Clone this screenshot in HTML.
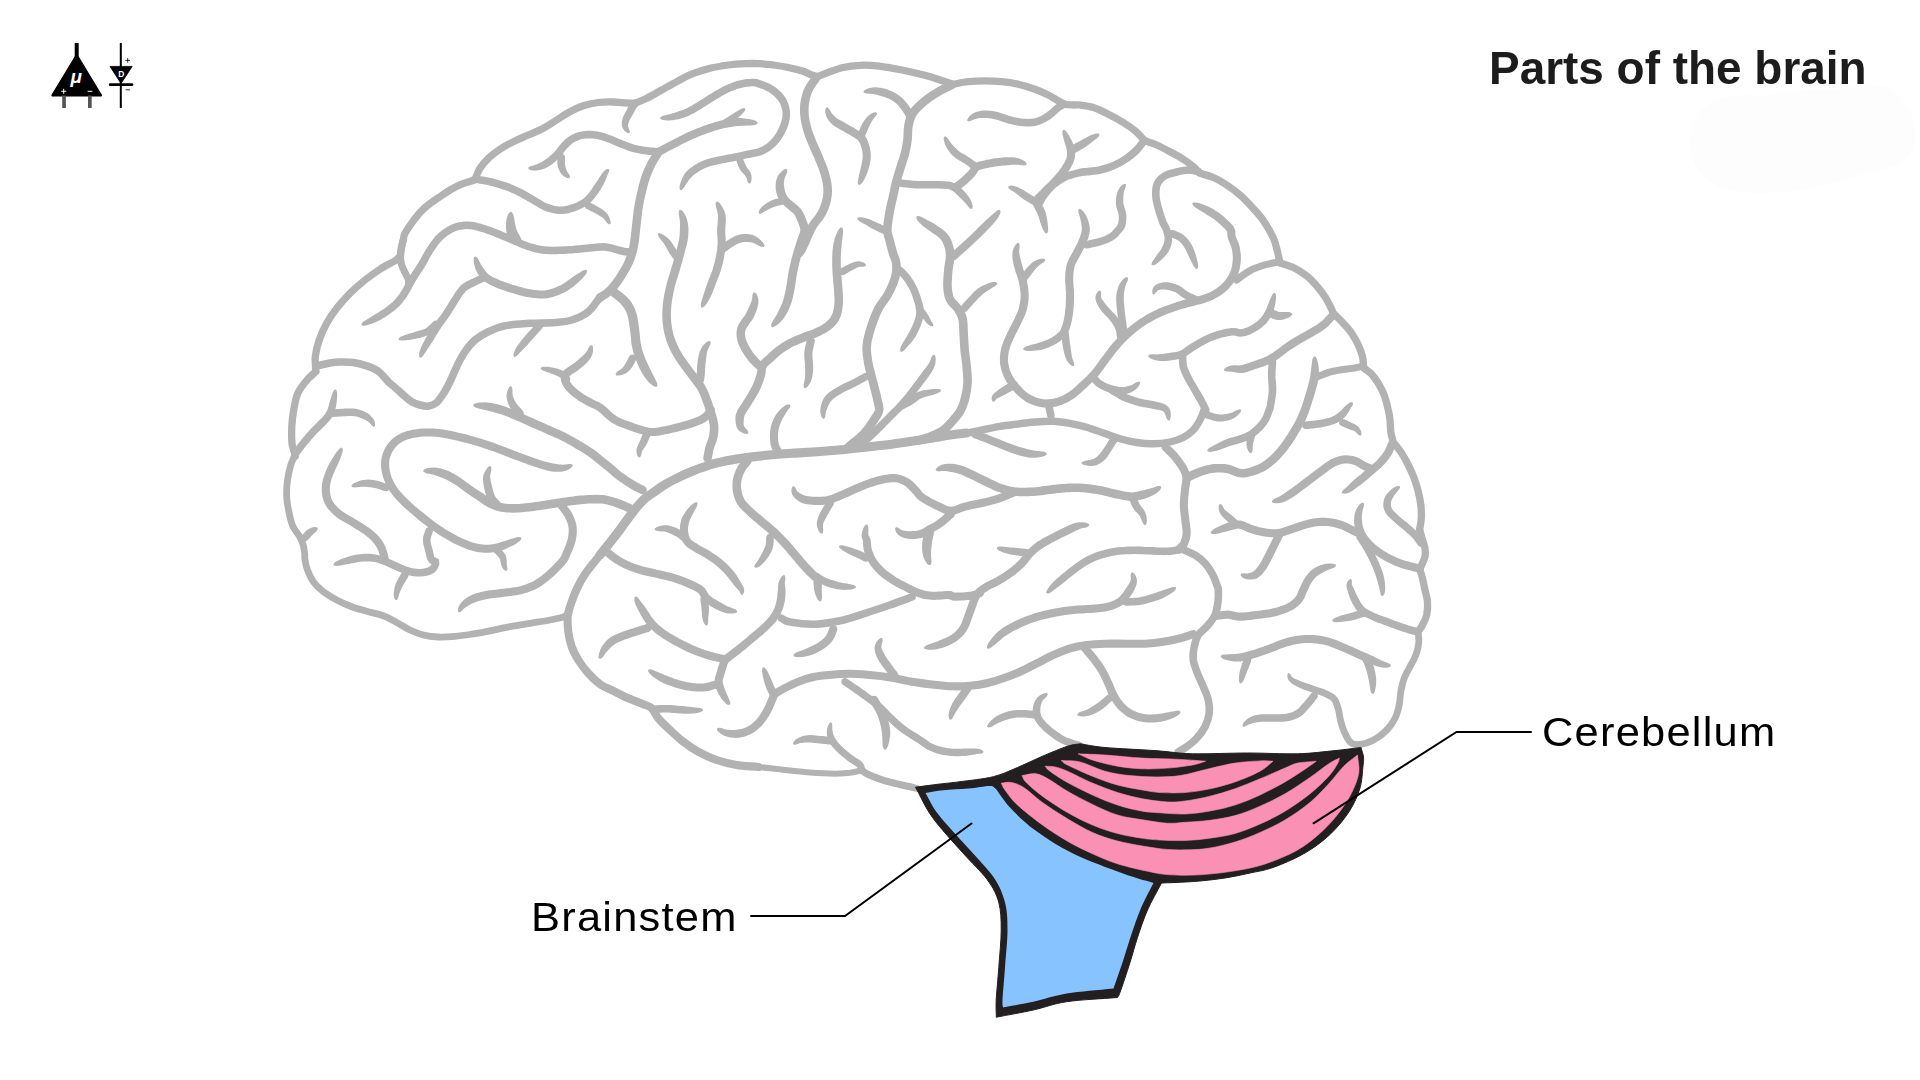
<!DOCTYPE html>
<html><head><meta charset="utf-8"><title>Parts of the brain</title>
<style>
html,body{margin:0;padding:0;background:#fff;}
body{width:1920px;height:1080px;overflow:hidden;position:relative;font-family:"Liberation Sans",sans-serif;}
svg{position:absolute;left:0;top:0;}
.t{position:absolute;white-space:nowrap;line-height:1;color:#000;transform-origin:0 0;filter:grayscale(1);}
</style></head><body>
<svg width="1920" height="1080" viewBox="0 0 1920 1080">
<path id="blob" d="M1690 140C1690 100 1730 92 1760 96C1800 88 1840 92 1860 85C1900 80 1918 110 1915 140C1912 170 1880 168 1850 178C1800 195 1740 198 1715 185C1695 172 1690 160 1690 140Z" fill="#fdfdfd"/>
<g id="brain">
<path d="M295.3 456.3C294.9 454.8 294.7 453.8 294.2 451.7C293.6 449.5 292.4 447.5 292.0 443.3C291.6 439.2 291.6 432.2 291.8 426.7C292.1 421.1 292.7 415.6 293.7 410.0C294.7 404.4 295.6 398.3 297.8 393.3C300.1 388.3 304.0 383.6 307.0 380.0C310.0 376.4 312.9 374.4 315.8 371.7" fill="none" stroke="#b2b2b2" stroke-width="7.3" stroke-linecap="round" stroke-linejoin="round"/>
<path d="M315.8 370.0C315.7 365.6 314.8 361.7 315.3 356.7C315.9 351.7 317.3 345.6 319.2 340.0C321.1 334.4 323.8 328.6 326.7 323.3C329.6 318.1 332.8 313.3 336.7 308.3C340.6 303.3 345.3 298.1 350.0 293.3C354.7 288.6 360.0 284.0 365.0 280.0C370.0 276.0 375.0 272.4 380.0 269.2C385.0 266.0 391.9 262.8 395.0 260.8C398.1 258.9 397.4 258.6 398.7 257.5" fill="none" stroke="#b2b2b2" stroke-width="7.3" stroke-linecap="round" stroke-linejoin="round"/>
<path d="M400.4 256.7C400.7 253.9 400.8 251.1 401.3 248.3C401.8 245.5 402.7 242.5 403.3 240.0C403.9 237.5 403.3 236.5 405.0 233.3C406.7 230.1 410.3 224.9 413.3 220.8C416.4 216.8 419.7 212.6 423.3 209.2C426.9 205.7 432.2 202.1 435.0 200.0C437.8 197.9 437.5 198.3 440.0 196.7C442.5 195.0 446.4 192.1 450.0 190.0C453.6 187.9 457.5 185.9 461.7 184.2C465.8 182.4 470.6 181.2 475.0 179.7" fill="none" stroke="#b2b2b2" stroke-width="7.3" stroke-linecap="round" stroke-linejoin="round"/>
<path d="M475.8 177.5C477.2 174.4 477.9 171.5 480.0 168.3C482.1 165.1 485.0 161.5 488.3 158.3C491.7 155.1 495.8 151.9 500.0 149.2C504.2 146.4 508.6 144.0 513.3 141.7C518.1 139.3 523.3 137.2 528.3 135.0C533.3 132.8 538.6 130.8 543.3 128.3C548.1 125.8 552.2 122.8 556.7 120.0C561.1 117.2 565.6 114.0 570.0 111.7C574.4 109.3 578.6 107.4 583.3 105.8C588.1 104.3 593.3 103.1 598.3 102.5C603.3 101.9 608.6 101.9 613.3 102.0C618.1 102.1 622.9 102.8 626.7 103.0C630.4 103.2 632.8 103.0 635.8 103.0" fill="none" stroke="#b2b2b2" stroke-width="7.3" stroke-linecap="round" stroke-linejoin="round"/>
<path d="M635.8 103.0C639.4 101.4 642.4 100.5 646.7 98.3C651.0 96.2 656.7 92.8 661.7 90.0C666.7 87.2 671.7 84.3 676.7 81.7C681.7 79.0 686.1 76.4 691.7 74.2C697.2 71.9 703.9 69.9 710.0 68.3C716.1 66.8 722.5 65.8 728.3 65.0C734.2 64.2 739.7 63.9 745.0 63.7C750.3 63.4 755.3 63.4 760.0 63.7C764.7 63.9 768.6 64.4 773.3 65.0C778.1 65.6 783.6 66.5 788.3 67.5C793.1 68.5 797.8 69.6 801.7 70.8C805.6 72.1 809.0 74.0 811.7 75.0C814.3 76.0 815.6 76.1 817.5 76.7" fill="none" stroke="#b2b2b2" stroke-width="7.3" stroke-linecap="round" stroke-linejoin="round"/>
<path d="M818.3 76.3C822.2 74.8 825.8 73.1 830.0 71.7C834.2 70.2 838.3 68.6 843.3 67.5C848.3 66.4 854.4 65.6 860.0 65.3C865.6 65.1 871.1 65.3 876.7 65.8C882.2 66.3 887.8 67.4 893.3 68.3C898.9 69.3 904.4 70.4 910.0 71.7C915.6 72.9 921.7 74.4 926.7 75.8C931.7 77.2 935.7 78.6 940.0 80.0C944.3 81.4 948.3 82.8 952.5 84.2" fill="none" stroke="#b2b2b2" stroke-width="7.3" stroke-linecap="round" stroke-linejoin="round"/>
<path d="M953.3 84.2C958.3 83.3 963.1 82.2 968.3 81.7C973.6 81.1 979.4 80.8 985.0 80.8C990.6 80.8 996.1 81.1 1001.7 81.7C1007.2 82.2 1012.8 82.9 1018.3 84.2C1023.9 85.4 1030.0 87.4 1035.0 89.2C1040.0 91.0 1044.4 93.1 1048.3 95.0C1052.2 96.9 1055.6 99.3 1058.3 100.8C1061.1 102.4 1062.5 103.5 1065.0 104.2C1067.5 104.9 1070.8 104.9 1073.3 105.0C1075.8 105.1 1076.7 104.6 1080.0 105.0C1083.3 105.4 1088.6 106.0 1093.3 107.5C1098.1 109.0 1103.3 111.7 1108.3 114.2C1113.3 116.7 1118.9 119.7 1123.3 122.5C1127.8 125.3 1131.5 127.9 1135.0 130.8C1138.5 133.7 1141.1 136.9 1144.2 140.0" fill="none" stroke="#b2b2b2" stroke-width="7.3" stroke-linecap="round" stroke-linejoin="round"/>
<path d="M1145.0 140.8C1148.9 142.2 1152.5 143.2 1156.7 145.0C1160.8 146.8 1165.6 149.3 1170.0 151.7C1174.4 154.0 1179.4 156.7 1183.3 159.2C1187.2 161.7 1190.7 164.4 1193.3 166.7C1196.0 168.9 1197.2 170.6 1199.2 172.5" fill="none" stroke="#b2b2b2" stroke-width="7.3" stroke-linecap="round" stroke-linejoin="round"/>
<path d="M1200.0 173.3C1204.4 174.7 1208.9 175.6 1213.3 177.5C1217.8 179.4 1222.2 182.1 1226.7 185.0C1231.1 187.9 1235.8 191.4 1240.0 195.0C1244.2 198.6 1248.1 202.8 1251.7 206.7C1255.3 210.6 1258.8 214.4 1261.7 218.3C1264.6 222.2 1267.1 226.4 1269.2 230.0C1271.2 233.6 1272.8 236.4 1274.2 240.0C1275.6 243.6 1276.6 248.1 1277.5 251.7C1278.4 255.3 1278.9 258.3 1279.7 261.7" fill="none" stroke="#b2b2b2" stroke-width="7.3" stroke-linecap="round" stroke-linejoin="round"/>
<path d="M1280.8 263.3C1285.0 264.7 1289.0 265.4 1293.3 267.5C1297.6 269.6 1302.8 272.8 1306.7 275.8C1310.6 278.9 1313.6 282.4 1316.7 285.8C1319.7 289.3 1322.6 293.1 1325.0 296.7C1327.4 300.3 1329.4 304.6 1330.8 307.5C1332.3 310.4 1332.7 311.9 1333.7 314.2" fill="none" stroke="#b2b2b2" stroke-width="7.3" stroke-linecap="round" stroke-linejoin="round"/>
<path d="M1334.2 314.2C1337.2 317.2 1340.4 320.1 1343.3 323.3C1346.2 326.5 1349.2 329.7 1351.7 333.3C1354.2 336.9 1356.5 341.1 1358.3 345.0C1360.1 348.9 1361.6 353.0 1362.5 356.7C1363.4 360.3 1363.3 363.6 1363.7 367.0" fill="none" stroke="#b2b2b2" stroke-width="7.3" stroke-linecap="round" stroke-linejoin="round"/>
<path d="M1364.2 368.3C1366.7 370.3 1369.3 371.7 1371.7 374.2C1374.0 376.7 1376.2 379.9 1378.3 383.3C1380.4 386.8 1382.5 390.6 1384.2 395.0C1385.8 399.4 1387.4 405.8 1388.3 410.0C1389.3 414.2 1389.6 416.4 1390.0 420.0C1390.4 423.6 1390.3 428.1 1390.8 431.7C1391.3 435.3 1392.3 438.3 1393.0 441.7" fill="none" stroke="#b2b2b2" stroke-width="7.3" stroke-linecap="round" stroke-linejoin="round"/>
<path d="M1394.2 443.3C1396.7 446.7 1399.3 449.7 1401.7 453.3C1404.0 456.9 1406.2 460.8 1408.3 465.0C1410.4 469.2 1412.5 473.9 1414.2 478.3C1415.8 482.8 1417.2 487.2 1418.3 491.7C1419.4 496.1 1420.3 500.6 1420.8 505.0C1421.3 509.4 1421.5 514.3 1421.3 518.3C1421.1 522.4 1420.2 525.6 1419.7 529.2" fill="none" stroke="#b2b2b2" stroke-width="7.3" stroke-linecap="round" stroke-linejoin="round"/>
<path d="M1420.0 530.8C1420.8 533.9 1421.7 537.1 1422.5 540.0C1423.3 542.9 1424.6 545.6 1425.0 548.3C1425.4 551.1 1425.6 553.9 1425.0 556.7C1424.4 559.4 1422.6 562.9 1421.7 565.0C1420.8 567.1 1420.3 567.8 1419.7 569.2" fill="none" stroke="#b2b2b2" stroke-width="7.3" stroke-linecap="round" stroke-linejoin="round"/>
<path d="M1420.0 570.0C1420.8 572.8 1421.7 575.0 1422.5 578.3C1423.3 581.7 1424.2 586.1 1425.0 590.0C1425.8 593.9 1427.2 597.5 1427.5 601.7C1427.8 605.8 1427.5 611.1 1426.7 615.0C1425.8 618.9 1423.9 622.2 1422.5 625.0C1421.1 627.8 1419.5 629.4 1418.0 631.7" fill="none" stroke="#b2b2b2" stroke-width="7.3" stroke-linecap="round" stroke-linejoin="round"/>
<path d="M1414.9 632.7L1415.1 634.9L1415.2 637.0L1415.4 639.1L1415.4 641.0L1415.3 643.0L1415.0 645.1L1414.6 647.2L1414.1 649.4L1413.4 651.6L1412.6 653.8L1411.9 655.6L1411.1 657.4L1410.1 659.2L1409.1 661.2L1408.0 663.1L1407.0 665.1L1406.0 667.0L1405.0 668.9L1403.9 670.8L1402.9 672.8L1401.9 674.9L1401.0 677.1L1400.2 679.4L1399.5 681.8L1398.9 684.1L1398.4 686.4L1397.9 688.8L1397.5 691.1L1397.1 693.4L1396.9 695.8L1396.7 698.0L1396.5 700.2L1396.2 702.3L1395.8 704.3L1395.4 706.5L1394.8 708.7L1394.2 710.8L1393.6 712.9L1392.8 714.9L1392.0 716.8L1390.9 718.7L1389.8 720.6L1388.5 722.4L1387.2 724.2L1385.7 726.0L1384.2 727.6L1382.6 729.3L1380.9 730.8L1379.0 732.3L1377.2 733.7L1375.2 735.0L1373.3 736.2L1371.3 737.3L1369.2 738.3L1367.1 739.1L1364.9 739.9L1362.9 740.4L1361.1 740.8L1359.1 741.1L1357.2 741.2L1355.6 741.0L1354.3 740.7L1353.2 740.2L1352.3 739.3L1351.2 738.0L1350.2 736.1L1349.1 734.0L1348.1 731.9L1347.1 729.8L1346.3 727.7L1345.5 725.4L1344.8 723.1L1344.1 720.8L1343.7 718.9L1343.3 716.9L1342.9 714.8L1342.6 712.6L1342.1 710.4L1341.6 708.3L1340.9 706.0L1340.2 703.7L1339.4 701.4L1338.3 699.1L1336.8 697.0L1334.9 695.1L1332.9 693.6L1330.8 692.4L1328.7 691.3L1326.4 690.2L1324.3 689.3L1322.0 688.5L1319.6 687.7L1317.3 687.0L1315.0 686.2L1312.8 685.5L1310.5 684.6L1308.1 683.8L1305.8 683.0L1303.5 682.2L1301.5 681.4L1299.7 680.7L1297.3 679.8L1295.4 679.0L1293.8 678.2L1292.7 677.5L1291.6 676.4L1290.7 674.8L1289.1 673.1L1287.6 673.6L1287.3 675.9L1287.6 678.3L1288.9 680.8L1290.6 682.5L1292.5 684.0L1294.6 685.3L1297.0 686.6L1299.0 687.5L1301.1 688.5L1303.5 689.4L1305.9 690.2L1308.2 691.0L1310.5 691.9L1312.9 692.7L1315.2 693.4L1317.5 694.2L1319.7 694.9L1321.8 695.7L1323.6 696.4L1325.7 697.4L1327.6 698.4L1329.2 699.3L1330.5 700.3L1331.6 701.3L1332.4 702.6L1333.1 704.1L1333.8 705.9L1334.4 707.9L1335.1 710.1L1335.5 711.9L1335.9 713.8L1336.2 715.9L1336.6 718.1L1337.0 720.3L1337.5 722.5L1338.3 725.1L1339.0 727.6L1339.9 730.0L1340.9 732.5L1341.9 734.8L1343.0 737.0L1344.2 739.4L1345.6 741.7L1347.3 744.0L1349.4 745.8L1351.9 747.1L1354.5 747.7L1357.1 748.0L1359.6 747.9L1362.2 747.5L1364.5 747.0L1367.0 746.4L1369.4 745.5L1371.9 744.5L1374.4 743.4L1376.7 742.1L1378.9 740.8L1381.1 739.3L1383.3 737.7L1385.3 736.0L1387.3 734.2L1389.1 732.4L1390.9 730.5L1392.5 728.5L1394.1 726.4L1395.5 724.3L1396.8 722.1L1398.0 719.8L1399.1 717.5L1400.0 715.1L1400.8 712.7L1401.4 710.4L1402.0 708.0L1402.5 705.7L1402.9 703.3L1403.2 700.9L1403.4 698.6L1403.6 696.4L1403.9 694.3L1404.2 692.2L1404.6 690.1L1405.1 687.9L1405.5 685.7L1406.1 683.5L1406.7 681.5L1407.4 679.5L1408.1 677.7L1409.0 675.8L1409.9 674.0L1410.9 672.1L1412.0 670.2L1413.0 668.2L1414.0 666.3L1415.0 664.4L1416.1 662.4L1417.2 660.4L1418.1 658.3L1419.0 656.2L1419.9 653.7L1420.6 651.2L1421.2 648.7L1421.7 646.2L1422.0 643.7L1422.2 641.2L1422.2 638.8L1422.0 636.5L1421.8 634.4L1421.7 632.3L1421.4 631.0L1420.6 630.0L1419.5 629.3L1418.1 629.1L1416.9 629.4L1415.8 630.2L1415.1 631.4Z" fill="#b2b2b2"/>
<path d="M294.3 456.3C293.2 459.2 292.0 461.1 290.8 465.0C289.7 468.9 288.2 474.7 287.5 480.0C286.8 485.3 286.4 491.1 286.7 496.7C286.9 502.2 288.1 508.3 289.2 513.3C290.2 518.3 291.3 522.9 293.0 526.7C294.7 530.4 297.5 532.9 299.2 535.8C300.8 538.8 302.1 541.2 303.0 544.2C303.9 547.1 304.3 550.7 304.7 553.3C305.0 556.0 304.5 557.2 305.0 560.0C305.5 562.8 306.1 566.4 307.5 570.0C308.9 573.6 310.7 578.1 313.3 581.7C316.0 585.3 319.4 588.6 323.3 591.7C327.2 594.7 331.9 597.5 336.7 600.0C341.4 602.5 346.4 604.7 351.7 606.7C356.9 608.6 363.1 610.1 368.3 611.7C373.6 613.2 378.6 614.0 383.3 615.8C388.1 617.6 392.2 620.1 396.7 622.5C401.1 624.9 405.6 627.9 410.0 630.0C414.4 632.1 418.6 633.8 423.3 635.0C428.1 636.2 433.1 636.8 438.3 637.0C443.6 637.2 449.4 636.8 455.0 636.3C460.6 635.9 465.8 635.1 471.7 634.2C477.5 633.2 483.6 632.1 490.0 630.8C496.4 629.6 503.3 627.9 510.0 626.7C516.7 625.4 523.3 624.4 530.0 623.3C536.7 622.2 544.7 621.0 550.0 620.0C555.3 619.0 558.8 618.3 561.7 617.5C564.5 616.7 565.2 615.8 567.0 615.0" fill="none" stroke="#b2b2b2" stroke-width="6.8" stroke-linecap="round" stroke-linejoin="round"/>
<path d="M1204.2 410.0C1202.8 413.3 1201.8 416.7 1200.0 420.0C1198.2 423.3 1196.1 427.1 1193.3 430.0C1190.6 432.9 1187.2 435.5 1183.3 437.5C1179.4 439.5 1175.0 440.9 1170.0 442.0C1165.0 443.1 1158.9 443.8 1153.3 443.8C1147.8 443.9 1142.2 443.4 1136.7 442.5C1131.1 441.6 1125.6 440.2 1120.0 438.7C1114.4 437.1 1108.9 434.9 1103.3 433.0C1097.8 431.1 1092.2 428.8 1086.7 427.2C1081.1 425.6 1075.6 424.3 1070.0 423.3C1064.4 422.4 1059.2 421.6 1053.3 421.3C1047.5 421.1 1041.1 421.5 1035.0 422.0C1028.9 422.5 1022.5 423.4 1016.7 424.2C1010.8 424.9 1005.6 425.4 1000.0 426.3C994.4 427.2 988.9 428.6 983.3 429.7C977.8 430.8 972.2 432.1 966.7 433.0C961.1 433.9 955.3 434.2 950.0 435.0C944.7 435.8 940.0 436.7 935.0 437.5C930.0 438.3 925.0 439.2 920.0 440.0" fill="none" stroke="#b2b2b2" stroke-width="7.4" stroke-linecap="round" stroke-linejoin="round"/>
<path d="M966.7 433.0C961.1 433.7 955.3 434.2 950.0 435.0C944.7 435.8 940.0 436.7 935.0 437.5C930.0 438.3 927.2 438.9 920.0 440.0C912.8 441.1 900.6 443.0 891.7 444.2C882.8 445.3 875.0 446.1 866.7 447.0C858.3 447.9 850.0 448.9 841.7 449.7C833.3 450.4 825.0 451.1 816.7 451.7C808.3 452.3 800.0 452.7 791.7 453.3C783.3 453.9 774.2 454.6 766.7 455.3C759.2 456.0 753.3 456.6 746.7 457.5C740.0 458.4 732.8 459.6 726.7 460.8C720.5 462.1 715.2 463.3 709.7 465.0C704.1 466.7 698.6 468.8 693.3 470.8C688.1 472.9 682.9 475.3 678.3 477.5C673.7 479.7 669.8 481.7 665.7 484.2C661.5 486.7 656.9 490.0 653.3 492.5C649.8 495.0 647.1 496.5 644.2 499.2C641.2 501.8 638.6 505.0 635.8 508.3C633.1 511.7 630.3 515.4 627.5 519.2C624.7 522.9 622.1 526.9 619.2 530.8C616.2 534.7 613.2 538.5 610.0 542.5C606.8 546.5 603.3 550.8 600.0 555.0" fill="none" stroke="#b2b2b2" stroke-width="9.1" stroke-linecap="round" stroke-linejoin="round"/>
<path d="M619.2 530.8C616.1 534.7 613.2 538.5 610.0 542.5C606.8 546.5 602.8 551.5 600.0 555.0C597.2 558.5 595.8 560.1 593.3 563.3C590.8 566.5 587.6 570.1 585.0 574.2C582.4 578.2 579.7 582.9 577.5 587.5C575.3 592.1 573.3 596.9 571.7 601.7C570.1 606.4 568.4 610.8 567.8 615.8C567.3 620.8 567.7 626.5 568.3 631.7C569.0 636.8 570.0 641.9 571.7 646.7C573.3 651.4 575.6 655.6 578.3 660.0C581.1 664.4 584.7 669.3 588.3 673.3C591.9 677.4 595.8 681.2 600.0 684.2C604.2 687.1 608.6 688.5 613.3 690.8C618.1 693.2 623.3 696.1 628.3 698.3C633.3 700.6 639.4 702.5 643.3 704.2C647.2 705.8 649.2 706.0 651.7 708.3C654.2 710.7 655.3 714.7 658.3 718.3C661.4 721.9 665.8 726.1 670.0 730.0C674.2 733.9 678.6 738.1 683.3 741.7C688.1 745.3 692.8 748.6 698.3 751.7C703.9 754.7 710.3 757.8 716.7 760.0C723.1 762.2 729.7 763.8 736.7 765.0C743.6 766.2 751.1 766.3 758.3 767.0" fill="none" stroke="#b2b2b2" stroke-width="8.1" stroke-linecap="round" stroke-linejoin="round"/>
<path d="M736.7 765.0C743.9 765.7 750.3 766.2 758.3 767.0C766.4 767.8 776.4 769.1 785.0 770.0C793.6 770.9 801.7 771.9 810.0 772.5C818.3 773.1 828.3 773.6 835.0 773.7C841.7 773.7 845.8 773.1 850.0 772.7C854.2 772.2 856.7 771.4 860.0 770.8" fill="none" stroke="#b2b2b2" stroke-width="6.1" stroke-linecap="round" stroke-linejoin="round"/>
<path d="M362.0 325.4L364.4 325.7L366.5 325.3L368.6 324.8L370.8 324.1L373.1 323.3L375.1 322.4L377.1 321.5L379.2 320.5L381.3 319.4L383.4 318.1L385.4 316.9L387.4 315.5L389.5 314.1L391.6 312.6L393.7 311.1L395.7 309.5L397.6 307.8L399.4 306.0L401.0 304.2L402.5 302.4L403.9 300.6L405.2 298.9L406.5 297.2L407.8 295.1L409.0 293.1L410.1 291.2L411.0 289.4L412.0 287.7L413.1 285.6L414.2 283.7L415.2 281.8L416.6 279.5L417.5 278.0L418.6 276.3L419.8 274.5L421.1 272.6L422.4 270.7L423.7 268.7L424.9 266.6L426.1 264.5L427.3 262.4L428.5 260.2L429.6 258.1L430.8 256.0L432.0 254.0L433.2 252.1L434.5 250.1L435.8 248.2L437.1 246.3L438.4 244.5L439.8 242.8L441.2 241.2L442.6 239.8L444.2 238.3L445.9 237.0L447.7 235.6L449.5 234.4L451.3 233.3L453.1 232.3L454.8 231.5L456.8 230.7L458.7 230.1L460.7 229.7L462.7 229.4L464.7 229.2L466.7 229.1L468.6 229.2L470.5 229.3L472.5 229.6L474.5 230.0L476.7 230.6L479.0 231.2L480.8 231.7L482.8 232.3L484.8 233.0L486.8 233.7L488.9 234.5L491.1 235.3L493.2 236.1L495.3 236.9L497.3 237.7L499.4 238.5L501.4 239.4L503.5 240.3L505.6 241.2L507.7 242.1L509.8 243.0L511.9 243.8L513.9 244.7L516.0 245.6L518.1 246.5L520.2 247.4L522.3 248.3L524.5 249.1L526.7 249.9L528.9 250.6L531.2 251.3L533.5 252.0L535.8 252.6L538.2 253.1L540.7 253.5L543.5 253.9L546.4 254.1L548.5 254.2L550.6 254.3L552.8 254.3L555.1 254.3L557.4 254.2L559.8 254.1L562.2 254.0L564.6 253.9L567.0 253.8L569.5 253.6L571.9 253.5L574.3 253.3L576.8 253.1L579.3 252.8L582.0 252.6L584.6 252.3L587.3 252.0L589.8 251.8L592.3 251.5L594.6 251.3L596.7 251.1L598.6 250.9L600.2 250.8L603.5 250.7L605.0 250.7L606.0 250.9L607.6 251.2L609.5 251.6L611.5 252.1L613.6 252.8L615.7 253.3L617.8 253.9L620.0 254.5L622.2 255.0L624.5 255.4L627.1 255.7L629.4 255.7L631.6 255.8L633.0 255.5L634.3 254.7L635.1 253.5L635.5 252.1L635.2 250.6L634.4 249.4L633.2 248.5L631.8 248.2L629.6 248.2L627.6 248.1L625.5 247.9L623.8 247.6L621.9 247.1L619.7 246.5L617.6 246.0L615.6 245.4L613.5 244.8L611.3 244.2L609.1 243.8L607.4 243.4L605.8 243.2L603.5 243.1L599.8 243.2L598.0 243.3L596.1 243.5L593.9 243.7L591.5 243.9L589.0 244.2L586.5 244.5L583.9 244.8L581.2 245.0L578.6 245.3L576.1 245.5L573.7 245.7L571.4 245.9L569.0 246.0L566.6 246.2L564.2 246.3L561.8 246.4L559.5 246.5L557.2 246.6L554.9 246.7L552.8 246.7L550.7 246.7L548.8 246.6L546.9 246.5L544.2 246.3L541.9 246.0L539.7 245.6L537.6 245.2L535.5 244.6L533.4 244.0L531.1 243.4L529.1 242.7L527.2 242.0L525.2 241.2L523.1 240.4L521.1 239.5L519.0 238.6L516.9 237.7L514.8 236.8L512.7 236.0L510.7 235.1L508.6 234.2L506.5 233.3L504.4 232.4L502.3 231.5L500.2 230.6L498.0 229.8L495.9 229.0L493.8 228.2L491.6 227.3L489.4 226.5L487.2 225.8L485.1 225.1L483.0 224.4L481.0 223.8L478.5 223.2L476.1 222.6L473.8 222.1L471.4 221.8L469.1 221.6L466.6 221.5L464.2 221.6L461.8 221.9L459.3 222.2L456.8 222.8L454.3 223.5L451.8 224.5L449.7 225.5L447.5 226.7L445.4 228.0L443.3 229.4L441.2 231.0L439.3 232.6L437.4 234.2L435.6 236.0L433.9 237.9L432.4 239.9L430.9 241.9L429.5 243.9L428.2 245.9L426.8 247.9L425.5 250.1L424.2 252.2L423.0 254.4L421.8 256.6L420.7 258.7L419.5 260.8L418.4 262.7L417.2 264.6L416.0 266.5L414.7 268.4L413.5 270.3L412.3 272.1L411.1 273.9L410.1 275.5L408.6 278.0L407.5 280.1L406.5 282.0L405.3 284.0L404.4 285.8L403.4 287.6L402.4 289.3L401.4 291.1L400.2 292.8L399.1 294.4L397.9 296.0L396.6 297.6L395.3 299.2L393.9 300.8L392.4 302.2L390.8 303.6L389.0 305.1L387.1 306.5L385.2 307.9L383.2 309.2L381.3 310.5L379.4 311.7L377.5 312.9L375.6 314.1L373.7 315.2L371.9 316.3L370.2 317.4L368.3 318.6L366.5 319.7L364.7 320.8L362.9 322.0L361.4 323.9Z" fill="#b2b2b2"/>
<path d="M403.3 240.0C402.6 242.8 401.8 245.5 401.3 248.3C400.8 251.1 400.3 253.9 400.4 256.7C400.5 259.5 400.9 262.4 401.7 265.0C402.5 267.6 403.9 270.1 405.0 272.5C406.1 274.9 407.7 277.3 408.3 279.5C408.9 281.7 408.5 283.5 408.6 285.5" fill="none" stroke="#b2b2b2" stroke-width="7.1" stroke-linecap="round" stroke-linejoin="round"/>
<path d="M510.0 212.0L508.1 214.2L507.3 216.5L506.7 218.8L506.2 221.2L506.0 223.6L505.9 226.3L506.0 229.0L506.4 231.6L507.0 234.2L508.0 236.7L509.2 238.9L510.3 240.6L511.2 242.3L512.6 243.9L514.5 244.8L516.5 244.9L518.5 244.3L520.0 242.9L521.0 241.0L521.1 239.0L520.4 237.0L519.4 235.2L518.4 233.5L517.6 232.1L517.0 230.8L516.4 229.2L515.9 227.4L515.5 225.3L515.0 223.1L514.7 221.2L514.3 219.1L513.9 216.8L513.3 214.4L511.6 212.0Z" fill="#b2b2b2"/>
<path d="M474.2 256.9L473.6 259.2L473.7 261.4L474.0 263.6L474.5 265.8L475.2 268.1L476.1 270.4L477.2 272.7L478.6 275.1L480.2 277.5L482.2 279.6L484.2 281.2L486.2 282.6L488.3 283.8L490.4 284.9L492.7 286.0L495.0 287.0L497.0 287.9L499.0 288.7L501.2 289.5L503.4 290.2L505.6 291.0L507.8 291.7L510.0 292.4L512.2 293.0L514.6 293.8L517.0 294.5L519.4 295.2L521.9 295.8L524.4 296.4L526.9 296.9L529.4 297.3L531.8 297.7L534.3 298.0L536.8 298.3L539.3 298.5L541.9 298.6L544.6 298.5L547.2 298.2L549.6 297.8L551.9 297.2L554.2 296.6L556.5 295.8L558.7 294.9L560.9 294.0L563.1 293.0L565.3 291.9L567.4 290.7L569.6 289.3L571.7 287.8L573.8 286.2L575.7 284.6L577.5 283.0L579.1 281.6L580.5 280.2L582.5 278.3L584.0 276.5L585.3 274.9L586.5 273.2L587.2 270.9L586.1 269.7L583.7 270.2L582.0 271.1L580.3 272.2L578.4 273.4L576.2 274.8L574.5 275.8L572.7 277.1L570.8 278.4L568.9 279.8L567.0 281.2L565.1 282.5L563.2 283.7L561.4 284.8L559.6 285.7L557.6 286.6L555.7 287.4L553.7 288.2L551.8 288.8L549.8 289.4L547.9 289.8L546.1 290.2L544.0 290.4L541.9 290.5L539.7 290.4L537.5 290.2L535.3 290.0L532.9 289.7L530.6 289.3L528.4 288.9L526.1 288.5L523.8 287.9L521.5 287.3L519.2 286.7L516.9 286.0L514.5 285.3L512.4 284.7L510.3 284.0L508.1 283.3L506.0 282.6L503.9 281.8L501.9 281.1L500.0 280.4L498.3 279.6L496.1 278.6L494.0 277.7L492.2 276.7L490.5 275.7L489.0 274.7L487.8 273.7L486.4 272.3L485.1 270.7L483.8 268.9L482.6 267.0L481.4 265.2L480.4 263.5L479.5 261.8L478.6 260.0L477.6 258.1L475.8 256.4Z" fill="#b2b2b2"/>
<path d="M483.4 273.6L481.4 274.5L479.5 275.4L477.5 276.3L475.5 277.2L473.5 278.2L471.6 279.1L469.5 280.1L467.4 281.1L465.2 282.3L463.0 283.7L460.7 285.6L459.0 287.5L457.4 289.5L455.9 291.6L454.5 293.7L453.2 295.8L451.8 297.9L450.6 299.8L449.4 301.7L448.2 303.7L447.0 305.7L445.8 307.6L444.7 309.5L443.5 311.2L442.2 313.2L440.8 315.0L439.4 316.9L438.0 318.8L436.6 320.8L435.2 322.9L433.9 324.8L432.7 326.7L431.5 328.7L430.2 330.7L429.0 332.6L427.9 334.5L426.7 336.4L425.5 338.5L424.4 340.7L423.3 342.8L422.3 344.8L421.4 346.8L420.7 348.6L419.8 351.0L419.3 353.1L419.0 355.0L419.3 357.2L420.7 357.8L422.5 356.5L423.6 354.9L424.7 353.3L426.0 351.4L427.0 349.8L428.2 348.1L429.4 346.3L430.7 344.3L432.0 342.3L433.3 340.3L434.4 338.5L435.5 336.6L436.7 334.6L437.9 332.7L439.1 330.8L440.3 328.9L441.5 327.1L442.8 325.2L444.2 323.3L445.6 321.4L447.0 319.5L448.4 317.5L449.8 315.4L451.1 313.5L452.3 311.6L453.5 309.6L454.7 307.7L455.9 305.7L457.0 303.9L458.2 302.1L459.6 299.9L460.9 297.8L462.2 295.8L463.5 294.0L464.7 292.4L465.9 291.1L467.4 289.9L469.0 288.9L470.8 287.9L472.9 287.0L475.0 285.9L476.9 285.0L478.7 284.1L480.7 283.2L482.6 282.3L484.6 281.4L486.6 280.4L487.8 279.6L488.6 278.3L488.8 276.8L488.4 275.4L487.6 274.2L486.3 273.4L484.8 273.2Z" fill="#b2b2b2"/>
<path d="M433.4 321.6L431.9 323.0L430.4 324.4L428.9 325.8L427.5 327.0L426.4 327.9L424.7 328.9L423.0 329.5L420.6 330.3L418.7 330.8L416.5 331.5L414.1 332.2L411.6 332.9L409.3 333.6L407.1 334.4L404.9 335.1L402.7 335.9L400.5 336.8L398.5 338.4L398.8 339.9L401.3 340.5L403.7 340.5L406.0 340.3L408.4 340.0L410.7 339.7L413.2 339.3L415.7 338.8L418.2 338.3L420.6 337.7L422.7 337.1L425.4 336.2L427.8 335.2L430.3 333.8L432.0 332.5L433.7 331.1L435.2 329.6L436.7 328.2L438.2 326.8L439.1 325.7L439.4 324.3L439.2 322.9L438.4 321.8L437.3 320.9L436.0 320.6L434.6 320.8Z" fill="#b2b2b2"/>
<path d="M658.3 152.5C656.1 156.1 653.8 159.3 651.7 163.3C649.6 167.4 647.5 171.9 645.8 176.7C644.2 181.4 642.9 186.4 641.7 191.7C640.4 196.9 639.3 201.9 638.3 208.3C637.4 214.7 636.4 224.7 635.8 230.0C635.2 235.3 635.2 236.4 634.7 240.0C634.1 243.6 633.6 247.8 632.5 251.7C631.4 255.6 630.1 259.4 628.3 263.3C626.5 267.2 624.0 271.2 621.7 275.0C619.3 278.8 616.7 282.8 614.2 285.8C611.7 288.9 609.0 291.4 606.7 293.3C604.3 295.3 602.2 296.1 600.0 297.5" fill="none" stroke="#b2b2b2" stroke-width="8.6" stroke-linecap="round" stroke-linejoin="round"/>
<path d="M614.2 285.8C611.7 288.3 609.0 291.4 606.7 293.3C604.3 295.3 603.1 294.4 600.0 297.5C596.9 300.6 593.1 307.9 588.3 311.7C583.6 315.4 577.2 318.2 571.7 320.0C566.1 321.8 561.9 321.9 555.0 322.5C548.1 323.1 538.3 322.8 530.0 323.3C521.7 323.9 511.9 324.4 505.0 325.8C498.1 327.2 493.3 329.3 488.3 331.7C483.3 334.0 478.9 336.7 475.0 340.0C471.1 343.3 468.1 347.2 465.0 351.7C461.9 356.1 459.0 361.9 456.7 366.7C454.3 371.4 452.9 375.7 450.8 380.0C448.8 384.3 446.5 388.8 444.2 392.5C441.8 396.2 439.3 400.2 436.7 402.5C434.0 404.8 431.1 405.8 428.3 406.2C425.6 406.6 422.8 405.8 420.0 405.0C417.2 404.2 414.4 403.3 411.7 401.7C408.9 400.0 406.1 397.4 403.3 395.0C400.6 392.6 397.5 389.7 395.0 387.5C392.5 385.3 391.1 384.4 388.3 381.7C385.6 379.0 381.9 374.0 378.3 371.3C374.7 368.7 370.8 367.3 366.7 365.8C362.5 364.4 357.8 363.1 353.3 362.5C348.9 361.9 343.9 361.9 340.0 362.0C336.1 362.1 333.3 362.4 330.0 363.0C326.7 363.6 323.3 364.6 320.0 365.3" fill="none" stroke="#b2b2b2" stroke-width="7.6" stroke-linecap="round" stroke-linejoin="round"/>
<path d="M537.2 322.5L535.7 324.2L534.1 325.9L532.5 327.7L531.0 329.4L529.4 331.1L527.9 332.8L526.4 334.5L525.1 336.0L523.8 337.5L522.1 339.6L520.6 341.5L519.3 343.3L518.0 345.0L516.9 346.6L515.9 348.3L514.8 350.4L514.0 352.4L513.5 354.1L513.5 356.3L514.9 357.1L516.7 356.0L518.0 354.7L519.2 353.4L520.7 351.7L521.9 350.5L523.2 349.2L524.6 347.8L526.1 346.2L527.8 344.4L529.5 342.5L530.8 341.1L532.1 339.5L533.6 337.9L535.1 336.2L536.6 334.5L538.2 332.7L539.8 331.0L541.3 329.2L542.8 327.5L543.6 326.2L543.8 324.8L543.4 323.3L542.5 322.2L541.2 321.4L539.8 321.2L538.3 321.6Z" fill="#b2b2b2"/>
<path d="M590.9 345.1L589.1 346.7L588.2 348.6L587.4 350.2L586.6 351.7L585.5 353.1L584.3 354.4L582.8 355.8L581.1 357.3L579.3 358.8L577.5 360.4L575.8 361.9L574.0 363.2L572.0 364.6L569.8 366.0L567.6 367.4L565.5 368.9L563.5 370.8L561.4 374.0L560.6 377.6L561.1 380.9L562.0 383.6L563.3 386.2L565.0 388.7L567.0 391.0L568.5 392.6L570.2 394.2L572.0 395.7L573.9 397.2L575.8 398.6L577.7 400.0L579.7 401.3L581.9 402.6L584.0 403.8L586.0 404.9L588.0 406.0L589.9 407.0L592.2 408.1L594.1 408.8L595.6 409.5L597.7 410.8L598.9 411.8L600.4 413.1L602.1 414.6L603.9 416.3L605.8 418.0L607.8 419.7L609.8 421.3L611.8 422.7L614.1 424.1L616.3 425.2L618.5 426.2L620.6 427.0L622.7 427.8L624.8 428.5L626.7 429.3L629.2 430.2L631.6 431.1L634.1 431.9L636.6 432.7L638.9 433.5L641.1 434.1L643.4 434.7L645.5 435.2L647.7 435.7L650.0 436.0L652.5 436.0L654.8 436.0L657.1 435.7L659.5 435.4L661.8 435.0L664.1 434.6L666.4 434.1L668.8 433.7L671.2 433.1L673.6 432.6L676.0 432.0L678.3 431.4L680.7 430.7L683.1 430.1L685.6 429.4L688.1 428.7L690.5 428.0L692.9 427.2L695.0 426.5L697.4 425.6L699.5 424.8L701.6 423.9L703.5 423.0L705.4 421.9L708.0 420.0L710.1 418.1L711.8 416.2L713.4 413.9L714.5 412.0L715.0 410.4L714.9 408.9L714.2 407.5L713.0 406.5L711.4 406.0L709.9 406.1L708.5 406.8L707.5 408.0L706.6 409.6L705.5 411.1L704.4 412.3L702.9 413.7L701.0 415.1L699.7 415.8L698.2 416.5L696.4 417.3L694.5 418.1L692.3 418.8L690.3 419.5L688.1 420.2L685.8 420.9L683.4 421.6L681.0 422.3L678.6 422.9L676.3 423.5L674.0 424.1L671.7 424.7L669.4 425.2L667.1 425.7L664.9 426.2L662.6 426.6L660.4 427.0L658.2 427.4L656.2 427.7L654.2 427.9L652.5 428.0L650.6 427.9L649.0 427.7L647.3 427.3L645.4 426.9L643.2 426.3L641.2 425.7L639.0 425.0L636.7 424.3L634.3 423.5L632.0 422.6L629.6 421.7L627.5 420.9L625.5 420.2L623.6 419.5L621.6 418.7L619.8 417.9L618.0 417.0L616.2 415.9L614.6 414.8L612.9 413.5L611.2 411.9L609.4 410.3L607.6 408.6L605.8 407.0L604.1 405.5L602.3 404.2L599.6 402.4L597.3 401.4L595.5 400.7L593.5 399.7L591.8 398.8L589.9 397.8L587.9 396.7L585.9 395.6L584.0 394.5L582.3 393.3L580.6 392.1L578.8 390.8L577.2 389.5L575.6 388.1L574.2 386.8L573.0 385.7L571.5 383.8L570.2 382.0L569.4 380.3L568.9 379.1L568.7 377.8L569.8 375.9L570.6 375.2L572.2 374.1L574.2 372.8L576.4 371.4L578.7 369.8L580.9 368.1L582.8 366.5L584.7 364.7L586.6 362.9L588.3 361.0L589.9 359.0L591.2 356.9L592.3 354.4L592.9 352.0L593.1 349.8L593.1 347.8L592.4 345.6Z" fill="#b2b2b2"/>
<path d="M540.7 369.1L542.8 370.6L544.9 371.3L547.0 372.0L549.3 372.8L551.4 373.7L553.8 374.6L556.2 375.5L558.3 376.5L559.8 377.2L561.4 378.4L562.5 379.7L563.9 381.4L565.0 382.3L566.4 382.7L567.7 382.6L568.9 381.9L569.8 380.8L570.2 379.5L570.1 378.1L569.4 376.9L568.0 375.2L566.2 373.2L563.5 371.1L561.1 370.0L558.5 369.1L555.8 368.3L553.2 367.7L550.7 367.2L548.1 366.8L545.6 366.7L543.4 366.8L541.0 367.5Z" fill="#b2b2b2"/>
<path d="M475.2 182.9L477.6 183.3L479.9 183.7L482.2 184.0L484.4 184.4L486.7 184.8L489.1 185.4L491.3 185.9L493.7 186.6L496.1 187.2L498.5 188.0L500.9 188.7L503.2 189.5L505.4 190.2L507.7 191.1L509.9 192.0L512.0 192.9L514.1 193.8L516.2 194.8L518.3 195.9L520.1 196.8L522.0 197.9L523.9 198.9L525.8 200.0L527.7 201.2L529.6 202.2L531.4 203.3L533.4 204.5L535.4 205.6L537.3 206.8L539.3 208.0L541.4 209.1L543.5 210.2L546.0 211.2L548.6 212.0L551.2 212.8L553.7 213.3L556.1 213.8L558.5 214.0L560.7 214.1L562.9 214.0L565.1 213.8L567.4 213.4L569.9 212.8L572.5 212.1L575.1 211.2L577.6 210.3L579.9 209.3L582.4 208.1L584.8 206.8L587.0 205.4L589.1 203.8L590.8 202.3L592.3 200.7L593.7 199.1L595.0 197.4L596.4 195.6L597.8 193.7L599.2 191.6L600.6 189.5L601.9 187.3L603.1 185.2L604.2 183.1L605.2 181.0L606.0 179.0L606.7 177.1L607.3 175.6L608.2 173.6L609.0 171.8L609.3 169.7L608.0 168.7L606.0 169.5L604.4 170.8L602.7 172.7L601.5 174.3L600.4 176.0L599.2 177.8L598.0 179.7L596.9 181.5L595.6 183.3L594.3 185.3L592.9 187.3L591.6 189.3L590.3 191.1L589.0 192.7L587.8 194.2L586.6 195.6L585.5 196.8L584.2 197.9L582.6 199.2L580.9 200.3L579.0 201.3L576.8 202.4L574.8 203.2L572.6 204.0L570.2 204.8L568.0 205.5L565.9 205.9L564.1 206.3L562.4 206.4L560.7 206.5L559.0 206.4L557.2 206.2L555.2 205.9L553.1 205.4L550.9 204.8L548.7 204.0L546.5 203.2L544.8 202.4L543.1 201.4L541.2 200.3L539.3 199.2L537.3 197.9L535.2 196.7L533.4 195.7L531.6 194.6L529.6 193.5L527.7 192.3L525.7 191.2L523.7 190.1L521.7 189.1L519.5 188.0L517.3 187.0L515.1 186.0L512.8 185.0L510.5 184.0L508.0 183.1L505.7 182.3L503.2 181.5L500.7 180.7L498.2 179.9L495.7 179.2L493.2 178.6L490.9 178.0L488.3 177.4L485.8 176.9L483.4 176.5L481.0 176.2L478.8 175.8L476.5 175.4L475.0 175.5L473.6 176.1L472.6 177.2L472.1 178.5L472.1 180.0L472.7 181.4L473.8 182.4Z" fill="#b2b2b2"/>
<path d="M586.8 209.0L588.9 210.0L591.0 211.0L592.9 212.0L594.9 213.1L596.6 214.0L598.4 215.0L600.0 215.9L601.5 216.9L602.8 217.8L604.2 219.3L605.6 221.0L607.1 222.9L609.3 224.6L610.7 223.8L610.5 221.1L609.8 218.7L608.7 216.2L607.2 213.8L605.6 212.1L603.8 210.6L602.0 209.2L600.2 208.0L598.4 206.9L596.2 205.7L594.0 204.6L591.9 203.6L589.9 202.6L588.5 202.3L587.2 202.5L586.0 203.2L585.1 204.3L584.8 205.6L585.0 207.0L585.7 208.2Z" fill="#b2b2b2"/>
<path d="M630.9 102.3L629.8 104.2L628.8 106.0L627.7 107.9L626.7 109.9L625.5 112.0L624.4 114.2L623.3 116.6L622.5 118.8L621.9 121.4L621.7 123.9L622.1 126.4L623.1 128.8L624.5 130.7L625.9 132.1L627.5 133.1L629.1 133.2L629.9 131.8L629.6 130.6L629.1 129.5L628.7 128.2L628.1 126.6L627.9 125.3L628.1 124.2L628.5 122.9L629.1 121.2L629.9 119.6L631.0 117.7L632.2 115.5L633.3 113.5L634.4 111.6L635.4 109.7L636.4 107.9L637.5 106.0L637.9 104.6L637.8 103.1L637.2 101.8L636.0 100.9L634.6 100.4L633.1 100.5L631.8 101.2Z" fill="#b2b2b2"/>
<path d="M528.4 169.1L530.5 170.1L532.5 170.5L534.9 170.6L537.4 170.4L539.5 170.0L541.7 169.5L544.0 168.7L546.3 167.7L548.6 166.5L550.6 165.3L552.4 163.9L554.2 162.4L556.0 160.9L557.7 159.3L559.4 157.6L561.0 155.9L562.5 154.0L563.9 152.2L565.3 150.5L566.5 149.0L567.7 147.7L569.2 146.2L570.7 144.8L572.2 143.6L573.6 142.6L575.2 141.7L576.8 140.9L578.5 140.2L580.2 139.6L582.0 139.1L583.9 138.8L585.9 138.5L588.0 138.4L590.1 138.4L592.3 138.5L594.5 138.8L596.6 139.1L598.7 139.6L600.8 140.1L603.1 140.8L605.4 141.6L607.5 142.3L609.6 143.1L611.8 144.0L614.0 145.0L616.3 146.0L618.6 146.9L620.8 147.7L623.0 148.6L625.3 149.5L627.6 150.4L629.9 151.3L632.3 152.0L634.7 152.6L637.2 153.1L639.6 153.6L641.9 154.0L644.1 154.3L646.2 154.6L648.5 154.9L650.6 155.1L652.6 155.2L654.5 155.3L656.4 155.5L657.9 155.3L659.2 154.5L660.1 153.4L660.5 151.9L660.3 150.5L659.5 149.2L658.4 148.3L656.9 147.9L655.0 147.7L653.1 147.6L651.2 147.5L649.3 147.3L647.2 147.1L645.2 146.8L643.1 146.5L640.9 146.1L638.7 145.7L636.5 145.2L634.4 144.7L632.3 144.0L630.2 143.3L628.1 142.5L625.9 141.6L623.6 140.7L621.4 139.8L619.2 138.9L617.0 138.0L614.7 137.0L612.4 136.1L610.1 135.2L607.9 134.4L605.4 133.6L602.9 132.8L600.5 132.2L598.0 131.6L595.5 131.2L592.9 131.0L590.4 130.8L587.8 130.8L585.2 131.0L582.8 131.2L580.4 131.7L578.1 132.3L575.8 133.0L573.6 133.9L571.5 135.0L569.5 136.2L567.6 137.6L565.8 139.1L564.0 140.6L562.3 142.3L560.8 144.0L559.3 145.8L557.9 147.6L556.6 149.3L555.3 150.9L553.9 152.4L552.5 153.8L550.9 155.2L549.3 156.6L547.7 157.9L546.2 159.1L544.7 160.1L542.9 161.2L541.2 162.2L539.4 163.1L537.6 163.9L536.0 164.6L534.1 165.2L532.2 165.7L530.3 166.3L528.3 167.5Z" fill="#b2b2b2"/>
<path d="M557.5 157.4L557.5 159.2L557.4 161.1L557.3 163.3L557.6 165.6L558.3 167.9L559.1 170.1L560.2 172.2L561.6 174.2L563.3 175.9L565.1 177.1L566.9 178.0L569.1 178.3L570.2 177.1L569.5 174.9L568.4 173.3L567.4 172.0L566.7 170.8L566.2 169.3L565.7 167.7L565.3 166.0L565.0 164.4L564.9 162.9L565.0 161.4L565.1 159.6L565.1 157.6L564.9 156.2L564.1 154.9L562.9 154.0L561.5 153.7L560.0 153.9L558.7 154.7L557.9 155.9Z" fill="#b2b2b2"/>
<path d="M660.4 119.1L662.7 120.1L664.9 120.3L667.1 120.4L669.4 120.4L671.7 120.3L674.1 120.0L676.4 119.6L678.7 119.2L681.1 118.6L683.4 117.8L685.8 117.0L688.2 116.0L690.2 115.0L692.3 114.0L694.3 112.9L696.2 111.7L698.2 110.6L700.1 109.4L702.0 108.3L703.9 107.1L705.8 105.9L707.8 104.6L709.7 103.4L711.6 102.2L713.4 101.1L715.3 99.9L717.2 98.8L719.1 97.7L721.0 96.5L722.8 95.5L724.7 94.4L726.5 93.5L728.3 92.6L730.4 91.6L732.6 90.7L734.7 89.9L736.8 89.1L738.9 88.4L740.9 87.9L743.0 87.4L745.3 87.0L747.5 86.7L749.7 86.5L751.7 86.3L753.2 86.3L755.3 86.5L756.6 86.9L758.7 87.7L760.7 88.4L762.7 89.1L764.6 89.9L766.6 90.9L768.1 91.7L769.7 92.7L771.2 93.8L772.7 94.9L774.1 96.1L775.5 97.5L776.8 98.9L778.0 100.3L779.0 101.8L779.9 103.3L780.7 105.2L781.4 107.2L782.0 109.3L782.4 111.5L782.5 113.5L782.5 115.4L782.3 117.4L781.8 119.5L781.3 121.6L780.6 123.8L779.9 125.6L779.1 127.4L778.2 129.3L777.3 131.1L776.3 132.9L775.2 134.5L773.8 136.4L772.4 138.2L770.8 139.9L769.2 141.5L767.6 142.9L765.9 144.2L764.2 145.3L762.4 146.4L760.5 147.3L758.7 148.1L756.8 148.7L754.9 149.1L752.7 149.5L750.2 149.9L747.6 150.4L745.5 150.9L743.4 151.4L741.2 151.9L739.0 152.4L736.8 152.9L734.6 153.3L732.6 153.8L730.3 154.2L728.1 154.6L725.9 155.0L723.7 155.4L721.5 155.8L719.2 156.3L716.9 156.8L714.6 157.3L712.3 157.8L709.9 158.4L707.6 159.0L705.4 159.8L703.0 160.7L700.7 161.7L698.6 162.8L696.6 163.9L694.6 165.1L692.7 166.4L690.8 167.8L688.9 169.2L687.2 170.8L685.5 172.6L683.9 175.0L682.6 177.5L681.6 179.9L680.7 182.1L679.9 184.7L679.5 187.1L679.8 189.7L681.2 190.3L683.2 188.6L684.5 186.7L685.9 184.6L687.1 182.8L688.4 180.8L689.7 179.0L691.1 177.4L692.3 176.2L693.8 175.1L695.3 173.8L697.0 172.7L698.7 171.5L700.4 170.5L702.2 169.5L704.0 168.6L705.9 167.7L707.9 166.9L709.8 166.3L711.8 165.7L714.0 165.2L716.3 164.7L718.5 164.2L720.8 163.7L722.9 163.3L725.1 162.9L727.2 162.5L729.4 162.1L731.7 161.7L734.1 161.2L736.2 160.8L738.4 160.3L740.7 159.8L742.9 159.3L745.1 158.8L747.2 158.3L749.1 157.9L751.6 157.4L754.0 157.0L756.4 156.6L758.8 156.0L761.3 155.2L763.7 154.2L766.0 153.1L768.2 151.8L770.4 150.4L772.4 148.8L774.4 147.0L776.3 145.2L778.1 143.2L779.9 141.0L781.5 138.8L782.7 136.8L783.9 134.8L785.0 132.7L786.1 130.5L787.0 128.4L787.8 126.2L788.6 123.7L789.2 121.2L789.8 118.6L790.1 115.9L790.1 113.2L789.9 110.4L789.4 107.7L788.7 105.0L787.8 102.4L786.7 100.0L785.5 97.7L784.0 95.7L782.5 93.8L780.9 92.1L779.2 90.5L777.5 89.0L775.7 87.6L773.8 86.3L772.0 85.2L770.1 84.1L767.8 83.0L765.4 82.0L763.2 81.2L761.3 80.6L759.2 79.8L756.7 79.0L753.5 78.7L751.3 78.8L749.1 78.9L746.6 79.1L744.1 79.5L741.6 79.9L739.1 80.5L736.7 81.1L734.3 81.9L732.0 82.8L729.7 83.7L727.3 84.7L725.0 85.7L723.0 86.7L721.0 87.8L719.1 88.9L717.1 90.0L715.2 91.1L713.3 92.3L711.4 93.4L709.4 94.6L707.5 95.8L705.6 97.0L703.7 98.2L701.8 99.4L699.9 100.6L698.0 101.7L696.1 102.9L694.2 104.0L692.3 105.2L690.5 106.3L688.7 107.3L686.9 108.2L685.1 109.0L683.1 109.9L681.0 110.6L678.9 111.3L676.8 112.0L674.7 112.7L672.6 113.3L670.6 113.9L668.6 114.4L666.5 114.9L664.4 115.4L662.3 116.1L660.2 117.5Z" fill="#b2b2b2"/>
<path d="M660.2 155.6L662.3 154.5L664.5 153.4L666.6 152.3L668.7 151.1L670.8 150.0L673.0 148.9L675.2 147.8L677.2 146.7L679.2 145.7L681.3 144.6L683.4 143.5L685.5 142.5L687.6 141.5L689.6 140.5L691.7 139.5L693.7 138.6L695.8 137.7L697.8 136.9L699.8 136.1L701.9 135.2L703.9 134.5L706.0 133.7L708.0 133.0L710.4 132.2L712.7 131.4L715.0 130.6L717.3 129.9L719.6 129.2L721.9 128.7L724.2 128.1L726.5 127.7L728.8 127.2L731.0 126.9L733.3 126.6L735.5 126.3L737.8 126.1L740.1 125.9L742.1 125.8L744.2 125.7L746.3 125.6L748.4 125.5L750.7 125.4L752.9 125.3L755.2 124.9L757.4 123.8L757.6 122.2L755.5 120.8L753.3 120.1L751.2 119.5L749.0 119.1L746.7 118.7L744.5 118.4L742.2 118.2L739.9 118.1L737.3 118.1L734.8 118.3L732.3 118.5L729.8 118.9L727.4 119.3L724.9 119.7L722.5 120.2L720.0 120.8L717.5 121.4L715.0 122.1L712.6 122.9L710.2 123.7L707.7 124.5L705.3 125.3L703.2 126.1L701.1 126.9L699.0 127.7L696.8 128.5L694.7 129.4L692.6 130.3L690.5 131.2L688.3 132.1L686.2 133.1L684.0 134.2L681.9 135.2L679.7 136.3L677.6 137.4L675.5 138.5L673.5 139.5L671.5 140.6L669.2 141.7L667.1 142.8L664.9 144.0L662.8 145.1L660.7 146.2L658.6 147.3L656.5 148.4L655.2 149.4L654.5 150.8L654.3 152.4L654.7 153.9L655.7 155.1L657.1 155.9L658.7 156.0Z" fill="#b2b2b2"/>
<path d="M725.3 127.1L727.2 125.8L729.2 124.6L731.2 123.3L733.2 121.8L735.3 120.2L737.1 118.7L738.9 117.1L740.8 115.4L742.5 113.6L744.2 111.7L745.5 109.3L744.5 108.0L741.8 108.6L739.6 109.8L737.4 111.0L735.3 112.3L733.3 113.6L731.4 114.8L729.3 116.1L727.3 117.4L725.3 118.6L723.4 119.9L721.4 121.2L720.4 122.2L719.9 123.4L719.8 124.8L720.4 126.1L721.3 127.1L722.6 127.6L724.0 127.7Z" fill="#b2b2b2"/>
<path d="M736.7 162.2L737.5 164.1L738.3 166.0L739.2 168.1L740.4 170.2L741.9 172.1L743.5 173.7L744.7 175.0L745.6 176.2L746.3 177.5L746.9 179.3L747.5 181.4L748.9 183.4L750.5 183.2L751.3 181.0L751.6 178.8L751.6 176.4L751.0 173.8L749.9 171.4L748.5 169.5L747.2 167.9L746.3 166.5L745.6 165.0L744.8 163.3L744.1 161.4L743.3 159.5L742.5 158.3L741.3 157.5L740.0 157.3L738.6 157.6L737.5 158.3L736.7 159.5L736.5 160.8Z" fill="#b2b2b2"/>
<path d="M679.2 210.3L678.7 212.7L678.9 214.9L679.3 217.0L679.6 218.9L679.8 220.8L679.9 222.6L679.9 224.4L680.0 226.2L679.9 228.1L679.9 230.0L679.8 231.8L679.8 233.6L679.6 235.3L679.4 237.2L679.1 239.2L678.7 241.1L678.3 243.1L677.7 245.3L677.1 247.5L676.5 249.9L675.8 252.2L675.3 254.3L674.7 256.3L674.2 258.4L673.6 260.5L673.0 262.7L672.3 264.9L671.7 267.1L671.0 269.4L670.3 271.7L669.6 274.1L668.8 276.5L668.0 279.0L667.3 281.5L666.7 283.9L666.1 286.4L665.5 288.8L665.0 291.2L664.4 293.7L664.0 296.2L663.6 298.6L663.2 301.1L662.9 303.6L662.7 306.0L662.5 308.5L662.4 311.0L662.3 313.5L662.3 316.0L662.4 318.5L662.5 321.1L662.8 323.6L663.1 326.1L663.4 328.7L663.9 331.2L664.4 333.7L665.0 336.1L665.7 338.5L666.4 340.8L667.3 343.2L668.2 345.4L669.1 347.6L670.1 349.8L671.2 351.9L672.3 354.1L673.4 356.1L674.7 358.1L675.9 360.1L677.2 362.0L678.5 363.9L679.8 365.8L681.2 367.8L682.7 369.8L684.2 371.7L685.7 373.7L687.1 375.6L688.5 377.4L689.9 379.2L691.4 381.3L692.9 383.3L694.4 385.2L695.7 387.0L696.9 388.7L697.9 390.5L698.9 392.2L699.7 394.0L700.5 395.9L701.2 397.8L701.9 399.7L702.6 401.5L703.4 403.5L704.0 405.3L704.6 407.1L705.2 409.0L705.9 411.3L706.6 413.4L707.3 415.7L708.0 418.1L708.7 420.4L709.2 422.6L709.6 424.5L709.8 426.8L709.8 429.0L709.7 431.2L709.4 433.4L709.1 435.5L708.6 437.5L708.0 439.4L707.2 441.6L706.3 443.9L705.5 446.3L704.9 448.7L704.5 451.0L704.1 453.2L703.7 455.4L703.3 457.5L703.3 459.2L703.9 460.8L705.1 461.9L706.7 462.6L708.4 462.5L709.9 461.9L711.1 460.7L711.7 459.1L712.1 457.0L712.5 454.8L712.9 452.7L713.3 450.6L713.8 448.7L714.4 446.7L715.2 444.6L716.1 442.4L716.9 439.8L717.6 437.2L718.0 434.5L718.3 431.9L718.4 429.2L718.4 426.4L718.1 423.5L717.6 420.8L717.0 418.2L716.3 415.6L715.5 413.1L714.8 410.8L714.1 408.7L713.4 406.5L712.8 404.5L712.2 402.5L711.5 400.6L710.7 398.5L710.0 396.6L709.3 394.7L708.5 392.7L707.6 390.5L706.6 388.4L705.4 386.2L704.1 384.1L702.7 382.0L701.3 380.0L699.8 378.1L698.3 376.1L696.8 374.1L695.4 372.3L694.0 370.4L692.5 368.4L691.0 366.5L689.6 364.6L688.2 362.7L686.9 360.9L685.6 359.0L684.3 357.2L683.1 355.4L682.0 353.5L680.9 351.7L679.8 349.9L678.8 348.1L677.9 346.1L677.0 344.1L676.1 342.1L675.3 340.1L674.6 338.1L673.9 336.0L673.3 333.9L672.8 331.8L672.3 329.5L671.9 327.3L671.6 325.0L671.3 322.7L671.1 320.4L671.0 318.1L670.9 315.9L670.9 313.6L671.0 311.4L671.1 309.1L671.3 306.8L671.5 304.5L671.8 302.2L672.1 299.9L672.5 297.6L672.9 295.4L673.4 293.0L673.9 290.7L674.4 288.4L675.0 286.1L675.6 283.8L676.3 281.4L677.0 279.0L677.8 276.7L678.5 274.3L679.3 271.9L680.0 269.5L680.6 267.3L681.2 265.0L681.9 262.9L682.5 260.7L683.0 258.6L683.6 256.5L684.2 254.4L684.8 252.1L685.4 249.8L686.0 247.4L686.6 245.2L687.1 242.9L687.6 240.8L687.9 238.4L688.2 236.2L688.4 234.1L688.4 232.1L688.5 230.0L688.4 227.9L688.2 225.8L687.9 223.6L687.5 221.4L686.9 219.2L686.1 217.1L685.1 215.0L684.0 213.1L682.7 211.3L680.8 209.7Z" fill="#b2b2b2"/>
<path d="M715.9 202.0L715.6 204.7L716.1 207.1L716.7 209.4L717.3 211.6L717.7 213.6L718.0 215.6L718.0 217.3L717.9 219.1L717.8 221.1L717.6 223.2L717.4 225.4L717.2 227.7L717.1 230.0L717.2 232.5L717.3 234.8L717.4 237.0L717.6 239.1L717.6 241.2L717.6 243.2L717.5 245.3L717.3 247.4L717.1 249.5L716.8 251.6L716.4 253.8L716.0 255.9L715.6 258.1L715.1 260.2L714.6 262.4L714.1 264.5L713.4 266.6L712.8 268.8L712.1 270.9L711.3 273.0L710.5 275.2L709.6 277.4L708.7 279.6L707.9 281.9L707.0 284.2L706.2 286.5L705.4 288.8L704.7 291.0L704.0 293.2L703.4 295.3L702.6 297.6L701.9 299.9L701.3 302.1L700.7 304.5L700.9 307.2L702.4 307.8L704.6 306.3L706.1 304.4L707.4 302.5L708.7 300.3L710.0 298.0L711.0 296.0L712.0 293.8L712.9 291.5L713.8 289.3L714.6 287.0L715.5 284.8L716.3 282.6L717.2 280.4L718.0 278.1L718.9 275.9L719.8 273.6L720.5 271.2L721.2 268.9L721.9 266.6L722.5 264.3L723.0 262.0L723.5 259.7L724.0 257.4L724.4 255.1L724.8 252.8L725.1 250.5L725.4 248.2L725.6 245.9L725.7 243.5L725.7 241.1L725.7 238.8L725.5 236.5L725.4 234.3L725.3 232.2L725.2 230.0L725.3 228.2L725.4 226.1L725.6 224.0L725.8 221.7L725.9 219.3L725.7 216.9L725.4 214.4L724.6 211.7L723.5 209.3L722.3 207.0L721.0 205.0L719.5 203.0L717.4 201.4Z" fill="#b2b2b2"/>
<path d="M812.3 75.9L811.0 77.8L809.7 79.7L808.3 81.6L806.9 83.7L805.6 85.9L804.4 88.2L803.4 90.6L802.6 93.0L801.9 95.4L801.3 97.9L800.8 100.3L800.4 102.8L800.1 105.2L800.0 107.6L800.0 110.0L800.0 112.4L800.2 114.8L800.4 117.1L800.7 119.5L801.1 121.9L801.6 124.2L802.1 126.6L802.7 128.9L803.4 131.2L804.1 133.6L804.9 135.9L805.8 138.2L806.7 140.5L807.6 142.7L808.5 145.0L809.5 147.2L810.5 149.5L811.4 151.7L812.4 153.9L813.4 156.1L814.4 158.3L815.2 160.4L816.1 162.5L817.0 164.6L817.8 166.7L818.7 168.8L819.4 170.9L820.1 172.9L820.7 175.0L821.3 177.1L821.8 179.2L822.3 181.3L822.7 183.3L823.0 185.2L823.2 187.0L823.4 189.2L823.4 191.2L823.3 193.2L823.1 195.1L822.9 197.1L822.5 199.1L822.0 201.1L821.3 203.2L820.6 205.3L819.8 207.3L818.9 209.4L817.9 211.3L816.8 213.1L815.5 214.9L814.1 216.9L812.5 218.8L811.1 220.7L809.7 222.7L808.2 225.1L807.1 227.2L806.1 229.3L805.1 231.7L804.2 233.9L803.4 236.3L802.7 238.8L802.0 241.3L801.3 243.8L800.7 246.2L800.1 248.6L799.6 251.1L799.2 253.6L799.6 256.4L801.1 256.9L803.2 255.1L804.6 252.9L805.8 250.7L806.9 248.5L808.0 246.2L809.1 243.9L810.1 241.5L811.1 239.2L812.0 237.0L812.9 235.0L813.9 232.9L814.7 231.1L815.7 229.4L816.9 227.3L818.0 225.8L819.3 224.0L820.9 222.1L822.5 220.0L824.0 217.8L825.4 215.4L826.6 213.1L827.7 210.7L828.7 208.3L829.5 205.8L830.3 203.4L830.9 200.9L831.3 198.5L831.7 196.1L831.9 193.7L832.0 191.3L831.9 188.8L831.8 186.3L831.5 184.0L831.2 181.7L830.7 179.4L830.2 177.2L829.6 174.9L828.9 172.6L828.3 170.4L827.5 168.1L826.7 165.8L825.8 163.6L824.9 161.3L824.0 159.2L823.2 157.1L822.3 155.0L821.3 152.6L820.3 150.3L819.3 148.1L818.3 146.0L817.4 143.8L816.5 141.7L815.6 139.5L814.7 137.3L813.8 135.1L813.0 133.0L812.3 130.9L811.6 128.8L811.0 126.6L810.5 124.5L810.0 122.4L809.5 120.3L809.2 118.3L808.9 116.2L808.7 114.1L808.6 112.0L808.6 110.0L808.6 107.9L808.7 105.9L808.9 103.9L809.3 101.9L809.7 99.8L810.2 97.7L810.8 95.6L811.5 93.7L812.2 91.8L813.1 90.0L814.2 88.3L815.4 86.5L816.7 84.6L818.1 82.7L819.4 80.7L820.0 79.2L820.1 77.5L819.4 76.0L818.2 74.8L816.7 74.1L815.0 74.1L813.5 74.8Z" fill="#b2b2b2"/>
<path d="M786.0 168.7L783.6 169.7L781.9 171.2L780.2 172.9L778.6 174.8L777.4 177.1L776.5 179.4L775.9 181.8L775.7 184.2L775.6 186.5L775.7 188.9L776.1 191.3L776.7 193.7L777.5 196.1L778.5 198.4L779.7 200.7L781.5 203.1L783.5 205.0L785.4 206.7L787.2 208.2L788.7 209.6L790.4 210.9L791.9 212.2L793.2 213.3L794.1 214.3L795.1 215.8L796.0 217.5L796.8 219.4L797.7 221.6L798.5 223.5L799.2 225.4L799.8 227.2L800.2 228.7L800.4 230.0L800.2 231.1L799.9 232.4L799.3 234.1L798.4 236.2L797.6 238.6L797.0 240.6L796.3 242.6L795.7 244.7L794.9 246.9L794.2 249.2L793.5 251.5L792.9 253.9L792.2 256.2L791.6 258.6L791.0 261.0L790.4 263.4L789.8 265.9L789.3 268.4L788.8 270.8L788.3 273.3L787.9 275.8L787.6 278.3L787.2 280.7L786.9 283.0L786.5 285.3L786.1 287.5L785.7 289.7L785.2 291.9L784.8 294.0L784.3 296.1L783.8 298.1L783.3 300.0L782.6 301.9L781.8 304.0L780.8 306.2L779.8 308.4L778.8 310.5L777.8 312.6L776.8 314.5L775.8 316.3L774.7 318.1L773.6 319.8L772.5 321.6L771.5 323.6L771.1 326.1L772.3 327.2L774.7 326.5L776.5 325.3L778.3 323.9L780.0 322.4L781.7 320.7L783.2 318.8L784.7 316.7L786.1 314.5L787.4 312.2L788.6 309.8L789.7 307.3L790.7 304.8L791.5 302.6L792.1 300.4L792.7 298.1L793.2 295.9L793.7 293.7L794.1 291.4L794.6 289.1L795.0 286.8L795.4 284.3L795.7 281.9L796.1 279.5L796.4 277.1L796.8 274.8L797.2 272.5L797.7 270.2L798.2 267.8L798.8 265.4L799.3 263.1L799.9 260.7L800.5 258.4L801.1 256.1L801.8 253.9L802.4 251.7L803.1 249.5L803.8 247.3L804.5 245.2L805.2 243.2L805.7 241.4L806.5 239.2L807.3 237.2L808.1 235.1L808.7 232.7L809.0 230.0L808.7 227.2L808.1 224.7L807.3 222.4L806.4 220.3L805.7 218.4L804.8 216.1L803.7 213.8L802.5 211.4L800.9 209.0L799.2 207.2L797.5 205.6L795.8 204.2L794.3 203.0L792.8 201.8L791.0 200.2L789.3 198.7L788.0 197.4L787.0 196.0L786.3 194.7L785.6 193.1L785.0 191.3L784.6 189.5L784.3 187.8L784.1 186.1L783.9 184.4L783.9 182.8L784.1 181.1L784.3 179.6L784.7 178.1L785.4 176.3L786.3 174.4L787.2 172.2L787.3 169.6Z" fill="#b2b2b2"/>
<path d="M781.5 197.4L779.3 198.1L777.1 198.7L774.8 199.3L772.5 200.1L770.3 201.1L767.8 202.5L765.5 204.0L763.5 205.6L761.8 207.1L760.1 209.0L759.1 210.8L758.6 212.8L759.8 213.9L761.7 213.2L763.2 212.2L764.9 211.2L766.7 210.3L768.7 209.2L770.8 208.2L773.0 207.3L774.8 206.7L776.8 206.1L779.0 205.5L781.3 204.9L783.5 204.2L784.7 203.6L785.6 202.5L786.0 201.2L785.9 199.8L785.3 198.6L784.2 197.7L782.9 197.3Z" fill="#b2b2b2"/>
<path d="M825.9 107.7L825.3 109.9L825.3 112.0L825.6 114.2L826.4 116.5L827.5 118.7L828.9 120.8L830.6 122.8L832.6 124.7L834.6 126.2L836.7 127.6L838.9 128.8L841.0 129.9L843.0 131.0L845.0 132.2L847.2 133.4L849.2 134.6L851.1 135.7L852.9 136.8L854.9 138.0L856.4 138.9L857.5 139.7L858.4 140.8L859.2 142.0L860.0 143.6L860.7 145.5L861.4 147.4L861.9 149.3L862.3 151.1L862.5 152.7L862.7 154.4L862.7 156.2L862.6 158.0L862.4 160.0L862.0 162.1L861.5 164.4L861.0 166.7L860.5 169.0L860.0 171.1L859.5 173.3L859.0 175.4L858.6 177.3L858.3 179.0L857.9 181.0L857.7 182.5L858.0 184.3L859.4 185.0L861.0 184.1L862.1 182.9L863.4 181.0L864.3 179.4L865.2 177.5L866.2 175.5L867.1 173.3L867.9 171.0L868.6 168.8L869.3 166.3L869.9 163.8L870.4 161.2L870.7 158.7L870.8 156.3L870.8 154.0L870.6 151.8L870.2 149.6L869.8 147.4L869.1 145.1L868.3 142.7L867.4 140.3L866.3 138.1L864.9 135.9L863.0 133.8L861.0 132.2L859.1 131.1L857.1 129.9L855.3 128.8L853.3 127.6L851.2 126.4L849.1 125.2L847.0 124.0L844.9 122.8L842.7 121.6L840.7 120.5L838.9 119.5L837.4 118.6L835.8 117.4L834.3 116.1L833.1 114.8L831.9 113.5L831.0 112.1L830.1 110.6L829.2 108.9L827.4 107.3Z" fill="#b2b2b2"/>
<path d="M865.1 135.7L866.1 133.5L867.1 131.2L868.1 128.9L869.0 126.9L869.8 125.1L870.8 123.2L871.7 121.5L872.7 120.0L873.6 118.7L874.8 117.1L876.1 115.7L877.1 113.7L876.2 112.3L873.9 112.5L871.9 113.3L869.7 114.7L868.1 116.0L866.6 117.6L865.1 119.4L863.6 121.6L862.4 123.6L861.2 125.8L860.2 128.1L859.2 130.4L858.2 132.6L857.9 134.1L858.1 135.5L858.9 136.8L860.1 137.6L861.6 138.0L863.0 137.7L864.3 136.9Z" fill="#b2b2b2"/>
<path d="M863.7 92.5L866.2 93.5L868.4 93.7L870.6 93.8L872.6 94.0L874.7 94.3L876.6 94.8L878.6 95.3L880.8 95.9L882.9 96.6L885.0 97.3L886.8 97.9L888.9 98.8L890.8 99.8L892.6 100.8L894.2 102.0L895.8 103.1L897.1 104.3L898.3 105.6L899.5 107.0L900.7 108.5L901.7 109.9L902.8 111.5L903.8 113.0L904.7 114.6L905.7 116.2L906.7 117.4L908.2 118.1L909.8 118.2L911.2 117.6L912.4 116.6L913.1 115.2L913.2 113.6L912.6 112.1L911.7 110.5L910.7 108.8L909.6 107.0L908.3 105.1L907.1 103.6L905.8 101.9L904.4 100.2L902.7 98.5L900.9 96.9L899.0 95.4L896.9 94.0L894.7 92.7L892.3 91.5L889.8 90.4L887.6 89.6L885.2 88.8L882.7 88.2L880.2 87.8L877.7 87.5L875.3 87.3L872.6 87.5L870.1 87.9L867.8 88.5L865.7 89.4L863.6 90.9Z" fill="#b2b2b2"/>
<path d="M951.7 85.0C947.8 86.9 943.9 88.6 940.0 90.8C936.1 93.1 931.9 95.7 928.3 98.3C924.7 101.0 921.1 103.9 918.3 106.7C915.6 109.4 913.3 111.7 911.7 115.0C910.0 118.3 909.0 122.5 908.3 126.7C907.6 130.8 908.1 135.6 907.5 140.0C906.9 144.4 906.1 148.9 905.0 153.3C903.9 157.8 902.3 161.9 900.8 166.7C899.4 171.4 897.6 176.7 896.3 181.7C895.0 186.7 894.1 191.7 893.0 196.7C891.9 201.7 890.6 206.1 889.7 211.7C888.7 217.2 887.3 225.1 887.3 230.0C887.3 234.9 888.8 236.9 889.7 240.8C890.6 244.7 892.0 249.8 893.0 253.3C894.0 256.8 895.5 258.6 896.0 261.7C896.5 264.8 896.7 268.5 896.3 272.0C895.9 275.5 895.0 278.5 893.5 282.5C892.0 286.5 889.5 291.6 887.0 296.0C884.5 300.4 881.1 303.1 878.2 309.0C875.3 314.9 871.6 325.4 869.7 331.7C867.7 337.9 866.9 341.4 866.7 346.7C866.4 351.9 867.4 357.8 868.3 363.3C869.3 368.9 871.1 374.4 872.5 380.0C873.9 385.6 875.6 391.7 876.7 396.7C877.8 401.7 879.4 406.4 879.2 410.0C878.9 413.6 876.8 415.3 875.0 418.3C873.2 421.4 870.8 425.1 868.3 428.3C865.8 431.5 862.8 434.9 860.0 437.5C857.2 440.1 853.9 442.3 851.7 444.2C849.4 446.0 848.3 447.2 846.7 448.7" fill="none" stroke="#b2b2b2" stroke-width="8.6" stroke-linecap="round" stroke-linejoin="round"/>
<path d="M857.2 219.1L859.1 221.1L861.2 222.3L863.3 223.4L865.4 224.6L867.2 225.6L869.0 226.7L871.0 227.9L873.0 229.0L875.0 230.1L877.0 231.0L878.8 231.9L880.7 232.7L882.5 233.5L884.3 234.3L885.7 234.6L887.2 234.4L888.4 233.6L889.3 232.4L889.6 230.9L889.4 229.5L888.6 228.2L887.4 227.4L885.6 226.5L883.8 225.7L882.0 224.9L880.2 224.1L878.3 223.2L876.4 222.4L874.4 221.4L872.2 220.5L870.1 219.6L867.9 218.8L865.3 218.0L862.9 217.5L860.4 217.2L857.8 217.6Z" fill="#b2b2b2"/>
<path d="M894.5 270.8L896.0 272.2L897.5 273.5L898.9 274.7L900.3 276.0L901.6 277.5L902.8 278.9L904.0 280.6L905.3 282.3L906.5 284.2L907.6 286.0L908.7 287.8L909.6 289.6L910.5 291.5L911.3 293.3L912.0 295.2L912.7 297.2L913.4 299.2L914.0 301.2L914.7 303.4L915.3 305.5L915.7 307.5L916.0 309.4L916.2 311.1L916.2 313.1L916.0 314.9L915.6 316.7L915.1 318.6L914.4 320.8L913.7 322.7L912.8 324.8L911.9 327.0L910.8 329.1L909.7 331.2L908.7 333.1L907.5 335.2L906.2 337.3L904.9 339.4L903.7 341.4L902.6 343.3L901.5 345.5L900.7 347.3L900.2 349.1L900.1 351.3L901.5 352.1L903.4 351.1L904.7 349.8L906.0 348.3L907.4 346.7L908.8 345.1L910.4 343.4L912.0 341.5L913.7 339.3L915.3 336.9L916.5 334.8L917.6 332.5L918.8 330.2L919.8 327.8L920.8 325.5L921.6 323.2L922.4 320.8L923.0 318.4L923.5 316.0L923.8 313.5L923.8 310.9L923.6 308.4L923.2 306.0L922.6 303.6L922.0 301.3L921.3 299.0L920.6 296.8L919.9 294.7L919.1 292.5L918.3 290.4L917.4 288.3L916.4 286.2L915.3 284.2L914.2 282.1L912.9 280.1L911.5 278.0L910.2 276.1L908.8 274.3L907.4 272.5L905.7 270.7L904.1 269.1L902.5 267.7L901.0 266.5L899.5 265.2L898.2 264.4L896.8 264.2L895.3 264.6L894.2 265.5L893.4 266.8L893.2 268.2L893.6 269.7Z" fill="#b2b2b2"/>
<path d="M916.4 310.0L917.6 311.6L918.9 313.3L920.1 314.9L921.3 316.4L922.4 317.8L924.0 319.8L925.5 321.8L927.1 323.6L928.8 325.0L930.5 325.9L932.5 326.4L933.5 325.2L932.9 323.3L931.9 321.9L930.9 320.4L930.0 318.7L929.0 316.6L927.6 314.2L926.5 312.6L925.4 311.0L924.1 309.3L922.9 307.6L921.6 306.0L920.7 305.2L919.5 304.7L918.2 304.8L917.0 305.4L916.2 306.3L915.7 307.5L915.8 308.8Z" fill="#b2b2b2"/>
<path d="M901.7 183.3C907.2 183.8 912.8 184.4 918.3 184.7C923.9 184.9 930.0 184.6 935.0 184.7C940.0 184.8 944.9 184.7 948.3 185.3C951.8 185.9 953.3 187.3 955.8 188.3" fill="none" stroke="#b2b2b2" stroke-width="7.6" stroke-linecap="round" stroke-linejoin="round"/>
<path d="M953.2 191.0L954.9 192.7L956.7 194.5L958.4 196.1L960.1 197.7L961.5 199.0L963.1 200.6L964.4 202.1L965.7 203.5L966.8 204.7L968.0 206.3L969.1 207.7L970.9 209.0L972.4 208.4L972.7 206.2L972.3 204.2L971.5 201.9L970.7 200.1L969.6 198.3L968.4 196.3L966.8 194.3L965.4 192.5L963.7 190.8L962.0 189.0L960.2 187.3L958.5 185.6L957.3 184.8L955.8 184.5L954.4 184.8L953.1 185.7L952.3 186.9L952.0 188.4L952.3 189.8Z" fill="#b2b2b2"/>
<path d="M955.8 187.5C958.9 185.0 962.4 182.4 965.0 180.0C967.6 177.6 969.9 175.4 971.7 173.3C973.5 171.2 974.4 169.4 975.8 167.5" fill="none" stroke="#b2b2b2" stroke-width="8.1" stroke-linecap="round" stroke-linejoin="round"/>
<path d="M943.9 137.0L943.7 139.3L944.1 141.3L944.7 143.4L945.5 145.5L946.5 147.6L947.7 149.6L949.1 151.6L950.7 153.5L952.4 155.4L954.3 157.1L956.4 158.7L958.6 160.0L960.7 161.2L962.7 162.4L964.6 163.5L966.4 164.7L968.1 166.0L969.9 167.4L971.7 168.7L973.6 170.1L974.9 170.7L976.4 170.8L977.8 170.3L978.9 169.3L979.5 167.9L979.6 166.4L979.1 165.0L978.1 163.9L976.3 162.6L974.5 161.3L972.6 159.9L970.7 158.5L968.7 157.2L966.6 155.8L964.5 154.6L962.5 153.5L960.6 152.4L959.1 151.2L957.5 149.9L956.0 148.5L954.5 147.0L953.1 145.5L951.8 144.1L950.7 142.6L949.6 141.1L948.5 139.4L947.3 137.7L945.4 136.3Z" fill="#b2b2b2"/>
<path d="M976.8 170.6L979.2 170.0L981.5 169.4L983.8 168.8L986.1 168.3L988.4 167.8L990.7 167.3L992.8 167.0L994.9 166.6L997.1 166.3L999.3 166.0L1001.4 165.7L1003.4 165.5L1005.3 165.4L1007.8 165.2L1010.1 164.9L1012.2 164.8L1014.3 164.7L1016.2 164.7L1018.0 164.8L1019.8 165.0L1021.7 165.3L1023.8 165.5L1026.1 164.9L1026.6 163.4L1025.1 161.6L1023.4 160.5L1021.5 159.5L1019.4 158.6L1017.1 158.0L1014.8 157.5L1012.4 157.3L1009.9 157.2L1007.4 157.2L1004.7 157.3L1002.6 157.5L1000.5 157.7L998.3 158.0L996.0 158.3L993.7 158.6L991.5 159.0L989.3 159.4L986.8 159.8L984.3 160.4L981.9 161.0L979.5 161.6L977.2 162.2L974.9 162.7L973.4 163.4L972.4 164.6L971.8 166.0L971.9 167.6L972.6 169.1L973.7 170.1L975.2 170.7Z" fill="#b2b2b2"/>
<path d="M968.0 121.5L970.5 121.1L972.6 120.1L974.4 119.3L976.2 118.7L977.7 118.4L979.4 118.1L981.2 118.0L983.1 117.9L985.0 117.9L986.9 118.0L989.0 118.2L991.2 118.6L993.4 119.0L995.8 119.5L997.7 120.0L999.8 120.7L1002.0 121.5L1004.3 122.2L1006.7 123.0L1009.0 123.7L1011.3 124.2L1013.6 124.8L1015.9 125.3L1018.3 125.7L1020.7 126.1L1023.1 126.3L1025.4 126.4L1027.8 126.5L1030.3 126.4L1032.7 126.2L1035.2 125.9L1037.6 125.3L1040.0 124.6L1042.3 123.6L1044.5 122.6L1046.5 121.4L1048.5 120.2L1050.5 119.0L1052.5 117.5L1054.4 116.0L1056.2 114.3L1057.9 112.8L1059.4 111.5L1060.5 110.6L1062.5 109.3L1064.1 108.5L1065.9 107.5L1067.1 106.6L1067.8 105.3L1068.0 103.8L1067.5 102.4L1066.6 101.3L1065.3 100.5L1063.8 100.4L1062.4 100.8L1060.6 101.7L1058.6 102.8L1056.1 104.4L1054.5 105.7L1052.8 107.2L1051.2 108.7L1049.5 110.2L1047.8 111.5L1046.2 112.7L1044.5 113.8L1042.7 114.9L1040.9 115.9L1039.2 116.7L1037.4 117.4L1035.7 118.0L1033.9 118.4L1031.9 118.7L1029.9 118.8L1027.8 118.9L1025.7 118.8L1023.6 118.7L1021.6 118.5L1019.5 118.2L1017.4 117.8L1015.3 117.4L1013.1 116.9L1011.0 116.3L1008.9 115.7L1006.7 115.0L1004.5 114.3L1002.2 113.5L999.9 112.8L997.6 112.1L995.0 111.6L992.4 111.1L989.9 110.7L987.5 110.5L985.0 110.4L982.6 110.6L980.3 110.9L978.1 111.4L975.9 112.1L973.8 113.0L971.5 114.4L969.6 116.1L968.1 117.9L967.0 120.2Z" fill="#b2b2b2"/>
<path d="M1062.6 130.3L1062.3 132.8L1062.7 135.0L1063.2 137.1L1063.7 139.2L1064.3 141.3L1064.9 143.4L1065.5 145.4L1066.1 147.3L1066.6 149.0L1066.8 150.6L1067.0 152.2L1067.0 153.8L1066.9 155.4L1066.7 157.0L1066.2 158.7L1065.6 160.2L1064.7 161.9L1063.7 163.7L1062.6 165.5L1061.4 167.4L1060.0 169.3L1058.9 170.9L1057.6 172.5L1056.2 174.1L1054.8 175.8L1053.3 177.4L1051.8 179.0L1050.4 180.6L1048.7 182.3L1047.0 184.0L1045.3 185.6L1043.6 187.3L1041.9 188.9L1040.4 190.5L1038.8 192.1L1037.1 193.7L1035.2 195.6L1033.5 198.1L1032.6 201.3L1032.9 204.3L1033.8 206.8L1035.0 208.9L1036.1 210.9L1037.1 212.8L1037.9 214.7L1038.5 216.6L1039.3 219.1L1040.1 221.7L1041.0 224.3L1041.9 226.8L1042.8 228.9L1043.6 230.7L1045.2 232.9L1046.3 233.4L1047.7 232.6L1048.1 231.8L1048.1 229.3L1048.0 227.7L1047.9 225.4L1047.6 222.8L1047.2 220.0L1046.7 217.2L1046.1 214.5L1045.5 212.0L1044.4 209.4L1043.2 207.0L1042.0 205.0L1041.2 203.4L1040.8 202.4L1040.9 201.6L1041.4 200.8L1042.7 199.6L1044.4 198.0L1046.2 196.2L1047.7 194.6L1049.2 193.1L1050.9 191.5L1052.7 189.7L1054.5 188.0L1056.3 186.1L1057.8 184.5L1059.3 182.8L1060.8 181.1L1062.4 179.4L1063.8 177.6L1065.3 175.8L1066.6 174.0L1068.1 172.0L1069.4 169.9L1070.7 167.8L1071.9 165.6L1073.0 163.5L1073.8 161.3L1074.6 158.8L1075.0 156.4L1075.1 154.0L1075.1 151.7L1074.8 149.4L1074.3 147.0L1073.6 144.7L1072.6 142.6L1071.7 140.6L1070.7 138.7L1069.7 136.8L1068.6 134.9L1067.4 133.0L1066.1 131.2L1064.1 129.7Z" fill="#b2b2b2"/>
<path d="M1008.1 187.4L1009.7 189.3L1011.5 190.4L1013.3 191.5L1015.2 192.7L1016.8 193.9L1018.7 195.4L1020.6 196.9L1022.6 198.5L1024.6 199.9L1026.9 201.3L1029.0 202.5L1031.0 203.7L1033.1 204.9L1034.5 205.4L1035.9 205.3L1037.3 204.7L1038.3 203.6L1038.8 202.2L1038.7 200.7L1038.0 199.4L1036.9 198.4L1034.9 197.2L1032.9 196.0L1030.8 194.8L1028.7 193.5L1026.9 192.3L1024.8 191.0L1022.6 189.6L1020.4 188.4L1018.1 187.3L1015.6 186.4L1013.2 185.8L1011.0 185.6L1008.6 185.9Z" fill="#b2b2b2"/>
<path d="M1143.3 141.7C1141.1 144.4 1139.4 147.2 1136.7 150.0C1133.9 152.8 1130.6 155.7 1126.7 158.3C1122.8 161.0 1117.8 163.9 1113.3 165.8C1108.9 167.8 1104.4 169.0 1100.0 170.0C1095.6 171.0 1090.0 171.3 1086.7 171.7C1083.3 172.1 1083.6 171.6 1080.0 172.5C1076.4 173.4 1069.4 175.0 1065.0 177.0C1060.6 179.0 1056.8 181.7 1053.3 184.7C1049.9 187.7 1046.5 191.9 1044.2 195.0C1041.8 198.1 1040.8 200.6 1039.2 203.3" fill="none" stroke="#b2b2b2" stroke-width="7.6" stroke-linecap="round" stroke-linejoin="round"/>
<path d="M1098.8 133.5L1096.3 133.4L1094.2 133.9L1092.2 134.7L1090.0 135.6L1087.8 136.7L1085.5 137.9L1083.4 139.1L1081.3 140.3L1079.2 141.4L1076.9 142.6L1074.8 143.8L1072.9 144.9L1070.6 146.4L1069.0 147.6L1067.9 148.7L1067.3 150.2L1067.4 151.8L1068.1 153.2L1069.2 154.3L1070.7 154.8L1072.3 154.8L1073.7 154.1L1075.2 153.1L1077.1 151.8L1078.7 150.9L1080.8 149.7L1083.1 148.5L1085.4 147.1L1087.5 145.6L1089.6 144.1L1091.5 142.5L1093.3 141.1L1095.0 139.8L1096.7 138.4L1098.3 137.0L1099.6 134.9Z" fill="#b2b2b2"/>
<path d="M916.2 217.3L917.0 219.7L918.3 221.4L919.8 223.0L921.3 224.5L922.9 226.0L925.0 227.6L926.9 229.0L928.8 230.3L930.9 231.8L932.6 233.0L934.5 234.3L936.4 235.6L938.2 236.9L939.7 238.2L940.8 239.4L942.0 241.0L942.9 242.7L943.7 244.7L944.4 246.7L945.0 248.6L945.4 250.3L945.6 251.9L945.7 253.5L945.8 255.3L945.7 257.3L945.6 258.9L945.3 260.7L945.0 262.6L944.7 264.8L944.3 267.1L944.1 269.6L943.9 271.8L943.7 274.2L943.5 276.8L943.3 279.4L943.2 282.0L943.1 284.5L943.2 286.9L943.4 289.4L943.6 291.8L944.0 294.2L944.5 296.5L945.2 298.8L946.2 301.1L947.7 303.7L949.6 305.9L951.3 307.7L952.8 309.3L954.0 310.8L955.1 312.5L956.1 314.2L957.0 315.8L957.7 317.5L958.3 319.4L958.6 320.9L958.8 322.6L959.0 324.6L959.1 326.7L959.2 328.9L959.2 331.3L959.4 333.6L959.5 335.9L959.6 338.2L959.8 340.6L959.9 343.0L960.0 345.5L960.2 347.9L960.4 350.4L960.6 352.9L960.9 355.3L961.3 357.7L961.6 360.1L961.9 362.4L962.2 364.7L962.4 367.1L962.6 369.4L962.8 371.8L963.0 374.2L963.1 376.5L963.2 378.8L963.3 381.0L963.2 383.1L963.1 385.2L962.8 387.3L962.5 389.4L962.1 391.4L961.7 393.4L961.3 395.4L960.8 397.3L960.2 399.8L959.5 402.0L958.8 404.1L958.0 406.1L957.0 408.0L956.2 409.5L955.2 411.0L954.0 412.5L952.8 414.0L951.5 415.6L950.1 417.2L948.6 418.9L947.1 420.6L945.6 422.2L944.0 423.8L942.5 425.2L940.8 426.5L939.1 427.7L937.0 428.8L934.8 429.9L932.6 430.9L930.4 431.8L928.4 432.7L926.3 433.5L924.4 434.1L922.6 434.7L920.7 435.3L918.7 435.9L917.2 436.7L916.2 438.0L915.7 439.6L915.9 441.3L916.7 442.8L918.0 443.8L919.6 444.3L921.3 444.1L923.2 443.5L925.1 442.9L927.1 442.3L929.3 441.6L931.6 440.6L933.8 439.7L936.1 438.7L938.5 437.6L941.0 436.4L943.5 435.0L945.8 433.5L948.0 431.8L950.0 430.0L951.8 428.2L953.5 426.3L955.1 424.5L956.6 422.8L958.0 421.2L959.5 419.5L960.8 417.7L962.2 415.9L963.5 414.0L964.6 412.0L965.8 409.6L966.8 407.1L967.7 404.6L968.5 402.1L969.2 399.4L969.7 397.4L970.1 395.2L970.6 393.0L971.0 390.7L971.3 388.4L971.6 386.0L971.8 383.6L971.9 381.1L971.8 378.6L971.7 376.1L971.6 373.6L971.4 371.1L971.2 368.7L970.9 366.3L970.7 363.8L970.4 361.4L970.1 359.0L969.8 356.6L969.5 354.2L969.2 351.9L968.9 349.6L968.8 347.3L968.6 344.9L968.5 342.5L968.3 340.1L968.2 337.8L968.1 335.4L968.0 333.1L967.8 330.9L967.8 328.6L967.7 326.4L967.6 324.1L967.4 321.8L967.1 319.5L966.7 317.3L965.8 314.5L964.8 312.1L963.6 309.9L962.3 307.9L961.0 305.8L959.3 303.7L957.5 301.8L956.0 300.2L954.7 298.7L953.8 297.2L953.3 295.9L952.8 294.3L952.5 292.6L952.2 290.7L951.9 288.7L951.8 286.5L951.7 284.4L951.8 282.2L951.9 279.8L952.0 277.4L952.2 274.9L952.4 272.6L952.6 270.4L952.9 268.2L953.2 266.1L953.5 264.0L953.9 262.0L954.1 259.8L954.3 257.7L954.4 255.4L954.3 253.2L954.2 251.0L953.9 248.7L953.3 246.4L952.6 244.0L951.8 241.6L950.7 239.0L949.3 236.4L947.5 233.9L945.6 232.0L943.6 230.2L941.4 228.6L939.4 227.2L937.4 225.9L935.7 224.8L933.3 223.3L931.1 222.1L929.1 221.1L927.1 220.0L925.4 219.1L923.5 218.1L921.7 217.1L919.7 216.2L917.2 216.0Z" fill="#b2b2b2"/>
<path d="M999.4 209.8L997.1 210.6L995.5 211.9L994.0 213.2L992.5 214.5L990.8 216.0L989.2 217.4L987.5 218.9L985.7 220.5L983.9 222.2L982.1 223.9L980.5 225.5L978.7 227.2L977.2 228.8L975.6 230.4L974.0 232.0L972.2 233.7L970.7 235.2L969.1 236.7L967.4 238.3L965.6 239.9L963.9 241.5L962.2 243.0L960.6 244.5L958.9 246.1L957.2 247.6L955.6 249.0L953.9 250.4L952.3 251.8L950.7 253.3L949.7 254.5L949.3 256.1L949.5 257.6L950.3 259.0L951.5 260.0L953.1 260.4L954.6 260.2L956.0 259.4L957.7 257.9L959.3 256.5L960.9 255.1L962.6 253.6L964.3 252.1L966.1 250.5L967.7 249.0L969.4 247.5L971.1 245.8L972.9 244.2L974.6 242.6L976.3 241.0L977.8 239.6L979.7 237.8L981.4 236.1L982.9 234.5L984.5 232.9L986.2 231.2L987.8 229.6L989.5 227.9L991.2 226.1L992.9 224.3L994.4 222.4L995.9 220.7L997.3 218.7L998.5 216.8L999.5 215.0L1000.3 213.2L1000.6 210.8Z" fill="#b2b2b2"/>
<path d="M840.9 227.3L839.0 229.0L837.9 230.9L836.9 232.9L836.0 234.9L835.2 237.0L834.5 239.2L834.0 241.4L833.5 243.6L833.1 245.9L832.8 248.2L832.5 250.6L832.4 253.1L832.3 255.4L832.2 257.8L832.2 260.2L832.2 262.7L832.2 265.2L832.3 267.7L832.4 270.2L832.5 272.7L832.7 275.1L832.9 277.5L833.1 279.9L833.3 282.3L833.5 284.6L833.7 287.0L833.9 289.4L834.1 291.8L834.2 294.3L834.4 296.6L834.5 298.9L834.5 301.0L834.4 303.0L834.2 305.3L833.9 307.6L833.5 309.6L833.1 311.5L832.6 313.3L831.9 314.8L831.0 316.6L829.9 318.2L828.7 319.6L827.2 321.1L825.6 322.5L824.2 323.6L822.6 324.6L820.8 325.7L818.9 326.7L816.9 327.6L814.9 328.6L812.9 329.4L810.9 330.2L808.7 331.0L806.4 331.8L804.1 332.6L801.8 333.5L799.5 334.4L797.2 335.3L794.9 336.3L792.6 337.3L790.2 338.4L788.0 339.5L785.8 340.7L783.7 342.0L781.6 343.3L779.6 344.7L777.6 346.0L775.7 347.4L773.5 349.2L771.5 351.0L769.6 352.8L767.8 354.5L766.3 356.0L764.4 357.6L762.5 359.3L760.5 361.3L758.7 363.9L757.6 366.9L757.3 369.6L757.1 371.7L756.7 374.0L756.1 375.7L755.5 377.7L754.7 379.9L753.9 382.1L753.0 384.3L752.0 386.5L751.0 388.3L749.9 390.3L748.7 392.3L747.5 394.4L746.2 396.4L745.0 398.4L743.8 400.2L742.6 402.2L741.4 404.2L740.1 406.0L738.9 407.9L737.8 409.7L736.9 411.7L735.8 414.8L735.4 417.6L735.5 420.0L735.6 421.9L735.9 424.2L736.5 426.8L737.9 429.4L740.0 431.4L742.4 432.8L744.8 433.7L747.5 434.0L748.5 432.7L747.4 430.1L745.7 428.2L744.4 426.7L743.8 425.6L743.6 424.7L743.6 423.4L743.7 421.8L743.8 420.0L743.9 418.2L744.1 416.9L744.8 415.0L745.4 413.9L746.2 412.4L747.3 410.7L748.5 408.9L749.9 406.9L751.2 404.8L752.3 402.9L753.5 400.9L754.8 398.9L756.1 396.7L757.4 394.6L758.6 392.4L759.7 390.2L760.8 387.7L761.9 385.3L762.8 382.8L763.6 380.5L764.3 378.3L765.0 376.0L765.6 373.0L765.8 370.4L766.0 368.8L766.3 367.8L767.0 366.8L768.3 365.6L770.0 364.1L772.1 362.3L773.8 360.7L775.5 359.0L777.3 357.4L779.1 355.8L781.0 354.2L782.6 353.0L784.4 351.8L786.2 350.5L788.1 349.4L790.1 348.2L792.0 347.1L794.0 346.1L796.1 345.2L798.2 344.2L800.5 343.3L802.7 342.4L804.9 341.5L807.1 340.7L809.3 339.9L811.5 339.1L813.8 338.3L816.2 337.4L818.4 336.4L820.6 335.4L822.8 334.3L824.9 333.2L827.1 332.0L829.1 330.6L831.1 329.2L833.1 327.4L835.0 325.5L836.8 323.4L838.4 321.0L839.7 318.5L840.7 316.2L841.4 313.8L842.0 311.3L842.4 308.8L842.7 306.2L843.0 303.6L843.1 301.2L843.0 298.7L843.0 296.2L842.8 293.7L842.6 291.2L842.5 288.8L842.3 286.4L842.1 284.0L841.9 281.5L841.7 279.1L841.5 276.8L841.3 274.4L841.1 272.1L841.0 269.8L840.9 267.5L840.8 265.1L840.8 262.6L840.8 260.3L840.8 257.9L840.9 255.7L841.0 253.6L841.1 251.2L841.3 249.1L841.5 246.9L841.7 244.9L841.9 242.8L842.1 240.8L842.4 238.7L842.6 236.6L842.9 234.5L843.1 232.4L843.2 230.2L842.4 227.7Z" fill="#b2b2b2"/>
<path d="M753.4 292.6L752.4 295.1L752.3 297.2L752.1 299.1L751.5 301.2L750.9 302.7L750.2 304.6L749.3 306.6L748.3 308.8L747.2 310.9L746.2 313.0L745.3 314.7L744.1 316.4L742.7 318.3L741.3 320.3L739.9 322.4L738.6 324.6L737.6 327.0L736.8 329.9L736.5 332.8L736.5 335.6L736.9 338.4L737.5 341.1L738.3 343.7L739.4 346.2L740.7 348.8L742.0 351.2L743.4 353.5L744.7 355.7L746.2 357.8L747.7 359.8L749.3 361.7L750.9 363.5L752.3 365.0L753.8 366.5L756.1 368.5L758.1 369.7L759.8 370.7L761.4 371.3L763.1 371.2L764.6 370.4L765.7 369.2L766.3 367.6L766.2 365.9L765.4 364.4L764.2 363.3L762.5 362.3L761.2 361.6L759.6 360.2L758.5 359.1L757.2 357.7L755.8 356.1L754.5 354.5L753.1 352.7L751.9 351.0L750.7 349.0L749.5 346.9L748.3 344.8L747.2 342.7L746.4 340.7L745.8 338.9L745.3 336.8L745.1 335.0L745.0 333.3L745.2 331.6L745.7 329.7L746.3 328.5L747.2 326.9L748.4 325.2L749.7 323.3L751.2 321.3L752.6 319.2L753.8 317.0L755.0 314.5L756.0 312.0L756.9 309.5L757.6 307.0L758.1 304.6L758.5 302.2L758.3 299.0L757.6 296.4L756.7 294.3L755.0 292.4Z" fill="#b2b2b2"/>
<path d="M844.3 274.7L846.1 273.7L848.0 272.6L849.7 271.6L851.6 270.6L853.5 269.6L855.5 268.5L857.2 267.6L858.7 267.0L860.1 266.7L861.7 266.7L863.6 266.7L865.7 266.1L866.0 264.6L864.4 263.1L862.6 262.2L860.5 261.6L858.0 261.3L855.4 261.8L852.9 262.5L850.6 263.5L848.4 264.4L846.4 265.4L844.4 266.4L842.6 267.5L840.7 268.6L839.7 269.5L839.1 270.7L839.0 272.1L839.4 273.4L840.3 274.5L841.6 275.1L842.9 275.2Z" fill="#b2b2b2"/>
<path d="M806.9 340.0L806.4 342.0L805.9 344.0L805.4 346.1L804.9 348.3L804.5 350.6L804.3 353.1L804.2 355.6L804.4 358.1L804.6 360.5L804.9 362.7L805.0 364.8L805.1 366.7L805.1 369.1L805.2 371.4L805.2 373.6L805.1 375.7L805.0 377.6L804.7 379.4L804.4 381.3L803.9 383.2L803.6 385.3L803.9 387.7L805.4 388.3L807.3 386.9L808.6 385.2L809.8 383.4L810.8 381.4L811.7 379.1L812.3 376.7L812.7 374.2L813.0 371.7L813.2 369.2L813.2 366.6L813.1 364.3L812.9 361.9L812.7 359.6L812.5 357.5L812.3 355.4L812.4 353.6L812.6 351.8L812.9 349.9L813.3 347.9L813.8 345.9L814.3 343.8L814.8 341.7L814.8 340.1L814.2 338.7L813.1 337.5L811.7 336.9L810.1 336.8L808.7 337.4L807.5 338.5Z" fill="#b2b2b2"/>
<path d="M611.3 296.1L613.2 297.6L615.1 299.1L617.0 300.5L618.7 301.9L620.2 303.3L621.5 304.7L622.7 306.2L623.8 307.7L624.8 309.3L625.7 311.0L626.6 312.8L627.3 314.8L627.8 316.6L628.3 318.7L628.7 320.9L629.1 323.3L629.4 325.7L629.8 328.2L630.1 330.6L630.4 332.9L630.6 335.2L630.9 337.6L631.1 340.1L631.3 342.6L631.7 345.1L632.2 347.6L632.8 350.1L633.4 352.4L634.1 354.7L634.9 357.0L635.7 359.2L636.6 361.3L637.4 363.4L638.5 365.9L639.5 368.3L640.7 370.6L641.9 372.9L643.3 375.1L644.7 377.2L646.3 379.3L647.9 381.2L649.6 383.0L651.4 384.6L653.4 386.1L656.0 387.1L657.3 386.2L657.2 383.3L656.2 381.0L655.1 378.9L654.1 376.8L653.0 374.8L652.0 372.8L651.0 370.7L649.9 368.6L648.9 366.5L647.9 364.3L646.9 362.2L645.9 359.9L645.1 357.9L644.3 355.9L643.6 353.9L642.9 351.9L642.2 349.8L641.7 347.8L641.2 345.7L640.8 343.6L640.5 341.5L640.2 339.2L640.0 336.8L639.8 334.4L639.5 331.9L639.2 329.4L638.9 326.9L638.5 324.5L638.2 321.9L637.8 319.4L637.3 316.8L636.7 314.3L636.0 311.9L635.1 309.3L634.0 306.9L632.8 304.7L631.5 302.6L630.1 300.6L628.5 298.7L626.7 296.7L624.7 294.9L622.7 293.3L620.7 291.8L618.9 290.4L617.1 288.9L615.5 288.1L613.7 287.9L612.0 288.5L610.6 289.6L609.8 291.2L609.6 293.0L610.1 294.7Z" fill="#b2b2b2"/>
<path d="M629.0 356.7L628.3 358.3L627.6 359.8L626.7 361.4L625.8 362.9L624.9 364.6L623.9 366.1L622.9 367.4L621.8 368.4L620.4 369.4L618.7 370.6L616.9 371.9L615.5 373.9L616.2 375.4L618.6 375.6L620.7 375.2L622.9 374.6L625.1 373.8L627.1 372.6L629.3 370.8L630.9 368.8L632.2 366.9L633.3 365.3L634.4 363.3L635.2 361.5L636.0 359.9L636.3 358.5L636.1 357.0L635.3 355.8L634.1 354.9L632.7 354.5L631.2 354.8L629.9 355.5Z" fill="#b2b2b2"/>
<path d="M657.8 234.3L658.7 236.7L660.1 238.7L661.6 240.5L662.9 242.2L664.1 243.8L665.1 245.5L666.2 247.3L667.2 249.2L668.2 251.1L669.3 252.9L670.6 254.8L671.7 256.5L672.8 258.0L673.9 259.6L674.9 260.7L676.3 261.2L677.8 261.2L679.1 260.6L680.2 259.6L680.7 258.2L680.7 256.7L680.1 255.4L679.0 253.8L678.0 252.2L676.9 250.6L675.7 248.8L674.7 247.2L673.6 245.4L672.3 243.5L670.9 241.5L669.2 239.6L667.4 237.8L665.5 236.3L663.5 235.0L661.4 233.8L658.9 233.1Z" fill="#b2b2b2"/>
<path d="M709.4 340.9L707.1 341.8L705.5 343.1L703.9 344.7L702.3 346.5L701.0 348.7L699.9 351.1L699.1 353.6L698.5 356.2L698.0 358.7L697.6 361.2L697.4 363.7L697.2 366.3L697.0 368.8L696.9 371.1L696.8 373.0L696.5 375.4L696.3 377.4L696.0 379.5L696.1 381.0L696.8 382.5L698.0 383.5L699.5 384.0L701.0 383.9L702.5 383.2L703.5 382.0L704.0 380.5L704.3 378.5L704.6 376.4L704.9 373.7L705.0 371.6L705.1 369.2L705.3 366.8L705.4 364.5L705.7 362.2L706.0 359.9L706.3 357.5L706.6 355.3L706.9 353.2L707.3 351.3L707.9 349.7L708.6 348.0L709.5 346.2L710.4 344.2L710.6 341.8Z" fill="#b2b2b2"/>
<path d="M725.7 251.6L727.4 250.4L729.0 249.2L730.6 248.0L732.1 247.0L733.7 246.0L735.4 245.1L737.2 244.1L739.0 243.3L740.7 242.7L742.3 242.3L744.2 242.1L746.2 242.0L748.2 242.1L750.2 242.2L752.1 242.6L753.6 243.1L755.2 243.8L757.0 244.8L759.0 245.8L761.1 246.7L763.7 247.0L764.6 245.7L763.6 243.4L762.2 241.6L760.6 240.0L758.8 238.4L756.8 236.9L754.6 235.7L751.8 234.8L749.1 234.2L746.3 234.0L743.6 234.0L741.0 234.3L738.4 234.9L735.9 235.8L733.7 236.8L731.6 237.9L729.7 239.0L727.7 240.2L725.9 241.4L724.2 242.7L722.6 243.9L721.0 245.1L719.9 246.2L719.3 247.7L719.4 249.3L720.1 250.7L721.2 251.8L722.7 252.3L724.3 252.3Z" fill="#b2b2b2"/>
<path d="M864.0 373.3L862.0 374.4L859.9 375.5L857.8 376.7L855.8 377.8L853.7 378.9L851.6 379.9L849.5 381.0L847.3 382.1L845.0 383.1L842.7 384.3L840.3 385.4L838.1 386.7L835.9 388.0L833.8 389.3L831.5 390.7L829.4 392.2L827.3 393.9L825.4 395.9L823.9 398.1L822.7 400.5L821.8 402.8L821.1 405.2L820.7 407.3L820.3 409.5L820.3 412.3L820.8 414.8L821.5 416.8L822.9 418.7L824.5 418.6L825.4 416.3L825.6 414.3L825.8 412.5L826.3 410.5L826.9 409.0L827.6 407.3L828.4 405.4L829.3 403.7L830.2 402.1L831.3 400.8L832.5 399.5L834.0 398.3L835.8 397.0L837.7 395.8L839.8 394.5L841.9 393.3L843.9 392.1L846.0 391.1L848.2 390.0L850.5 388.9L852.8 387.8L855.1 386.7L857.2 385.6L859.3 384.5L861.4 383.3L863.5 382.2L865.6 381.1L867.6 380.0L868.8 379.1L869.5 377.8L869.6 376.3L869.2 374.9L868.2 373.7L866.9 373.0L865.5 372.9Z" fill="#b2b2b2"/>
<path d="M1199.4 167.9L1197.4 167.6L1195.4 167.1L1193.2 166.7L1190.8 166.3L1188.3 166.2L1185.7 166.4L1183.2 166.7L1180.6 167.2L1178.2 167.7L1175.8 168.3L1173.3 168.9L1170.8 169.6L1168.2 170.3L1165.6 171.3L1163.1 172.5L1160.9 173.9L1158.9 175.5L1157.1 177.3L1155.4 179.4L1154.1 181.7L1153.1 184.3L1152.5 187.0L1152.1 189.7L1152.0 192.4L1152.0 195.1L1152.2 197.5L1152.5 199.9L1152.9 202.2L1153.5 204.6L1154.0 206.9L1154.7 209.3L1155.3 211.5L1156.0 213.9L1156.8 216.3L1157.6 218.6L1158.4 220.9L1159.1 222.9L1159.9 224.9L1161.3 227.8L1162.4 229.6L1163.1 231.3L1163.5 232.8L1164.0 234.6L1164.4 236.4L1164.6 238.2L1164.5 239.7L1164.3 241.3L1163.9 243.0L1163.3 244.7L1162.5 246.5L1161.7 248.1L1160.8 249.7L1159.8 251.3L1158.5 252.9L1157.2 254.6L1156.0 256.3L1154.7 258.2L1153.4 260.0L1152.1 262.0L1151.4 264.4L1152.6 265.6L1155.0 264.8L1156.9 263.5L1158.8 262.0L1160.6 260.4L1162.2 259.0L1163.7 257.5L1165.4 255.8L1166.9 253.9L1168.3 251.9L1169.4 249.7L1170.4 247.5L1171.2 245.2L1171.8 242.8L1172.1 240.3L1172.1 237.7L1171.9 235.3L1171.4 232.9L1170.9 230.8L1170.2 228.7L1169.1 226.1L1168.0 224.3L1166.8 221.8L1166.2 220.3L1165.5 218.3L1164.8 216.2L1164.0 213.9L1163.3 211.6L1162.6 209.4L1162.0 207.3L1161.4 205.1L1160.9 202.8L1160.4 200.7L1160.0 198.7L1159.8 196.7L1159.6 194.9L1159.6 192.6L1159.7 190.3L1160.0 188.3L1160.4 186.5L1160.9 185.0L1161.7 183.7L1162.7 182.4L1163.9 181.2L1165.3 180.1L1166.9 179.1L1168.6 178.3L1170.6 177.6L1172.8 176.9L1175.2 176.3L1177.6 175.7L1179.9 175.1L1182.2 174.6L1184.4 174.2L1186.5 173.9L1188.4 173.8L1190.1 173.9L1191.9 174.1L1193.8 174.5L1195.9 175.0L1198.0 175.4L1199.4 175.4L1200.8 174.8L1201.8 173.8L1202.4 172.4L1202.4 170.9L1201.8 169.5L1200.8 168.5Z" fill="#b2b2b2"/>
<path d="M1170.9 237.1L1172.8 238.0L1174.8 238.8L1176.5 239.6L1178.0 240.4L1179.3 241.3L1180.5 242.4L1181.7 243.7L1182.8 245.2L1184.0 246.8L1185.0 248.6L1185.9 250.1L1186.7 251.9L1187.6 253.8L1188.5 255.7L1189.4 257.7L1190.3 259.5L1191.3 261.5L1192.3 263.5L1193.3 265.4L1194.4 267.3L1196.2 268.9L1197.8 268.4L1198.2 266.0L1197.9 263.8L1197.5 261.6L1197.0 259.4L1196.4 257.2L1195.8 255.2L1195.2 253.1L1194.4 251.0L1193.6 248.8L1192.7 246.7L1191.6 244.8L1190.3 242.7L1189.0 240.7L1187.5 238.8L1185.9 237.0L1184.0 235.4L1182.0 233.9L1179.8 232.8L1177.8 231.9L1175.9 231.1L1174.1 230.2L1172.7 229.9L1171.2 230.1L1169.9 230.9L1169.1 232.1L1168.7 233.5L1168.9 235.0L1169.7 236.2Z" fill="#b2b2b2"/>
<path d="M1124.7 183.7L1122.5 184.8L1120.9 186.3L1119.3 188.2L1117.9 190.7L1117.1 193.1L1116.5 195.6L1116.1 198.2L1115.9 200.9L1115.9 203.7L1116.3 206.5L1117.0 209.2L1117.8 211.6L1118.4 213.6L1118.7 215.4L1118.8 217.2L1118.8 219.1L1118.6 221.0L1118.3 222.6L1118.1 223.8L1117.5 225.1L1116.9 226.0L1115.5 227.5L1114.1 229.1L1112.7 230.7L1111.3 232.2L1109.5 233.5L1108.2 234.3L1106.6 235.1L1104.8 235.9L1102.9 236.7L1100.9 237.4L1098.9 238.0L1096.9 238.6L1094.8 239.1L1092.7 239.6L1090.4 240.0L1088.1 240.5L1085.9 240.9L1084.5 241.5L1083.5 242.6L1082.9 244.0L1082.9 245.5L1083.5 246.8L1084.6 247.9L1086.0 248.4L1087.5 248.4L1089.7 247.9L1091.9 247.5L1094.2 247.0L1096.5 246.5L1098.9 246.0L1101.1 245.3L1103.3 244.6L1105.5 243.8L1107.7 242.9L1109.8 242.0L1111.8 241.0L1113.8 239.8L1116.2 238.0L1118.3 235.9L1119.9 234.0L1121.2 232.5L1122.7 230.8L1124.2 228.8L1125.3 226.2L1125.8 224.1L1126.1 221.9L1126.3 219.6L1126.4 217.1L1126.3 214.6L1125.8 211.9L1125.1 209.4L1124.3 207.0L1123.8 204.9L1123.4 203.0L1123.3 200.9L1123.3 198.7L1123.4 196.5L1123.5 194.4L1123.7 192.6L1124.2 190.8L1124.9 189.0L1125.7 187.1L1126.0 184.6Z" fill="#b2b2b2"/>
<path d="M1017.6 242.8L1015.8 244.4L1014.7 246.2L1013.7 248.2L1012.8 250.6L1012.4 253.3L1012.3 255.7L1012.5 258.2L1012.8 260.6L1013.3 263.0L1013.8 265.4L1014.4 267.7L1015.1 270.1L1015.8 272.4L1016.6 274.6L1017.4 276.7L1018.0 278.8L1018.6 280.9L1019.0 282.9L1019.4 285.0L1019.8 287.0L1020.1 289.1L1020.4 291.1L1020.6 293.1L1020.6 295.0L1020.6 297.0L1020.4 299.0L1020.2 301.0L1019.9 303.0L1019.5 305.0L1019.1 307.0L1018.6 308.9L1017.9 310.9L1017.1 313.0L1016.2 315.1L1015.2 317.2L1014.1 319.4L1013.0 321.6L1012.0 323.7L1010.8 325.9L1009.7 328.1L1008.5 330.4L1007.4 332.7L1006.3 335.0L1005.3 337.3L1004.3 339.5L1003.4 341.8L1002.5 344.2L1001.7 346.6L1001.1 349.1L1000.6 351.5L1000.2 353.9L1000.0 356.4L999.9 358.9L999.9 361.3L1000.1 363.8L1000.5 366.3L1001.1 368.8L1001.8 371.3L1002.7 373.8L1003.6 376.2L1004.7 378.5L1005.9 380.7L1007.3 382.9L1008.7 385.1L1010.3 387.1L1012.0 389.1L1013.7 391.1L1015.2 392.7L1016.8 394.3L1018.5 396.0L1020.3 397.6L1022.2 399.1L1024.2 400.6L1026.3 401.9L1028.5 403.0L1030.8 404.0L1033.1 405.0L1035.5 405.8L1038.0 406.5L1040.4 407.0L1042.9 407.4L1045.3 407.5L1047.8 407.5L1050.2 407.4L1052.6 407.1L1055.0 406.7L1057.3 406.2L1059.5 405.5L1062.1 404.7L1064.6 403.6L1067.1 402.5L1069.4 401.2L1071.7 399.8L1073.9 398.4L1075.8 397.0L1077.7 395.6L1079.4 394.1L1081.1 392.6L1082.8 391.0L1084.4 389.5L1086.1 388.0L1087.8 386.4L1089.5 384.8L1091.2 383.1L1093.0 381.4L1094.7 379.6L1096.4 377.8L1098.1 376.0L1099.7 374.1L1101.2 372.1L1102.6 370.2L1104.0 368.3L1105.4 366.3L1106.8 364.4L1108.2 362.4L1109.6 360.6L1111.0 358.8L1112.4 356.9L1113.9 354.9L1115.3 353.1L1116.8 351.2L1118.2 349.4L1119.7 347.7L1121.2 346.0L1122.8 344.2L1124.5 342.6L1126.1 340.9L1127.7 339.3L1129.4 337.7L1131.0 336.2L1132.7 334.7L1134.5 333.2L1136.3 331.7L1138.1 330.3L1139.9 328.9L1141.7 327.6L1143.6 326.3L1145.5 325.1L1147.5 323.8L1149.6 322.6L1151.6 321.4L1153.7 320.2L1155.9 319.1L1158.0 318.0L1160.1 317.0L1162.1 316.1L1164.2 315.2L1166.3 314.3L1168.4 313.6L1170.5 312.8L1172.6 312.0L1174.7 311.3L1176.9 310.5L1179.1 309.8L1181.3 309.1L1183.4 308.5L1185.6 307.9L1187.7 307.2L1189.9 306.7L1192.0 306.2L1194.2 305.7L1196.5 305.1L1198.8 304.6L1201.2 303.9L1203.5 303.2L1205.8 302.4L1208.1 301.6L1210.5 300.7L1212.9 299.7L1215.2 298.6L1217.5 297.3L1219.6 296.0L1221.8 294.6L1223.9 293.0L1225.9 291.3L1227.9 289.5L1229.7 287.6L1231.4 285.6L1233.0 283.5L1234.5 281.3L1235.8 279.0L1237.0 276.7L1238.0 274.3L1238.8 271.9L1239.5 269.4L1240.0 266.9L1240.4 264.5L1240.7 262.0L1240.9 259.6L1240.9 257.1L1240.8 254.6L1240.5 252.2L1240.2 249.8L1239.8 247.4L1239.0 244.6L1238.0 241.8L1237.0 239.4L1236.1 237.2L1235.6 235.8L1235.4 233.8L1235.4 231.5L1234.6 228.4L1233.1 226.0L1231.5 224.0L1229.7 222.2L1227.8 220.4L1226.3 219.0L1224.7 217.6L1223.0 216.1L1221.1 214.6L1219.2 213.1L1217.3 211.7L1215.3 210.4L1213.3 209.1L1211.2 208.0L1209.1 207.0L1207.0 206.0L1205.0 205.2L1202.6 204.2L1200.2 203.5L1197.9 202.8L1195.5 202.4L1192.8 202.6L1192.2 204.1L1193.8 206.2L1195.7 207.7L1197.7 209.0L1199.7 210.2L1201.7 211.5L1203.5 212.6L1205.4 213.8L1207.3 214.9L1209.1 216.1L1211.0 217.2L1212.7 218.3L1214.4 219.5L1216.1 220.9L1217.7 222.3L1219.4 223.7L1220.9 225.0L1222.2 226.3L1224.0 228.0L1225.5 229.5L1226.5 230.8L1227.1 231.6L1227.3 232.5L1227.3 234.3L1227.7 237.5L1228.5 240.1L1229.5 242.4L1230.5 244.8L1231.3 247.0L1231.9 249.2L1232.2 251.1L1232.5 253.1L1232.7 255.2L1232.8 257.2L1232.8 259.3L1232.6 261.3L1232.4 263.4L1232.1 265.4L1231.6 267.5L1231.1 269.5L1230.4 271.4L1229.7 273.3L1228.7 275.1L1227.6 277.0L1226.4 278.8L1225.1 280.5L1223.6 282.2L1222.1 283.8L1220.6 285.2L1218.9 286.6L1217.1 287.9L1215.3 289.2L1213.4 290.3L1211.5 291.4L1209.5 292.4L1207.5 293.2L1205.4 294.0L1203.2 294.7L1201.0 295.4L1198.8 296.1L1196.7 296.7L1194.6 297.3L1192.4 297.8L1190.2 298.3L1187.9 298.8L1185.6 299.4L1183.3 300.1L1181.1 300.7L1178.9 301.4L1176.7 302.1L1174.4 302.9L1172.0 303.7L1169.9 304.4L1167.8 305.2L1165.6 306.0L1163.4 306.8L1161.1 307.7L1158.9 308.6L1156.6 309.7L1154.4 310.7L1152.1 311.9L1149.9 313.1L1147.6 314.3L1145.4 315.6L1143.3 316.9L1141.1 318.3L1139.1 319.6L1137.1 321.0L1135.1 322.4L1133.2 323.8L1131.2 325.4L1129.3 326.9L1127.3 328.6L1125.6 330.2L1123.9 331.8L1122.1 333.4L1120.4 335.2L1118.6 336.9L1116.9 338.7L1115.3 340.5L1113.6 342.3L1112.0 344.2L1110.4 346.1L1108.9 348.1L1107.4 350.1L1105.9 352.0L1104.5 353.9L1103.1 355.8L1101.8 357.6L1100.2 359.6L1098.8 361.6L1097.4 363.6L1096.0 365.4L1094.7 367.2L1093.3 369.0L1091.9 370.7L1090.4 372.4L1088.9 374.0L1087.3 375.7L1085.6 377.3L1083.9 378.9L1082.2 380.5L1080.6 382.0L1078.9 383.6L1077.3 385.1L1075.7 386.6L1074.1 388.0L1072.6 389.3L1071.0 390.5L1069.4 391.6L1067.4 392.9L1065.4 394.1L1063.4 395.3L1061.3 396.2L1059.3 397.1L1057.2 397.8L1055.3 398.3L1053.4 398.7L1051.4 399.1L1049.5 399.3L1047.5 399.4L1045.6 399.4L1043.8 399.3L1041.9 399.0L1039.9 398.6L1037.9 398.0L1035.9 397.4L1034.0 396.6L1032.1 395.7L1030.3 394.8L1028.7 393.8L1027.1 392.7L1025.5 391.4L1024.0 390.0L1022.5 388.6L1021.1 387.1L1019.7 385.6L1018.1 383.9L1016.7 382.1L1015.3 380.3L1014.1 378.5L1013.0 376.7L1012.0 374.8L1011.1 372.9L1010.2 370.9L1009.5 368.9L1009.0 366.8L1008.5 364.8L1008.2 362.8L1008.0 360.9L1008.0 358.9L1008.1 356.9L1008.2 354.9L1008.6 352.9L1008.9 350.9L1009.5 348.9L1010.1 346.9L1010.9 344.8L1011.8 342.7L1012.7 340.5L1013.7 338.3L1014.7 336.2L1015.7 334.1L1016.9 331.9L1018.0 329.6L1019.2 327.4L1020.3 325.1L1021.4 322.9L1022.4 320.7L1023.5 318.5L1024.6 316.1L1025.6 313.7L1026.4 311.1L1027.0 308.9L1027.5 306.6L1027.9 304.4L1028.3 302.0L1028.5 299.7L1028.7 297.3L1028.7 295.0L1028.6 292.6L1028.4 290.2L1028.2 287.9L1027.8 285.6L1027.4 283.4L1026.9 281.2L1026.4 279.1L1025.8 276.6L1025.0 274.2L1024.3 271.9L1023.5 269.7L1022.8 267.7L1022.2 265.6L1021.7 263.4L1021.1 261.2L1020.5 259.0L1020.0 256.9L1019.6 255.0L1019.3 253.4L1019.2 251.5L1019.3 249.7L1019.5 247.8L1019.7 245.6L1019.1 243.2Z" fill="#b2b2b2"/>
<path d="M1078.5 209.5L1078.3 211.9L1078.9 213.9L1079.5 215.8L1080.0 217.6L1080.4 219.4L1080.9 221.5L1081.3 223.7L1081.6 225.9L1081.8 227.9L1081.8 229.8L1081.6 231.6L1081.1 233.6L1080.4 235.7L1079.6 237.9L1078.7 240.1L1078.0 241.9L1077.1 243.8L1076.2 245.6L1075.1 247.5L1074.1 249.5L1073.1 251.5L1072.1 253.3L1071.0 255.2L1069.9 257.1L1068.8 259.2L1067.8 261.4L1067.0 263.8L1066.3 266.2L1065.9 268.6L1065.6 271.0L1065.3 273.4L1065.2 275.8L1065.1 278.3L1065.1 280.5L1065.2 282.7L1065.4 285.0L1065.6 287.2L1065.7 289.3L1065.9 291.4L1066.0 293.4L1066.0 295.5L1065.9 297.6L1065.9 299.7L1065.8 301.9L1065.7 304.0L1065.6 306.0L1065.5 308.0L1065.2 310.2L1065.0 312.5L1064.7 314.6L1064.4 316.7L1064.0 318.8L1063.6 320.7L1063.0 323.0L1062.3 325.2L1061.5 327.4L1060.6 329.7L1059.8 332.0L1059.6 333.6L1060.0 335.1L1061.0 336.4L1062.3 337.2L1063.9 337.4L1065.4 337.0L1066.7 336.0L1067.5 334.7L1068.3 332.4L1069.1 330.1L1069.9 327.7L1070.7 325.2L1071.4 322.6L1071.9 320.4L1072.3 318.1L1072.7 315.8L1073.0 313.5L1073.3 311.1L1073.5 308.7L1073.7 306.6L1073.8 304.4L1073.9 302.2L1074.0 300.0L1074.0 297.7L1074.1 295.5L1074.0 293.3L1074.0 291.0L1073.8 288.7L1073.6 286.5L1073.5 284.3L1073.3 282.3L1073.2 280.3L1073.2 278.4L1073.3 276.2L1073.4 274.0L1073.6 271.9L1073.9 269.9L1074.2 268.0L1074.7 266.2L1075.3 264.5L1076.1 262.8L1077.0 261.0L1078.1 259.2L1079.2 257.2L1080.3 255.2L1081.3 253.3L1082.3 251.3L1083.3 249.4L1084.4 247.4L1085.4 245.3L1086.3 243.2L1087.2 240.8L1088.1 238.3L1088.9 235.7L1089.5 233.0L1089.9 230.2L1089.8 227.3L1089.3 224.6L1088.6 221.9L1087.8 219.5L1086.9 217.2L1085.8 215.1L1084.6 213.2L1083.3 211.5L1081.9 210.0L1079.9 208.8Z" fill="#b2b2b2"/>
<path d="M1061.7 329.6L1059.9 331.2L1058.2 332.8L1056.5 334.2L1054.9 335.5L1053.0 336.8L1051.3 337.8L1049.4 338.8L1047.4 339.7L1045.2 340.6L1043.0 341.4L1040.6 342.2L1038.8 342.8L1036.7 343.4L1034.6 344.0L1032.3 344.5L1030.0 345.2L1027.6 345.9L1025.3 346.8L1023.2 348.4L1023.5 350.0L1026.0 350.8L1028.4 350.9L1030.9 350.9L1033.3 350.8L1035.7 350.6L1038.1 350.3L1040.5 349.9L1042.7 349.4L1045.5 348.6L1048.0 347.7L1050.5 346.6L1052.7 345.6L1054.9 344.4L1057.0 343.2L1059.3 341.7L1061.4 340.0L1063.2 338.4L1064.9 336.9L1066.7 335.4L1067.6 334.2L1068.0 332.8L1067.8 331.3L1067.0 330.0L1065.9 329.1L1064.4 328.7L1063.0 328.9Z" fill="#b2b2b2"/>
<path d="M1061.2 333.8L1061.5 336.0L1061.7 338.3L1062.0 340.5L1062.3 342.8L1062.6 345.1L1062.9 347.3L1063.4 349.8L1064.0 352.3L1064.6 354.8L1065.4 357.2L1066.3 359.4L1067.7 361.8L1069.3 363.7L1070.9 365.2L1073.0 366.3L1074.3 365.4L1074.1 363.0L1073.3 361.0L1072.6 359.2L1072.0 357.2L1071.7 355.4L1071.4 353.3L1071.1 351.0L1070.7 348.6L1070.4 346.1L1070.1 344.0L1069.8 341.9L1069.6 339.7L1069.3 337.4L1069.0 335.1L1068.8 332.9L1068.3 331.5L1067.3 330.3L1066.0 329.7L1064.5 329.6L1063.1 330.0L1062.0 331.0L1061.3 332.3Z" fill="#b2b2b2"/>
<path d="M967.0 310.9L968.5 309.2L970.0 307.5L971.4 305.9L972.9 304.2L974.4 302.6L976.0 300.9L977.6 299.1L979.2 297.5L980.8 296.0L982.3 294.6L984.0 293.3L985.8 292.0L987.7 290.8L989.6 289.6L991.3 288.5L993.0 287.3L994.5 286.4L996.0 285.4L997.3 283.7L996.7 282.3L994.7 281.9L992.9 282.1L990.9 282.5L988.7 283.2L986.7 284.0L984.5 284.9L982.2 286.0L979.9 287.2L977.7 288.7L975.7 290.4L973.8 292.1L972.1 293.9L970.5 295.7L968.9 297.4L967.3 299.1L965.8 300.8L964.3 302.5L962.8 304.1L961.3 305.8L960.6 307.1L960.4 308.5L960.7 310.0L961.6 311.2L962.9 311.9L964.4 312.1L965.8 311.8Z" fill="#b2b2b2"/>
<path d="M1027.2 279.8L1028.6 277.9L1030.1 276.0L1031.4 274.2L1032.8 272.4L1034.3 270.6L1035.7 268.8L1037.1 267.2L1038.4 265.9L1039.9 264.7L1041.7 263.6L1043.6 262.4L1045.3 260.4L1044.7 258.9L1042.2 258.6L1039.8 259.0L1037.4 259.7L1034.9 260.8L1032.7 262.3L1030.7 264.0L1028.9 265.8L1027.2 267.6L1025.5 269.4L1024.0 271.4L1022.6 273.3L1021.1 275.2L1020.5 276.5L1020.4 278.0L1020.9 279.4L1021.9 280.5L1023.2 281.2L1024.7 281.3L1026.1 280.8Z" fill="#b2b2b2"/>
<path d="M1012.2 381.5L1010.4 382.5L1008.5 383.5L1006.6 384.5L1004.7 385.7L1002.6 387.0L1000.4 388.5L998.3 390.0L996.5 391.4L994.7 392.8L993.2 394.3L991.9 396.3L991.5 399.1L992.5 401.6L994.1 401.7L995.6 399.9L996.5 398.7L998.3 397.9L1000.2 397.0L1002.0 396.0L1004.2 394.9L1006.5 393.8L1008.7 392.6L1010.6 391.6L1012.4 390.6L1014.3 389.6L1016.1 388.5L1017.3 387.5L1018.1 386.1L1018.2 384.6L1017.7 383.0L1016.7 381.8L1015.3 381.1L1013.7 381.0Z" fill="#b2b2b2"/>
<path d="M1099.2 290.6L1097.6 292.0L1096.5 293.7L1095.6 296.0L1095.4 298.9L1096.1 301.4L1097.0 303.8L1098.3 306.1L1099.7 308.4L1101.2 310.6L1102.7 312.5L1104.4 314.3L1106.1 316.0L1107.7 317.6L1109.1 319.2L1110.3 320.7L1111.7 322.5L1112.9 324.4L1114.0 326.2L1114.9 327.9L1115.6 329.6L1116.1 331.2L1116.4 332.9L1116.6 334.7L1116.8 336.8L1117.1 338.8L1117.5 340.2L1118.5 341.4L1119.9 342.0L1121.3 342.1L1122.7 341.6L1123.9 340.6L1124.5 339.3L1124.6 337.8L1124.3 335.9L1124.1 333.9L1123.9 331.8L1123.5 329.4L1122.7 327.0L1121.8 324.7L1120.6 322.5L1119.3 320.3L1117.9 318.2L1116.3 316.0L1114.8 314.2L1113.1 312.4L1111.4 310.7L1109.8 309.0L1108.4 307.5L1107.1 306.0L1105.7 304.2L1104.2 302.3L1102.9 300.5L1101.9 298.9L1101.2 297.8L1100.9 296.5L1100.9 295.2L1101.2 293.3L1100.8 291.1Z" fill="#b2b2b2"/>
<path d="M1126.9 277.0L1124.6 278.1L1122.9 279.5L1121.2 281.4L1119.7 283.8L1118.6 286.1L1117.8 288.5L1117.1 291.0L1116.5 293.7L1116.2 296.4L1116.1 298.8L1116.2 301.2L1116.4 303.5L1116.6 305.9L1116.8 308.1L1117.1 310.4L1117.3 312.7L1117.6 315.0L1117.8 317.3L1118.1 319.5L1118.4 321.7L1118.7 323.8L1119.1 326.3L1119.4 328.7L1119.7 331.0L1120.1 333.2L1120.4 335.5L1120.9 336.9L1121.9 338.0L1123.2 338.7L1124.7 338.8L1126.1 338.3L1127.2 337.3L1127.8 335.9L1127.9 334.5L1127.6 332.1L1127.3 329.9L1126.9 327.6L1126.6 325.2L1126.3 322.8L1126.0 320.7L1125.7 318.5L1125.4 316.3L1125.1 314.0L1124.8 311.8L1124.6 309.6L1124.4 307.4L1124.2 305.1L1123.9 302.9L1123.8 300.8L1123.7 298.8L1123.8 296.9L1123.9 294.6L1124.2 292.3L1124.5 290.1L1124.9 288.0L1125.3 286.2L1126.0 284.2L1126.8 282.4L1127.8 280.5L1128.1 278.0Z" fill="#b2b2b2"/>
<path d="M1154.1 294.4L1156.0 292.6L1157.1 291.0L1158.2 290.1L1159.3 289.9L1160.9 289.5L1162.9 289.4L1164.9 289.5L1166.7 289.7L1168.8 290.1L1171.0 290.7L1173.2 291.4L1175.1 292.1L1176.7 293.0L1178.2 294.1L1179.9 295.4L1181.8 296.9L1183.9 298.3L1186.0 299.4L1188.0 300.3L1189.9 301.1L1191.7 301.9L1193.5 302.7L1194.9 303.0L1196.4 302.7L1197.6 301.9L1198.5 300.7L1198.8 299.2L1198.5 297.8L1197.7 296.5L1196.5 295.7L1194.7 294.9L1192.8 294.1L1191.0 293.4L1189.4 292.6L1187.8 291.7L1186.3 290.7L1184.6 289.5L1182.8 288.0L1180.7 286.5L1178.3 285.2L1175.7 284.2L1173.1 283.4L1170.3 282.7L1167.7 282.3L1165.1 282.2L1162.1 282.5L1159.3 283.2L1156.8 284.2L1154.5 285.9L1152.7 288.5L1152.2 291.3L1152.6 293.9Z" fill="#b2b2b2"/>
<path d="M1148.2 356.6L1149.9 358.1L1151.8 359.0L1153.7 359.7L1155.9 360.3L1158.2 360.7L1160.6 360.9L1163.1 361.0L1165.6 360.9L1168.1 360.7L1170.5 360.4L1172.8 360.1L1175.3 359.8L1177.8 359.3L1180.5 358.6L1183.2 357.7L1185.4 356.5L1187.6 355.2L1189.6 353.8L1191.5 352.5L1193.4 351.1L1195.3 349.9L1197.1 348.8L1199.0 347.7L1200.8 346.6L1202.7 345.5L1204.6 344.5L1206.5 343.5L1208.3 342.6L1210.4 341.6L1212.5 340.7L1214.7 339.9L1216.8 339.1L1218.9 338.5L1221.0 337.8L1223.2 337.2L1225.5 336.7L1227.8 336.3L1230.0 335.9L1231.9 335.6L1233.3 335.5L1235.3 335.7L1237.0 336.3L1239.8 336.8L1242.7 336.6L1245.3 336.1L1247.9 335.2L1250.1 334.4L1252.4 333.3L1254.7 332.1L1257.0 330.7L1258.9 329.5L1260.7 328.2L1262.6 326.7L1264.4 325.1L1266.2 323.4L1267.7 321.5L1269.1 319.5L1270.4 317.4L1271.6 315.4L1272.6 313.3L1273.4 311.0L1274.1 308.8L1274.7 306.6L1275.1 304.5L1275.5 302.5L1275.8 300.1L1276.0 297.8L1276.1 295.6L1275.4 293.2L1273.9 292.8L1272.2 294.7L1271.3 296.7L1270.4 298.7L1269.5 300.8L1268.8 302.7L1268.1 304.6L1267.3 306.5L1266.6 308.4L1265.8 310.1L1264.8 311.8L1263.9 313.6L1262.8 315.3L1261.7 316.9L1260.5 318.3L1259.2 319.6L1257.8 320.9L1256.2 322.1L1254.6 323.2L1253.0 324.3L1251.0 325.5L1249.0 326.5L1247.1 327.4L1245.4 328.1L1243.3 328.7L1241.7 329.1L1240.2 329.2L1239.0 328.9L1236.8 328.2L1233.4 327.9L1231.1 328.1L1228.8 328.4L1226.4 328.8L1223.9 329.3L1221.4 329.9L1219.0 330.5L1216.6 331.2L1214.3 332.0L1212.0 332.8L1209.7 333.7L1207.4 334.7L1205.0 335.7L1203.0 336.7L1201.0 337.8L1199.0 338.9L1197.0 340.0L1195.1 341.2L1193.2 342.3L1191.3 343.4L1189.2 344.8L1187.1 346.2L1185.2 347.6L1183.4 348.9L1181.7 349.9L1180.2 350.7L1178.2 351.4L1176.2 351.9L1174.1 352.3L1171.8 352.6L1169.5 352.9L1167.2 353.2L1164.9 353.6L1162.7 353.9L1160.5 354.1L1158.5 354.3L1156.6 354.4L1154.7 354.3L1152.7 354.3L1150.7 354.3L1148.5 355.0Z" fill="#b2b2b2"/>
<path d="M1268.7 317.0L1270.7 317.8L1272.8 318.7L1275.1 319.6L1277.8 320.1L1280.9 320.1L1283.4 319.5L1285.6 318.8L1287.9 317.9L1290.2 316.8L1292.3 314.8L1292.0 313.2L1289.3 312.1L1286.8 311.9L1284.4 311.9L1282.2 312.0L1280.4 312.1L1278.9 311.9L1277.7 311.5L1276.1 310.8L1274.0 309.9L1272.0 309.0L1270.3 308.7L1268.7 309.0L1267.3 310.0L1266.4 311.4L1266.0 313.0L1266.4 314.7L1267.3 316.0Z" fill="#b2b2b2"/>
<path d="M1182.5 355.0C1182.8 358.9 1182.4 362.8 1183.3 366.7C1184.3 370.6 1186.4 374.4 1188.3 378.3C1190.3 382.2 1192.8 386.1 1195.0 390.0C1197.2 393.9 1199.9 398.3 1201.7 401.7C1203.5 405.0 1205.4 408.6 1205.8 410.0C1206.2 411.4 1204.7 410.0 1204.2 410.0" fill="none" stroke="#b2b2b2" stroke-width="7.6" stroke-linecap="round" stroke-linejoin="round"/>
<path d="M1090.5 380.1L1092.0 381.7L1093.5 383.5L1095.5 385.5L1097.9 387.3L1099.8 388.5L1101.9 389.5L1104.0 390.5L1106.2 391.4L1108.5 392.2L1110.6 392.8L1113.1 393.5L1115.7 394.0L1118.3 394.5L1121.0 394.7L1123.6 394.6L1126.2 394.1L1128.7 393.3L1130.9 392.4L1133.0 391.3L1134.9 390.1L1136.8 388.5L1138.4 386.6L1139.5 384.8L1140.2 382.6L1139.1 381.4L1136.8 382.0L1135.1 383.1L1133.5 384.1L1131.8 384.9L1130.2 385.5L1128.4 386.1L1126.6 386.6L1124.8 386.9L1123.0 387.1L1121.2 387.1L1119.2 386.9L1117.1 386.6L1114.9 386.1L1112.7 385.5L1110.9 384.9L1108.9 384.3L1107.0 383.5L1105.2 382.7L1103.5 381.8L1102.1 381.0L1100.5 379.8L1099.2 378.4L1097.7 376.7L1096.1 374.9L1095.0 374.1L1093.5 373.7L1092.0 373.9L1090.8 374.7L1089.9 375.9L1089.5 377.3L1089.8 378.8Z" fill="#b2b2b2"/>
<path d="M1109.8 393.3L1111.6 394.4L1113.5 395.5L1115.3 396.6L1117.3 397.7L1119.2 398.9L1121.3 400.0L1123.5 401.0L1125.7 401.9L1127.9 402.8L1130.2 403.5L1132.5 404.3L1134.7 405.0L1136.9 405.6L1139.1 406.2L1141.6 406.8L1144.0 407.2L1146.2 407.6L1148.4 407.9L1150.4 408.2L1152.5 408.7L1154.8 409.2L1157.1 409.7L1159.3 410.1L1161.1 410.6L1162.6 411.1L1163.4 411.5L1164.3 412.4L1165.0 413.9L1165.8 416.0L1166.6 418.4L1168.4 420.5L1169.9 420.2L1170.6 417.6L1170.8 415.1L1170.6 412.4L1169.9 409.5L1168.2 406.8L1166.0 405.0L1163.6 403.8L1161.2 403.0L1158.7 402.3L1156.4 401.8L1154.2 401.3L1151.9 400.8L1149.6 400.4L1147.4 400.0L1145.2 399.7L1143.1 399.3L1140.9 398.8L1138.9 398.3L1136.9 397.7L1134.7 397.0L1132.6 396.3L1130.5 395.6L1128.5 394.8L1126.5 394.0L1124.7 393.2L1122.9 392.2L1121.1 391.2L1119.2 390.1L1117.4 389.0L1115.5 387.8L1113.6 386.7L1112.2 386.2L1110.7 386.3L1109.4 387.0L1108.4 388.1L1107.9 389.5L1108.0 391.0L1108.7 392.3Z" fill="#b2b2b2"/>
<path d="M933.4 354.8L931.8 356.6L931.0 358.5L930.3 360.4L929.6 362.1L928.7 363.7L927.6 365.3L926.3 367.2L924.7 369.1L923.2 371.0L921.9 372.8L920.7 374.5L919.7 375.8L918.5 377.3L917.0 379.4L915.8 381.0L914.4 382.8L913.0 384.7L911.5 386.8L910.0 388.8L908.5 390.8L907.0 392.6L905.6 394.4L904.1 396.2L902.7 397.9L901.2 399.6L899.8 401.2L898.4 402.7L897.2 404.1L895.4 406.0L894.0 407.4L892.5 408.8L890.7 410.6L889.2 412.1L887.6 413.7L885.9 415.4L884.1 417.2L882.4 418.9L880.6 420.7L879.0 422.3L877.3 424.0L875.6 425.7L874.0 427.4L872.3 429.0L870.7 430.6L869.1 432.1L867.4 433.7L865.8 435.2L864.1 436.7L862.4 438.2L860.8 439.7L859.9 440.9L859.5 442.3L859.8 443.8L860.5 445.1L861.7 445.9L863.2 446.3L864.6 446.1L865.9 445.3L867.6 443.8L869.2 442.3L870.9 440.8L872.6 439.3L874.3 437.7L876.0 436.1L877.7 434.4L879.4 432.8L881.0 431.1L882.7 429.4L884.4 427.7L886.0 426.0L887.7 424.3L889.5 422.6L891.2 420.8L892.9 419.1L894.5 417.5L896.0 416.0L897.8 414.3L899.3 412.8L900.9 411.3L902.8 409.2L904.1 407.8L905.5 406.3L906.9 404.6L908.4 402.8L910.0 401.0L911.5 399.2L913.0 397.4L914.5 395.4L916.0 393.4L917.6 391.3L919.1 389.3L920.6 387.3L921.9 385.5L923.0 384.0L924.6 381.9L925.7 380.4L926.8 379.0L928.1 377.2L929.3 375.4L930.7 373.4L932.2 371.2L933.5 368.8L934.6 366.3L935.3 363.9L935.6 361.6L935.7 359.5L935.6 357.4L934.9 355.2Z" fill="#b2b2b2"/>
<path d="M940.7 389.5L938.3 388.9L936.0 388.9L933.8 389.0L931.5 389.2L929.4 389.5L927.3 389.7L925.3 390.0L923.2 390.3L920.9 390.9L918.5 391.8L916.2 393.1L914.0 394.5L911.9 396.0L910.0 397.4L908.1 398.6L906.3 399.7L904.3 400.8L902.4 401.8L900.4 402.8L898.4 403.9L897.3 404.7L896.6 405.9L896.5 407.3L896.9 408.6L897.7 409.7L898.9 410.4L900.3 410.5L901.6 410.1L903.6 409.1L905.6 408.1L907.7 407.0L909.7 405.9L911.9 404.7L914.0 403.3L916.1 401.8L918.0 400.3L919.8 399.1L921.5 398.2L923.1 397.6L924.8 397.0L926.6 396.6L928.6 396.1L930.6 395.5L932.7 394.9L934.8 394.2L936.9 393.5L939.0 392.6L941.0 391.1Z" fill="#b2b2b2"/>
<path d="M1048.3 403.3L1050.8 415.0" fill="none" stroke="#b2b2b2" stroke-width="7.6" stroke-linecap="round" stroke-linejoin="round"/>
<path d="M1279.2 262.0C1276.7 262.4 1274.6 262.7 1271.7 263.3C1268.8 264.0 1265.0 264.8 1261.7 265.8C1258.3 266.9 1254.7 268.1 1251.7 269.7C1248.6 271.2 1245.8 273.3 1243.3 275.0C1240.8 276.7 1238.9 278.3 1236.7 280.0" fill="none" stroke="#b2b2b2" stroke-width="7.1" stroke-linecap="round" stroke-linejoin="round"/>
<path d="M1328.7 313.9L1327.1 315.6L1325.5 317.3L1324.0 318.9L1322.5 320.4L1320.8 321.8L1319.2 323.0L1317.5 324.2L1315.7 325.4L1313.7 326.6L1311.7 327.8L1309.6 329.0L1307.8 330.1L1306.0 331.1L1304.0 332.2L1302.1 333.2L1300.1 334.3L1298.2 335.4L1296.3 336.5L1294.2 337.8L1292.1 339.1L1290.1 340.3L1288.1 341.6L1286.2 342.9L1284.3 344.2L1282.5 345.5L1280.7 346.9L1279.1 348.2L1277.5 349.4L1275.9 350.6L1274.4 351.6L1272.5 352.9L1270.6 354.1L1268.8 355.2L1266.9 356.2L1265.0 357.1L1262.9 358.0L1260.7 358.8L1258.4 359.6L1256.0 360.4L1253.7 361.2L1251.5 361.9L1249.3 362.7L1247.3 363.4L1245.4 364.0L1243.9 364.4L1242.2 365.0L1241.3 365.2L1240.0 365.3L1238.4 365.4L1236.3 365.3L1233.9 365.3L1231.5 365.6L1229.3 366.1L1227.4 366.8L1225.6 367.7L1224.0 369.2L1224.3 370.8L1226.4 371.6L1228.4 371.6L1230.1 371.7L1231.8 371.8L1233.6 372.0L1235.7 372.4L1237.9 372.8L1240.0 373.0L1242.1 373.0L1244.0 372.7L1246.1 372.2L1247.9 371.7L1249.8 371.1L1252.0 370.3L1254.1 369.6L1256.3 368.8L1258.5 368.1L1260.9 367.3L1263.4 366.5L1265.9 365.6L1268.3 364.5L1270.6 363.4L1272.8 362.2L1274.9 361.0L1276.9 359.7L1278.9 358.4L1280.7 357.1L1282.4 355.8L1284.1 354.5L1285.7 353.3L1287.3 352.0L1289.0 350.8L1290.8 349.6L1292.6 348.4L1294.5 347.2L1296.4 345.9L1298.4 344.7L1300.4 343.5L1302.2 342.4L1304.0 341.4L1306.0 340.3L1307.9 339.3L1309.9 338.2L1311.8 337.1L1313.7 336.0L1315.8 334.7L1317.9 333.5L1320.0 332.2L1322.0 330.9L1324.0 329.6L1325.9 328.2L1327.9 326.4L1329.8 324.6L1331.5 322.8L1333.0 321.1L1334.6 319.5L1335.4 318.1L1335.7 316.6L1335.4 315.0L1334.5 313.7L1333.1 312.9L1331.6 312.6L1330.0 313.0Z" fill="#b2b2b2"/>
<path d="M1268.7 361.4L1268.6 363.6L1268.4 365.7L1268.2 367.9L1268.0 370.2L1267.9 372.6L1267.9 375.0L1267.9 377.2L1268.1 379.5L1268.3 381.7L1268.4 383.9L1268.6 386.0L1268.7 388.0L1268.7 389.9L1268.6 392.1L1268.4 394.4L1268.1 396.7L1267.7 398.9L1267.4 400.9L1267.1 402.7L1266.7 405.2L1266.3 406.7L1265.6 408.8L1265.0 410.5L1264.2 412.5L1263.5 414.5L1262.6 416.4L1261.7 418.1L1260.7 419.7L1259.6 421.2L1258.3 422.7L1257.0 424.2L1255.6 425.6L1254.2 427.0L1252.7 428.3L1251.2 429.6L1249.7 430.7L1248.1 431.7L1246.4 432.6L1244.7 433.4L1242.9 434.1L1240.9 434.8L1238.8 435.6L1236.7 436.2L1234.5 436.8L1232.1 437.4L1229.6 438.1L1227.1 438.9L1224.9 439.7L1222.9 440.7L1220.9 441.7L1218.9 442.7L1217.1 443.7L1215.5 444.6L1213.2 445.8L1211.1 446.9L1209.1 448.1L1207.2 450.1L1207.8 451.6L1210.4 452.0L1212.8 451.6L1215.2 451.1L1217.8 450.4L1219.8 449.8L1221.8 449.1L1223.8 448.3L1225.8 447.5L1227.8 446.8L1229.6 446.1L1231.8 445.4L1234.1 444.8L1236.4 444.2L1238.8 443.5L1241.2 442.8L1243.4 442.0L1245.5 441.2L1247.7 440.4L1249.8 439.4L1251.9 438.3L1253.9 437.0L1255.8 435.6L1257.7 434.1L1259.4 432.6L1261.0 431.0L1262.6 429.4L1264.1 427.7L1265.6 425.8L1267.0 423.9L1268.3 421.9L1269.5 419.7L1270.5 417.4L1271.4 415.2L1272.1 413.1L1272.8 411.2L1273.6 408.9L1274.1 406.7L1274.6 404.0L1274.9 402.1L1275.2 400.0L1275.6 397.7L1275.9 395.2L1276.2 392.7L1276.3 390.1L1276.3 387.8L1276.2 385.6L1276.0 383.3L1275.8 381.1L1275.6 378.9L1275.5 376.9L1275.5 375.0L1275.5 372.8L1275.6 370.7L1275.8 368.5L1275.9 366.4L1276.1 364.2L1276.3 361.9L1276.1 360.5L1275.4 359.2L1274.2 358.3L1272.8 357.9L1271.3 358.1L1270.0 358.8L1269.1 360.0Z" fill="#b2b2b2"/>
<path d="M1248.2 434.1L1247.7 436.4L1247.0 438.7L1246.6 441.3L1246.4 444.0L1246.7 446.7L1247.4 449.0L1248.4 451.2L1250.0 453.1L1251.6 452.9L1252.6 450.4L1252.7 448.2L1252.7 446.1L1252.9 444.3L1253.3 442.5L1253.9 440.5L1254.5 438.2L1255.1 435.9L1255.2 434.5L1254.7 433.2L1253.8 432.1L1252.5 431.6L1251.1 431.5L1249.8 432.0L1248.8 432.9Z" fill="#b2b2b2"/>
<path d="M1362.5 366.3C1359.4 367.0 1357.1 367.7 1353.3 368.3C1349.6 368.9 1344.2 369.3 1340.0 370.0C1335.8 370.7 1331.9 371.4 1328.3 372.5C1324.7 373.6 1321.7 375.1 1318.3 376.3" fill="none" stroke="#b2b2b2" stroke-width="7.1" stroke-linecap="round" stroke-linejoin="round"/>
<path d="M1313.7 356.7L1312.5 358.8L1312.1 360.8L1311.9 362.7L1311.7 364.6L1311.4 366.6L1311.2 368.8L1310.9 370.9L1310.6 373.1L1310.3 375.4L1309.9 377.6L1309.6 379.6L1309.1 381.7L1308.5 383.8L1308.0 386.0L1307.3 388.3L1306.7 390.5L1306.0 392.8L1305.3 395.1L1304.5 397.6L1303.8 399.9L1303.1 401.9L1302.6 403.7L1301.9 405.8L1301.7 406.7L1301.0 408.4L1300.4 410.0L1299.7 411.8L1298.8 413.8L1298.0 415.8L1297.1 417.8L1296.1 419.8L1295.2 421.6L1294.2 423.4L1293.1 425.3L1292.0 427.2L1290.9 429.1L1289.7 431.1L1288.6 432.8L1287.5 434.6L1286.4 436.3L1285.2 438.1L1284.0 439.9L1282.8 441.6L1281.6 443.2L1280.3 444.9L1279.0 446.6L1277.6 448.3L1276.2 449.9L1274.8 451.5L1273.4 453.0L1272.0 454.4L1270.3 456.0L1268.5 457.6L1266.7 459.1L1264.9 460.5L1263.0 461.8L1261.2 462.9L1259.2 464.0L1257.2 464.9L1255.0 465.8L1252.9 466.6L1250.8 467.3L1248.9 467.9L1246.8 468.4L1245.2 468.7L1243.8 468.9L1242.4 468.9L1240.7 468.8L1239.2 468.4L1237.4 467.8L1235.2 466.9L1232.8 466.0L1230.2 465.1L1227.4 464.4L1225.0 464.1L1222.7 463.9L1220.3 463.9L1218.0 463.9L1215.6 464.0L1213.3 464.1L1211.0 464.4L1208.5 464.9L1205.9 465.5L1203.5 466.2L1201.1 466.9L1198.9 467.7L1196.8 468.5L1194.3 469.5L1192.0 470.5L1189.8 471.6L1187.7 472.6L1185.6 473.6L1184.3 474.6L1183.4 476.1L1183.2 477.7L1183.6 479.4L1184.6 480.7L1186.1 481.6L1187.7 481.8L1189.4 481.4L1191.5 480.3L1193.6 479.3L1195.6 478.3L1197.7 477.4L1199.9 476.5L1201.8 475.8L1203.9 475.1L1206.0 474.4L1208.1 473.8L1210.2 473.3L1212.3 472.9L1214.1 472.7L1216.1 472.6L1218.2 472.5L1220.2 472.5L1222.2 472.5L1224.2 472.7L1225.9 472.9L1227.9 473.3L1229.9 474.0L1232.0 474.9L1234.3 475.8L1236.8 476.7L1239.3 477.2L1242.0 477.5L1244.4 477.5L1246.6 477.2L1248.8 476.7L1251.1 476.1L1253.3 475.5L1255.7 474.7L1258.1 473.9L1260.6 472.8L1263.1 471.7L1265.5 470.4L1267.8 469.0L1269.9 467.5L1272.1 465.8L1274.1 464.1L1276.1 462.4L1278.0 460.6L1279.6 459.0L1281.2 457.3L1282.7 455.5L1284.2 453.8L1285.7 452.0L1287.1 450.2L1288.4 448.4L1289.8 446.6L1291.1 444.7L1292.4 442.9L1293.6 441.0L1294.8 439.2L1295.9 437.4L1297.0 435.6L1298.2 433.6L1299.4 431.6L1300.6 429.6L1301.7 427.6L1302.8 425.6L1303.9 423.6L1304.9 421.5L1305.9 419.2L1306.8 417.1L1307.6 415.0L1308.4 413.2L1309.0 411.6L1309.8 409.6L1310.2 408.3L1310.8 406.3L1311.3 404.6L1312.0 402.5L1312.7 400.2L1313.5 397.7L1314.3 395.2L1315.0 392.9L1315.6 390.6L1316.2 388.3L1316.9 386.0L1317.5 383.7L1318.0 381.3L1318.4 379.0L1318.7 376.4L1318.9 373.8L1318.9 371.3L1318.8 369.0L1318.6 366.7L1318.3 364.5L1317.9 362.4L1317.4 360.4L1316.7 358.5L1315.3 356.6Z" fill="#b2b2b2"/>
<path d="M1351.9 402.0L1349.8 402.6L1348.2 403.7L1346.3 405.2L1344.8 406.6L1343.4 408.1L1341.9 409.7L1340.5 411.1L1339.2 412.3L1337.5 413.6L1335.8 414.8L1334.1 415.8L1331.9 416.8L1330.2 417.4L1328.3 418.0L1326.1 418.5L1323.9 419.0L1321.6 419.5L1319.3 419.9L1317.1 420.3L1314.9 420.6L1312.6 420.8L1310.2 421.1L1307.8 421.3L1305.4 421.6L1304.0 422.0L1302.9 423.0L1302.2 424.3L1302.1 425.7L1302.5 427.2L1303.5 428.3L1304.8 429.0L1306.2 429.1L1308.6 428.9L1311.0 428.6L1313.4 428.4L1315.8 428.1L1318.2 427.8L1320.7 427.4L1323.1 427.0L1325.5 426.5L1327.9 425.9L1330.3 425.3L1332.6 424.6L1334.8 423.8L1337.6 422.6L1340.0 421.1L1342.1 419.5L1344.1 417.7L1345.8 415.9L1347.2 413.9L1348.5 412.0L1349.5 410.2L1350.4 408.8L1351.6 406.8L1352.6 405.2L1353.1 403.0Z" fill="#b2b2b2"/>
<path d="M1341.1 425.7L1343.0 426.6L1344.9 427.4L1346.7 428.2L1348.6 429.0L1351.1 429.9L1353.2 430.6L1354.7 431.3L1356.2 432.5L1357.8 434.2L1360.1 435.7L1361.5 434.9L1361.3 432.1L1360.3 429.5L1358.6 427.0L1356.2 425.1L1353.7 423.8L1351.4 422.7L1349.6 421.8L1347.7 420.9L1345.8 420.1L1343.9 419.3L1342.6 419.0L1341.2 419.2L1340.0 419.9L1339.3 421.1L1339.0 422.4L1339.2 423.8L1339.9 425.0Z" fill="#b2b2b2"/>
<path d="M298.0 456.5L299.4 454.7L300.7 452.9L302.1 451.1L303.4 449.3L304.8 447.5L306.3 445.7L307.6 444.1L309.0 442.4L310.4 440.8L311.8 439.1L313.3 437.4L314.7 435.8L316.1 434.3L317.7 432.5L319.4 430.9L321.2 429.2L322.9 427.5L324.6 425.9L326.1 424.3L327.7 422.5L329.2 420.9L330.7 419.2L332.1 417.3L333.4 415.0L334.5 412.5L335.2 410.0L335.8 407.4L336.3 404.9L336.6 402.4L336.9 399.9L337.1 397.4L337.2 394.9L337.1 392.4L336.3 389.8L334.7 389.5L333.1 391.7L332.2 394.1L331.4 396.4L330.7 398.7L330.0 400.9L329.3 403.3L328.7 405.7L328.0 407.9L327.3 409.9L326.6 411.6L325.7 413.1L324.8 414.5L323.6 415.8L322.2 417.4L320.6 419.1L319.1 420.6L317.6 422.1L315.9 423.7L314.1 425.4L312.3 427.2L310.6 429.1L309.1 430.7L307.6 432.4L306.1 434.1L304.6 435.9L303.2 437.6L301.7 439.3L300.4 440.9L298.9 442.8L297.4 444.7L296.0 446.5L294.7 448.3L293.3 450.1L292.0 451.9L291.3 453.2L291.2 454.7L291.7 456.1L292.7 457.2L294.0 457.8L295.5 457.9L296.9 457.5Z" fill="#b2b2b2"/>
<path d="M331.1 417.1L333.2 417.0L335.3 416.8L337.4 416.7L339.5 416.5L341.5 416.4L343.5 416.3L345.9 416.2L348.3 416.1L350.5 416.0L352.6 416.1L354.4 416.3L356.3 416.6L358.2 417.1L360.0 417.7L361.8 418.3L363.3 418.9L365.1 419.8L366.6 420.7L368.0 421.6L369.2 422.5L370.4 423.8L371.6 425.3L373.4 426.7L374.9 426.0L375.1 423.7L374.6 421.5L373.5 419.1L372.2 417.4L370.6 415.7L368.8 414.1L366.7 412.7L364.7 411.7L362.7 410.7L360.4 409.9L358.0 409.2L355.6 408.7L353.0 408.5L350.5 408.4L348.0 408.5L345.6 408.6L343.2 408.7L341.1 408.8L339.0 408.9L336.9 409.1L334.7 409.2L332.6 409.4L330.6 409.5L329.1 409.9L328.0 410.8L327.2 412.1L327.0 413.6L327.4 415.0L328.3 416.2L329.6 416.9Z" fill="#b2b2b2"/>
<path d="M341.3 447.6L339.1 449.1L337.6 450.8L336.2 452.6L334.9 454.6L333.5 456.7L332.3 458.6L331.0 460.7L329.7 462.9L328.5 465.2L327.3 467.7L326.2 470.2L325.4 472.3L324.6 474.5L323.8 476.7L323.1 479.1L322.5 481.5L322.0 483.9L321.8 486.4L321.7 488.8L321.8 491.3L322.0 493.8L322.4 496.2L323.0 498.7L323.7 501.1L324.7 503.4L325.9 505.6L327.3 507.7L328.8 509.7L330.5 511.5L332.2 513.3L334.0 514.9L335.7 516.4L337.7 518.0L339.7 519.4L341.7 520.6L343.8 521.8L345.8 522.9L347.7 524.0L349.6 525.1L351.5 526.3L353.5 527.5L355.5 528.7L357.4 529.9L359.3 531.0L361.0 532.2L362.7 533.3L364.5 534.6L366.2 535.9L367.9 537.2L369.4 538.5L370.7 539.7L372.0 541.1L373.4 542.7L374.8 544.5L376.0 546.3L377.0 548.1L378.0 550.0L378.8 552.0L379.5 554.5L380.1 557.0L380.7 559.3L381.0 560.9L388.2 558.3L387.0 557.3L385.4 556.8L383.9 556.9L382.5 557.7L381.5 558.9L381.0 560.4L381.1 562.0L381.8 563.4L389.3 561.1L389.0 559.1L388.5 557.4L388.0 555.1L387.3 552.3L386.4 549.4L385.4 546.7L384.2 544.3L382.8 542.0L381.4 539.8L379.8 537.7L378.0 535.6L376.4 534.0L374.7 532.4L373.0 530.9L371.2 529.5L369.3 528.1L367.3 526.7L365.5 525.4L363.6 524.2L361.6 523.0L359.6 521.8L357.7 520.6L355.7 519.4L353.8 518.2L351.8 517.0L349.8 515.9L347.8 514.8L345.9 513.7L344.1 512.6L342.5 511.4L340.9 510.2L339.4 508.9L337.8 507.4L336.4 506.0L335.0 504.5L333.8 503.0L332.8 501.4L332.0 499.9L331.3 498.3L330.8 496.6L330.4 494.7L330.1 492.8L329.9 490.8L329.8 488.8L329.9 486.9L330.1 485.1L330.4 483.2L330.9 481.2L331.5 479.2L332.2 477.2L333.0 475.1L333.8 473.2L334.7 471.0L335.7 468.8L336.8 466.6L337.9 464.3L338.9 462.1L339.8 460.0L340.7 457.6L341.5 455.4L342.2 453.2L342.8 451.0L342.7 448.4Z" fill="#b2b2b2"/>
<path d="M572.2 464.3L569.5 463.9L567.2 464.3L565.2 464.6L562.9 464.7L561.3 464.6L559.4 464.4L557.4 464.2L555.3 463.8L553.1 463.5L550.8 463.0L548.8 462.6L546.7 462.0L544.4 461.4L542.1 460.7L539.7 459.9L537.2 459.0L534.6 458.2L532.6 457.5L530.6 456.8L528.5 456.0L526.4 455.2L524.2 454.4L521.9 453.6L519.6 452.7L517.2 451.8L514.7 450.9L512.7 450.1L510.5 449.3L508.3 448.4L506.1 447.6L503.8 446.7L501.4 445.8L499.1 444.9L496.7 444.0L494.3 443.1L492.0 442.3L489.6 441.5L487.3 440.7L485.0 440.0L482.7 439.3L480.4 438.5L478.1 437.9L475.8 437.2L473.5 436.5L471.2 435.9L468.9 435.2L466.6 434.6L464.3 434.1L462.0 433.5L459.7 432.9L457.3 432.4L454.9 431.8L452.5 431.3L450.2 430.8L447.8 430.4L445.5 429.9L443.2 429.6L441.0 429.2L438.8 429.0L436.2 428.7L433.7 428.5L431.3 428.4L429.0 428.4L426.7 428.4L424.4 428.4L422.2 428.6L420.0 428.7L417.8 429.0L415.1 429.4L412.4 429.8L409.7 430.4L407.1 431.1L404.6 431.9L402.2 432.8L399.8 433.9L397.4 435.2L395.1 436.8L392.9 438.5L391.0 440.3L389.2 442.2L387.6 444.3L386.1 446.5L384.7 448.9L383.6 451.4L382.6 454.0L381.9 456.7L381.3 459.4L381.1 461.8L381.0 464.2L381.1 466.6L381.3 469.0L381.7 471.4L382.2 473.8L382.8 476.1L383.5 478.3L384.3 480.6L385.2 482.8L386.2 485.0L387.4 487.2L388.6 489.3L390.0 491.4L391.3 493.3L392.7 495.1L394.2 496.9L395.7 498.7L397.3 500.4L398.9 502.1L400.5 503.8L402.2 505.4L403.8 507.0L405.5 508.6L407.2 510.1L408.9 511.6L410.7 513.0L412.4 514.5L414.1 515.9L415.7 517.3L417.6 518.9L419.5 520.4L421.4 521.9L423.3 523.4L425.3 525.0L427.3 526.5L429.3 527.9L431.1 529.2L432.9 530.5L434.8 531.8L436.7 533.1L438.6 534.4L440.6 535.7L442.6 536.9L444.6 538.1L446.6 539.3L448.7 540.5L450.8 541.7L453.0 542.9L455.2 544.0L457.4 545.1L459.6 546.1L461.8 547.1L464.3 548.1L466.8 549.0L469.3 549.9L471.8 550.6L474.4 551.3L476.9 551.9L479.4 552.3L481.9 552.6L484.3 552.8L486.7 552.8L489.0 552.7L491.3 552.6L493.5 552.3L495.7 552.0L498.3 551.5L500.8 550.8L503.1 550.0L505.4 549.1L507.6 548.1L509.7 547.1L511.9 546.1L514.0 544.9L516.0 543.7L518.0 542.3L519.9 540.9L521.5 538.7L520.8 537.3L518.2 537.0L515.8 537.5L513.5 538.2L511.3 538.8L509.1 539.5L507.0 540.2L504.8 540.9L502.6 541.6L500.5 542.3L498.4 543.0L496.4 543.6L494.3 544.0L492.4 544.3L490.5 544.5L488.6 544.7L486.6 544.7L484.6 544.7L482.6 544.6L480.6 544.3L478.5 544.0L476.3 543.5L474.1 542.9L471.8 542.2L469.5 541.4L467.2 540.5L464.9 539.6L462.9 538.7L460.9 537.8L458.8 536.8L456.8 535.7L454.7 534.6L452.7 533.5L450.7 532.3L448.7 531.2L446.8 530.0L444.9 528.9L443.1 527.6L441.2 526.4L439.4 525.2L437.6 523.9L435.8 522.7L434.0 521.4L432.1 520.0L430.2 518.5L428.3 517.1L426.5 515.6L424.7 514.1L422.8 512.6L420.9 511.0L419.2 509.7L417.6 508.3L415.9 506.9L414.2 505.4L412.6 504.0L410.9 502.6L409.4 501.1L407.8 499.6L406.3 498.1L404.8 496.5L403.2 494.9L401.8 493.3L400.4 491.7L399.0 490.1L397.8 488.5L396.7 486.9L395.5 485.1L394.4 483.2L393.5 481.4L392.6 479.5L391.8 477.7L391.1 475.8L390.6 473.9L390.1 472.0L389.7 470.0L389.4 468.0L389.2 466.1L389.1 464.2L389.2 462.3L389.3 460.6L389.7 458.6L390.3 456.5L391.1 454.5L392.0 452.6L393.0 450.7L394.1 449.0L395.4 447.5L396.7 446.0L398.2 444.6L399.8 443.3L401.6 442.2L403.5 441.1L405.3 440.3L407.2 439.6L409.4 438.9L411.6 438.3L413.9 437.8L416.4 437.4L418.8 437.0L420.8 436.8L422.7 436.6L424.7 436.5L426.8 436.5L428.9 436.5L431.0 436.5L433.2 436.6L435.5 436.8L437.9 437.0L439.9 437.3L442.0 437.6L444.1 437.9L446.3 438.3L448.6 438.8L450.8 439.2L453.2 439.8L455.5 440.3L457.8 440.8L460.1 441.4L462.4 441.9L464.6 442.5L466.8 443.1L469.1 443.7L471.3 444.3L473.6 445.0L475.8 445.6L478.1 446.3L480.3 447.0L482.6 447.7L484.8 448.4L487.0 449.2L489.3 449.9L491.6 450.7L493.9 451.6L496.2 452.5L498.5 453.3L500.9 454.2L503.2 455.1L505.4 456.0L507.6 456.8L509.8 457.7L511.9 458.5L514.4 459.4L516.8 460.3L519.1 461.1L521.3 462.0L523.5 462.8L525.7 463.6L527.8 464.4L530.0 465.1L532.0 465.8L534.6 466.7L537.2 467.6L539.7 468.4L542.1 469.1L544.5 469.8L546.9 470.5L549.2 471.0L551.8 471.4L554.4 471.7L556.8 471.8L559.2 471.8L561.5 471.7L563.8 471.3L566.7 470.5L569.1 469.2L571.1 467.8L572.8 465.7Z" fill="#b2b2b2"/>
<path d="M387.0 483.9L384.9 483.2L382.8 482.5L380.5 481.7L378.2 481.0L375.7 480.4L373.3 480.0L370.8 479.7L368.2 479.6L365.6 479.7L363.0 480.0L360.4 480.6L358.0 481.4L355.6 482.4L353.4 483.6L351.5 485.4L351.9 486.9L354.6 487.5L357.0 487.3L359.4 487.0L361.6 486.8L363.6 486.7L365.7 486.8L367.8 486.9L370.0 487.2L372.2 487.5L374.3 487.9L376.3 488.3L378.2 488.9L380.3 489.6L382.5 490.4L384.6 491.1L386.1 491.3L387.5 490.9L388.7 490.0L389.4 488.7L389.6 487.2L389.2 485.8L388.3 484.6Z" fill="#b2b2b2"/>
<path d="M425.6 529.6L424.8 531.8L424.0 534.1L423.2 536.8L422.9 539.9L423.1 542.7L423.6 545.5L424.3 548.1L424.9 550.5L425.5 552.6L426.1 555.0L426.6 557.5L427.4 559.8L429.4 563.0L432.7 564.4L432.0 562.4L431.5 563.9L430.7 565.4L429.9 566.3L428.9 567.0L427.2 567.7L425.1 568.3L422.8 568.7L421.0 568.9L418.9 568.9L416.7 568.8L414.5 568.6L412.4 568.3L410.4 567.8L408.3 567.1L406.1 566.4L403.8 565.5L401.5 564.5L399.4 563.6L397.3 562.6L395.1 561.6L392.8 560.5L390.4 559.4L388.0 558.5L385.8 557.6L383.5 556.8L381.1 556.0L378.8 555.3L376.4 554.7L373.9 554.2L371.5 554.0L369.0 553.8L366.6 553.8L364.3 553.8L361.9 554.0L359.6 554.2L357.2 554.5L354.8 555.0L352.5 555.5L350.2 556.1L348.0 556.8L345.8 557.5L343.6 558.2L341.4 559.1L339.3 560.0L337.3 561.0L335.2 562.1L333.4 563.9L333.9 565.4L336.4 565.9L338.7 565.7L341.0 565.4L343.2 565.0L345.4 564.6L347.5 564.2L349.8 563.8L352.0 563.3L354.2 562.9L356.3 562.4L358.4 562.1L360.4 561.8L362.5 561.6L364.6 561.4L366.7 561.4L368.7 561.4L370.8 561.5L372.8 561.8L374.8 562.1L376.8 562.6L378.9 563.2L381.0 564.0L383.1 564.7L385.3 565.5L387.4 566.4L389.6 567.4L391.8 568.4L394.1 569.5L396.3 570.6L398.5 571.5L401.0 572.5L403.4 573.5L405.9 574.3L408.4 575.1L410.9 575.7L413.5 576.2L416.2 576.4L418.8 576.5L421.4 576.5L423.9 576.3L426.8 575.7L429.7 574.9L432.5 573.7L435.1 572.0L437.1 569.5L438.5 566.8L439.4 564.1L439.0 559.6L435.5 557.4L434.0 557.0L434.0 555.5L433.4 553.3L432.9 550.7L432.3 548.5L431.6 546.2L431.0 543.8L430.6 541.7L430.5 540.1L430.7 538.3L431.2 536.5L432.0 534.3L432.8 532.0L433.0 530.6L432.6 529.1L431.7 528.0L430.4 527.2L428.9 527.0L427.5 527.4L426.3 528.3Z" fill="#b2b2b2"/>
<path d="M401.7 572.8L400.5 574.8L399.3 576.9L398.0 579.1L396.9 581.3L395.9 583.5L394.9 586.3L394.3 588.9L393.9 591.4L393.7 593.8L393.8 596.3L394.3 598.3L395.5 600.0L397.1 600.0L398.1 598.1L398.5 596.4L399.0 594.6L399.7 592.8L400.5 590.8L401.4 588.6L402.5 586.5L403.4 584.7L404.6 582.8L405.8 580.8L407.1 578.7L408.3 576.6L408.8 575.2L408.7 573.7L408.0 572.4L406.9 571.4L405.5 570.9L404.0 571.0L402.7 571.6Z" fill="#b2b2b2"/>
<path d="M494.1 552.5L495.7 554.1L497.3 555.7L498.5 557.0L499.4 558.2L500.0 559.5L500.4 561.3L500.9 563.5L501.5 565.7L502.6 567.9L503.8 569.7L505.6 571.1L507.1 570.5L507.4 568.3L507.1 566.3L506.8 564.3L506.7 562.6L506.7 560.4L506.4 557.9L505.6 555.2L504.1 552.7L502.4 550.8L500.8 549.1L499.2 547.5L498.1 546.8L496.7 546.5L495.4 546.7L494.2 547.4L493.4 548.6L493.1 549.9L493.4 551.3Z" fill="#b2b2b2"/>
<path d="M423.3 471.6L425.6 473.1L428.0 473.7L430.2 474.1L432.3 474.5L434.4 475.0L436.4 475.7L438.5 476.4L440.6 477.2L442.8 478.0L444.9 478.9L446.7 479.8L448.5 480.7L450.3 481.8L452.2 482.9L454.1 484.1L456.0 485.3L457.9 486.5L459.8 487.9L461.7 489.3L463.7 490.7L465.6 492.2L467.5 493.5L469.7 495.0L471.7 496.4L473.7 497.7L475.7 498.9L477.6 500.2L479.5 501.5L481.4 502.9L483.5 504.4L485.7 505.8L488.0 507.2L490.4 508.3L492.8 509.3L495.3 510.3L498.0 511.1L500.8 511.7L503.0 512.1L505.2 512.3L507.5 512.5L509.8 512.6L512.1 512.7L514.4 512.7L516.8 512.6L519.2 512.5L521.7 512.3L524.1 512.1L526.6 511.8L529.1 511.5L531.5 511.2L533.9 510.9L536.3 510.6L538.7 510.3L541.1 509.9L543.5 509.5L545.9 509.2L548.3 508.8L550.6 508.4L553.0 508.1L555.4 507.7L557.8 507.3L560.2 507.0L562.5 506.6L564.9 506.3L567.3 505.9L569.6 505.6L572.0 505.3L574.4 505.0L576.7 504.7L579.0 504.4L581.4 504.2L583.7 504.0L586.0 503.8L588.5 503.6L591.0 503.5L593.4 503.4L595.8 503.4L597.9 503.4L599.8 503.5L602.0 503.6L603.8 503.8L605.4 504.2L607.1 504.5L608.9 505.0L610.8 505.5L612.7 506.1L614.6 506.7L616.5 507.5L618.5 508.2L620.4 508.9L622.3 509.7L624.3 510.6L626.3 511.4L628.3 512.3L630.0 512.6L631.6 512.3L633.0 511.4L634.0 510.0L634.3 508.4L634.0 506.7L633.1 505.3L631.7 504.4L629.7 503.5L627.7 502.7L625.7 501.8L623.6 501.0L621.5 500.1L619.5 499.4L617.4 498.6L615.3 497.9L613.2 497.3L611.1 496.7L609.1 496.2L607.2 495.7L605.1 495.3L602.8 495.1L600.2 494.9L598.0 494.8L595.7 494.8L593.2 494.9L590.7 494.9L588.1 495.1L585.5 495.2L583.0 495.4L580.6 495.6L578.1 495.8L575.7 496.1L573.3 496.4L570.9 496.8L568.5 497.1L566.1 497.4L563.7 497.7L561.3 498.1L558.9 498.5L556.5 498.8L554.1 499.2L551.7 499.6L549.4 499.9L547.0 500.3L544.6 500.7L542.2 501.0L539.8 501.4L537.5 501.8L535.1 502.1L532.8 502.4L530.4 502.7L528.0 503.0L525.6 503.3L523.3 503.6L520.9 503.8L518.7 503.9L516.5 504.0L514.4 504.1L512.2 504.1L510.1 504.0L508.0 503.9L506.1 503.8L504.2 503.6L502.5 503.3L500.2 502.8L498.0 502.1L496.0 501.4L494.0 500.5L492.0 499.5L490.1 498.5L488.3 497.3L486.4 496.0L484.5 494.5L482.4 493.1L480.4 491.8L478.4 490.5L476.5 489.2L474.5 487.9L472.5 486.5L470.7 485.2L468.8 483.8L466.8 482.4L464.8 480.9L462.7 479.4L460.7 478.1L458.7 476.8L456.7 475.5L454.7 474.3L452.6 473.2L450.5 472.1L448.4 471.1L445.9 470.0L443.4 469.2L440.8 468.5L438.2 468.0L435.6 467.6L433.0 467.5L430.4 467.7L428.0 468.1L425.7 468.7L423.4 470.0Z" fill="#b2b2b2"/>
<path d="M489.6 466.0L487.6 467.6L486.2 469.4L485.0 471.4L483.9 473.7L483.2 476.3L483.0 479.1L483.1 481.8L483.4 484.5L483.9 487.0L484.4 489.3L484.9 491.5L485.6 493.8L486.3 496.1L487.1 498.2L488.1 500.3L489.6 502.5L491.1 504.3L492.5 505.6L493.7 507.0L495.0 507.9L496.6 508.2L498.1 507.9L499.5 507.1L500.4 505.8L500.7 504.3L500.4 502.7L499.6 501.4L498.3 500.0L497.0 498.7L496.0 497.6L495.2 496.4L494.6 495.0L494.0 493.4L493.3 491.5L492.8 489.5L492.3 487.4L491.7 485.2L491.2 483.0L490.7 480.8L490.3 478.8L490.1 477.0L490.2 475.3L490.5 473.5L491.0 471.4L491.4 469.2L491.1 466.6Z" fill="#b2b2b2"/>
<path d="M558.5 508.3L559.9 510.1L561.3 511.9L562.6 513.6L563.8 515.2L564.8 516.9L565.7 518.9L566.7 521.0L567.5 523.1L568.1 525.1L568.5 527.3L568.7 529.0L568.7 530.9L568.6 533.0L568.4 535.0L568.1 537.1L567.7 539.1L567.2 541.1L566.4 543.3L565.6 545.6L564.6 547.8L563.7 549.9L562.9 551.8L561.9 554.4L561.2 555.9L560.0 557.7L559.0 559.0L557.7 560.5L556.3 562.1L554.7 563.8L553.0 565.5L551.5 566.9L549.9 568.5L548.3 570.0L546.7 571.5L545.0 572.9L543.3 574.3L541.6 575.7L539.8 577.1L538.0 578.3L536.1 579.6L534.3 580.7L532.3 581.7L530.6 582.5L528.8 583.3L527.0 584.0L525.1 584.7L523.1 585.3L521.1 585.9L519.1 586.4L517.0 586.9L514.8 587.2L512.5 587.6L510.1 587.9L507.7 588.2L505.2 588.5L502.8 588.8L500.4 589.1L498.0 589.4L495.6 589.7L493.1 590.0L490.6 590.3L488.2 590.6L485.9 591.0L483.4 591.5L480.9 592.1L478.5 592.7L476.2 593.3L473.9 594.1L471.7 595.0L469.2 596.2L466.9 597.7L464.7 599.3L462.8 600.9L461.1 602.7L459.5 604.9L458.5 607.2L457.9 609.2L458.0 611.6L459.4 612.4L461.5 611.2L462.8 609.7L464.1 608.5L465.6 607.3L467.1 606.4L468.8 605.3L470.8 604.2L472.8 603.3L474.9 602.4L476.7 601.7L478.6 601.1L480.6 600.5L482.8 600.0L485.0 599.5L487.4 599.0L489.5 598.6L491.7 598.3L494.1 598.0L496.5 597.7L498.9 597.5L501.4 597.2L503.9 596.8L506.2 596.5L508.7 596.2L511.1 595.9L513.6 595.6L516.1 595.2L518.5 594.8L520.9 594.3L523.2 593.7L525.5 593.0L527.7 592.4L529.8 591.6L531.9 590.8L534.0 589.9L536.0 588.9L538.3 587.7L540.5 586.4L542.6 585.0L544.6 583.6L546.5 582.1L548.4 580.7L550.2 579.1L552.1 577.5L553.9 575.9L555.6 574.3L557.2 572.7L558.7 571.2L560.5 569.4L562.2 567.6L563.8 565.9L565.3 564.1L566.7 562.3L568.2 559.9L569.3 557.6L570.4 554.9L571.2 553.1L572.1 551.0L573.1 548.6L574.1 546.1L574.9 543.5L575.6 540.9L576.1 538.4L576.5 536.0L576.7 533.5L576.8 531.0L576.7 528.6L576.5 526.1L576.0 523.2L575.2 520.5L574.2 517.9L573.1 515.4L571.9 513.1L570.6 510.8L569.1 508.7L567.6 506.9L566.2 505.1L564.9 503.4L563.7 502.3L562.2 501.8L560.6 501.9L559.2 502.6L558.2 503.8L557.7 505.3L557.8 506.9Z" fill="#b2b2b2"/>
<path d="M473.3 406.1L475.4 407.6L477.6 408.3L479.7 408.8L481.8 409.2L483.9 409.7L486.1 410.2L488.0 410.7L490.0 411.2L492.0 411.8L494.1 412.3L496.2 412.9L498.3 413.5L500.4 414.1L502.4 414.8L504.5 415.5L506.5 416.3L508.6 417.1L510.7 418.0L512.9 418.9L515.0 419.8L517.1 420.7L519.2 421.6L521.3 422.6L523.5 423.5L525.6 424.5L527.8 425.5L529.9 426.4L532.1 427.4L534.2 428.3L536.3 429.2L538.4 430.2L540.5 431.1L542.7 432.1L544.9 433.1L547.0 434.0L549.0 434.9L551.2 435.8L553.3 436.7L555.4 437.7L557.4 438.6L559.5 439.6L561.4 440.5L563.6 441.6L565.7 442.8L567.9 443.9L570.0 445.1L572.1 446.3L574.1 447.5L576.1 448.7L578.2 449.9L580.2 451.1L582.2 452.3L584.1 453.5L585.9 454.7L587.7 455.8L589.2 456.9L591.0 458.2L592.6 459.4L594.0 460.6L595.6 461.9L597.3 463.3L598.9 464.6L600.6 465.9L602.3 467.3L604.0 468.7L605.7 470.0L607.2 471.3L609.0 472.8L610.7 474.3L612.4 475.9L614.4 477.5L616.6 479.3L618.4 480.6L620.3 481.9L622.4 483.3L624.5 484.7L626.5 486.0L628.5 487.2L630.3 488.4L632.6 489.7L634.7 490.9L636.7 491.9L638.6 492.8L640.5 493.8L642.1 494.3L643.8 494.1L645.3 493.3L646.3 492.0L646.8 490.4L646.6 488.7L645.8 487.2L644.5 486.2L642.5 485.2L640.6 484.2L638.7 483.2L636.8 482.2L634.7 481.0L633.0 479.9L631.1 478.7L629.1 477.5L627.1 476.2L625.2 474.8L623.4 473.6L621.8 472.4L619.8 470.9L618.1 469.4L616.4 467.9L614.7 466.3L612.8 464.7L611.1 463.3L609.4 461.9L607.6 460.6L605.9 459.2L604.3 457.9L602.7 456.7L601.1 455.3L599.6 454.0L598.0 452.7L596.2 451.3L594.1 449.8L592.4 448.7L590.6 447.5L588.7 446.2L586.7 445.0L584.6 443.8L582.6 442.5L580.5 441.3L578.5 440.1L576.4 438.9L574.2 437.6L572.1 436.4L569.8 435.2L567.6 434.0L565.3 432.8L563.2 431.8L561.0 430.8L558.9 429.8L556.7 428.9L554.6 427.9L552.5 427.0L550.4 426.1L548.4 425.2L546.2 424.2L544.0 423.3L541.9 422.3L539.8 421.4L537.6 420.4L535.5 419.5L533.4 418.6L531.3 417.6L529.2 416.7L527.0 415.7L524.9 414.7L522.7 413.7L520.5 412.8L518.3 411.9L516.2 411.0L514.0 410.1L511.9 409.2L509.7 408.3L507.4 407.5L505.2 406.6L503.0 405.9L500.7 405.2L498.5 404.6L496.2 404.0L494.0 403.5L491.7 403.0L489.5 402.7L487.3 402.5L484.8 402.3L482.4 402.4L480.1 402.5L477.8 402.8L475.7 403.3L473.4 404.5Z" fill="#b2b2b2"/>
<path d="M510.0 386.2L508.4 388.4L507.5 390.7L506.8 393.3L506.5 396.1L506.8 399.0L507.5 401.7L508.5 404.4L509.8 406.9L511.1 409.0L512.7 410.9L514.2 412.6L515.7 414.2L517.2 415.8L518.3 416.7L519.8 417.1L521.2 416.9L522.5 416.2L523.4 415.0L523.8 413.6L523.6 412.1L522.8 410.8L521.4 409.1L519.8 407.5L518.4 405.9L517.2 404.4L516.2 403.1L515.1 401.2L514.1 399.3L513.4 397.4L512.8 395.5L512.5 393.7L512.5 391.5L512.4 389.1L511.6 386.5Z" fill="#b2b2b2"/>
<path d="M307.8 540.1L309.2 538.6L310.6 537.1L311.8 535.6L312.9 534.4L314.1 533.3L315.4 532.2L316.8 530.9L317.9 528.7L317.1 527.3L314.8 526.9L312.8 527.2L310.8 527.9L308.7 528.9L306.8 530.3L305.1 531.8L303.7 533.4L302.2 534.9L301.5 536.1L301.2 537.6L301.5 539.0L302.4 540.3L303.6 541.0L305.1 541.3L306.5 541.0Z" fill="#b2b2b2"/>
<path d="M643.3 432.8L642.4 435.0L641.5 437.2L640.6 439.3L639.9 441.2L639.0 443.1L638.1 445.0L637.1 447.2L636.4 449.7L636.5 452.6L637.1 455.1L638.5 457.4L640.1 457.3L641.3 454.9L641.6 452.8L642.2 451.0L642.9 449.9L644.0 448.3L645.2 446.5L646.5 444.5L647.6 442.3L648.5 440.1L649.4 438.0L650.3 435.8L650.6 434.4L650.4 432.9L649.5 431.7L648.3 430.8L646.9 430.5L645.4 430.8L644.2 431.6Z" fill="#b2b2b2"/>
<path d="M789.5 404.4L787.4 404.6L785.6 405.3L783.8 406.4L781.8 407.9L780.2 409.6L778.5 411.5L776.8 413.6L775.2 415.9L773.9 418.3L772.8 420.8L771.9 423.3L771.1 425.9L770.6 428.5L770.1 431.2L769.9 433.9L769.9 436.6L770.0 439.2L770.2 441.7L770.5 444.1L771.2 446.8L772.1 449.0L773.0 450.8L773.8 452.5L774.7 453.8L776.1 454.6L777.6 454.9L779.2 454.5L780.5 453.6L781.3 452.2L781.5 450.7L781.2 449.1L780.3 447.3L779.5 445.7L778.9 444.2L778.5 442.5L778.2 440.8L778.0 438.7L778.0 436.5L778.0 434.3L778.2 432.2L778.5 430.1L779.0 427.9L779.6 425.8L780.3 423.7L781.1 421.7L782.0 419.7L783.1 417.7L784.3 415.7L785.5 413.7L786.5 412.1L787.6 410.4L788.6 409.1L789.8 407.7L790.5 405.6Z" fill="#b2b2b2"/>
<path d="M792.5 486.4L791.5 489.0L791.4 491.8L792.4 495.0L793.9 497.0L795.5 498.7L797.5 500.3L799.6 501.7L802.0 502.9L804.5 503.7L807.0 504.3L809.7 504.6L812.3 504.8L814.9 504.9L817.1 504.9L819.4 504.9L821.8 504.9L824.2 504.7L826.7 504.4L829.2 504.0L831.7 503.3L834.1 502.5L836.4 501.6L838.7 500.7L840.9 499.7L843.2 498.7L845.3 497.8L847.5 496.9L849.7 495.9L851.8 494.9L854.0 493.9L856.1 493.0L858.2 492.1L860.4 491.2L862.5 490.3L864.6 489.4L866.7 488.6L868.8 487.8L870.9 487.0L872.9 486.4L875.0 485.7L877.2 485.0L879.3 484.4L881.5 483.9L883.5 483.4L885.4 483.0L887.2 482.7L889.6 482.4L891.8 482.2L893.8 482.2L895.7 482.3L897.5 482.6L899.2 483.1L900.9 483.7L902.6 484.6L904.3 485.5L905.9 486.6L907.5 487.9L909.1 489.5L910.8 491.2L912.3 492.9L913.6 494.3L914.7 495.7L915.6 497.1L917.3 498.8L919.1 500.3L921.0 501.6L923.2 503.0L925.5 504.3L927.5 505.5L929.6 506.6L931.9 507.8L934.3 509.0L936.7 510.0L938.6 510.9L940.6 511.9L942.8 512.9L945.2 513.9L947.9 514.6L950.8 514.9L953.7 514.6L956.5 513.9L959.1 513.1L961.5 512.1L963.8 511.3L966.1 510.6L968.2 510.1L970.4 509.6L972.8 509.1L975.2 508.6L977.7 508.0L980.1 507.5L982.6 506.9L985.0 506.4L987.4 505.8L989.8 505.2L992.2 504.6L994.6 504.0L997.1 503.3L999.6 502.5L1001.8 501.8L1004.0 500.9L1006.1 500.1L1008.2 499.2L1010.3 498.3L1012.4 497.5L1014.5 496.6L1016.5 495.8L1017.8 494.9L1018.7 493.6L1019.0 492.0L1018.8 490.5L1017.9 489.2L1016.6 488.3L1015.0 488.0L1013.5 488.2L1011.4 489.1L1009.3 490.0L1007.2 490.9L1005.1 491.7L1003.1 492.6L1001.0 493.4L999.0 494.1L997.1 494.8L994.8 495.5L992.5 496.2L990.2 496.8L987.9 497.4L985.5 497.9L983.1 498.5L980.7 499.1L978.4 499.6L976.0 500.1L973.6 500.6L971.1 501.1L968.7 501.6L966.3 502.2L963.9 502.8L961.2 503.6L958.6 504.6L956.3 505.5L954.2 506.2L952.4 506.6L950.9 506.8L949.4 506.6L947.8 506.2L946.0 505.5L944.1 504.6L942.0 503.6L940.0 502.6L937.7 501.6L935.5 500.6L933.4 499.5L931.4 498.4L929.5 497.3L927.4 496.1L925.5 494.9L923.9 493.8L922.7 492.8L921.9 492.0L921.3 490.9L919.8 489.0L918.4 487.5L916.8 485.7L914.9 483.8L912.9 481.8L910.7 480.1L908.6 478.6L906.4 477.4L904.1 476.3L901.7 475.4L899.2 474.7L896.6 474.3L894.1 474.1L891.5 474.1L888.8 474.3L886.1 474.7L884.0 475.0L881.7 475.5L879.5 476.0L877.2 476.6L874.9 477.3L872.6 477.9L870.4 478.6L868.2 479.4L866.0 480.2L863.8 481.0L861.6 481.9L859.4 482.8L857.3 483.7L855.1 484.6L852.9 485.5L850.7 486.5L848.5 487.5L846.3 488.5L844.2 489.5L842.1 490.4L840.1 491.3L837.8 492.3L835.5 493.2L833.4 494.1L831.3 494.9L829.4 495.5L827.5 496.0L825.5 496.4L823.4 496.6L821.4 496.8L819.3 496.8L817.2 496.8L815.1 496.8L812.7 496.7L810.4 496.5L808.3 496.3L806.4 495.9L804.7 495.5L803.1 494.9L801.4 494.1L799.8 493.2L798.5 492.3L797.6 491.7L796.5 490.3L795.8 488.4L794.1 486.2Z" fill="#b2b2b2"/>
<path d="M826.7 501.4L825.6 503.4L824.3 505.4L823.1 507.4L821.9 509.5L820.8 511.6L819.8 513.6L818.8 515.7L817.9 517.9L817.2 520.4L816.8 523.0L816.9 525.6L817.5 527.9L818.4 530.1L819.3 532.0L820.9 533.8L822.5 533.5L823.2 531.2L823.1 529.0L823.0 526.9L823.0 525.2L823.2 523.7L823.7 522.3L824.4 520.7L825.4 518.9L826.5 517.1L827.5 515.1L828.6 513.2L829.7 511.3L830.8 509.3L832.1 507.3L833.3 505.3L833.8 503.9L833.7 502.4L833.0 501.1L831.9 500.1L830.6 499.6L829.1 499.6L827.7 500.3Z" fill="#b2b2b2"/>
<path d="M744.2 458.1L742.7 459.9L741.2 461.7L739.5 463.8L738.0 466.1L736.9 468.1L735.8 470.3L734.8 472.5L734.0 474.9L733.3 477.4L732.8 479.9L732.5 482.5L732.4 485.2L732.5 487.9L732.7 490.6L733.2 493.2L733.8 495.9L734.7 498.6L735.8 501.3L737.1 503.9L738.6 506.0L740.2 507.9L741.8 509.8L743.6 511.5L745.3 513.1L747.1 514.8L748.6 516.3L750.3 517.8L752.1 519.2L753.8 520.7L755.5 522.1L757.2 523.5L758.9 524.9L760.6 526.4L762.2 527.8L763.9 529.2L765.6 530.5L767.2 531.9L768.8 533.4L770.4 534.8L772.1 536.4L773.7 538.0L775.4 539.6L777.1 541.3L778.7 542.9L780.3 544.6L781.8 546.3L783.3 547.9L784.7 549.5L786.1 551.1L787.5 552.8L788.9 554.4L790.3 556.1L791.7 557.8L793.1 559.5L794.6 561.1L796.0 562.9L797.4 564.6L798.9 566.3L800.4 567.9L801.8 569.6L803.6 571.5L805.5 573.5L807.4 575.4L809.2 577.1L810.8 578.6L812.9 580.4L814.8 581.0L813.4 579.4L813.5 582.1L813.6 584.8L813.9 587.7L814.3 590.4L814.9 592.9L815.7 595.3L816.6 597.5L817.7 599.6L819.6 601.5L821.2 601.1L822.0 598.5L822.0 596.2L821.9 593.9L821.8 591.7L821.7 589.6L821.8 587.3L821.9 584.7L822.0 582.0L822.0 579.5L821.6 576.6L818.9 573.4L817.1 572.9L815.2 571.0L813.5 569.3L811.7 567.4L809.9 565.6L808.2 563.7L806.8 562.2L805.4 560.6L804.0 559.0L802.6 557.3L801.2 555.6L799.7 553.9L798.3 552.2L796.9 550.6L795.5 548.9L794.1 547.2L792.7 545.6L791.2 543.9L789.7 542.1L788.2 540.4L786.5 538.7L784.9 537.0L783.2 535.2L781.4 533.5L779.7 531.8L778.0 530.1L776.3 528.5L774.5 526.9L772.8 525.4L771.1 524.0L769.4 522.6L767.8 521.2L766.1 519.8L764.4 518.4L762.7 516.9L761.0 515.5L759.3 514.1L757.6 512.7L756.0 511.3L754.4 509.9L752.9 508.5L751.2 506.9L749.6 505.3L748.0 503.8L746.6 502.3L745.5 500.9L744.5 499.5L743.6 497.6L742.8 495.7L742.1 493.6L741.6 491.5L741.3 489.4L741.1 487.4L741.0 485.3L741.1 483.2L741.3 481.2L741.7 479.3L742.2 477.5L742.8 475.7L743.6 473.9L744.5 472.1L745.3 470.6L746.5 468.8L747.8 467.2L749.3 465.4L750.8 463.6L751.6 462.1L751.8 460.4L751.3 458.8L750.2 457.5L748.8 456.7L747.1 456.6L745.5 457.0Z" fill="#b2b2b2"/>
<path d="M813.1 579.3L814.9 580.3L816.6 581.3L818.4 582.4L820.3 583.5L822.4 584.5L824.6 585.5L826.8 586.4L829.2 587.2L831.6 587.9L834.2 588.6L836.7 589.2L839.4 589.6L841.7 589.8L844.1 589.9L846.4 589.8L848.8 589.7L851.1 589.5L853.4 589.1L855.7 588.1L855.9 586.5L853.7 585.1L851.4 584.5L849.1 584.1L846.9 583.6L844.7 583.3L842.6 582.9L840.6 582.4L838.3 581.9L836.0 581.3L833.8 580.6L831.6 580.0L829.4 579.2L827.4 578.5L825.6 577.7L823.9 576.8L822.2 575.8L820.5 574.8L818.7 573.7L816.9 572.7L815.5 572.2L814.0 572.3L812.7 573.0L811.7 574.1L811.2 575.5L811.3 577.0L812.0 578.3Z" fill="#b2b2b2"/>
<path d="M766.2 537.3L766.1 539.6L766.0 541.8L765.9 543.8L765.5 545.6L764.9 547.2L764.1 549.1L763.1 551.0L762.1 553.0L761.2 554.8L760.0 556.9L758.8 558.9L757.5 560.9L756.6 562.4L755.2 564.3L754.2 566.3L755.1 567.7L757.6 567.4L760.1 566.0L761.8 564.5L763.6 562.8L765.4 560.8L767.1 558.6L768.4 556.7L769.7 554.6L770.9 552.4L772.0 550.1L772.8 547.7L773.4 544.9L773.6 542.2L773.7 539.9L773.8 537.7L773.6 536.2L772.8 534.9L771.6 534.1L770.2 533.7L768.7 533.9L767.4 534.7L766.6 535.9Z" fill="#b2b2b2"/>
<path d="M696.4 502.0L693.9 503.0L692.0 504.5L690.3 506.1L688.6 507.9L687.0 509.7L685.6 511.7L684.3 513.7L683.0 515.8L681.9 518.1L681.1 520.6L680.5 523.0L680.1 525.6L680.0 528.1L680.0 530.6L680.1 533.0L680.6 535.8L681.4 538.7L682.6 541.5L684.3 544.1L686.2 546.2L688.2 547.8L690.4 549.2L692.5 550.5L694.5 551.8L696.4 552.9L698.4 554.0L700.4 555.1L702.4 556.2L704.3 557.3L706.2 558.4L708.1 559.7L710.0 560.9L711.9 562.3L713.8 563.6L715.6 565.0L717.4 566.4L719.1 567.9L720.7 569.4L722.3 571.0L723.9 572.6L725.4 574.3L726.9 575.9L728.3 577.7L729.8 579.7L731.4 581.7L732.9 583.7L734.3 585.5L735.5 587.0L737.4 589.0L738.5 590.1L739.1 590.7L739.9 592.5L741.2 594.7L742.8 594.7L744.1 592.2L744.2 589.3L743.4 587.1L742.5 585.3L741.1 583.0L740.3 581.4L739.1 579.4L737.8 577.2L736.4 575.0L734.8 572.8L733.1 570.7L731.5 568.9L729.8 567.0L728.1 565.3L726.3 563.5L724.5 561.9L722.6 560.2L720.7 558.6L718.6 557.1L716.6 555.6L714.6 554.2L712.5 552.9L710.5 551.6L708.4 550.3L706.3 549.1L704.3 548.0L702.3 546.9L700.5 545.9L698.8 544.9L696.7 543.6L694.7 542.4L693.0 541.2L691.6 540.2L690.7 539.2L689.7 537.7L689.0 536.0L688.5 534.1L688.2 532.0L688.0 530.3L688.0 528.4L688.2 526.5L688.5 524.6L688.9 522.8L689.5 521.1L690.2 519.3L691.0 517.4L692.0 515.5L693.0 513.6L694.0 511.7L695.0 509.8L696.2 507.8L697.2 505.6L697.6 503.0Z" fill="#b2b2b2"/>
<path d="M654.7 530.0L657.3 531.0L659.7 531.2L662.1 531.4L664.2 531.6L666.1 532.0L667.7 532.5L669.5 533.2L671.4 534.1L673.2 535.0L675.0 535.9L676.5 536.6L678.2 537.7L679.6 538.8L681.0 540.0L682.6 541.3L683.9 542.0L685.4 542.1L686.8 541.7L688.0 540.7L688.6 539.4L688.8 537.9L688.3 536.5L687.4 535.4L685.9 534.2L684.4 532.9L682.5 531.4L680.2 530.0L678.4 529.1L676.4 528.1L674.3 527.2L672.0 526.4L669.6 525.8L667.2 525.3L664.4 525.3L661.7 525.6L659.2 526.2L656.9 527.0L654.6 528.4Z" fill="#b2b2b2"/>
<path d="M604.1 554.8L605.7 556.1L607.2 557.4L608.9 558.8L610.7 560.2L612.7 561.7L614.5 562.9L616.4 564.0L618.4 565.2L620.5 566.4L622.7 567.6L625.0 568.7L627.1 569.6L629.2 570.4L631.4 571.3L633.6 572.1L635.9 572.8L638.2 573.5L640.6 574.2L643.0 574.9L645.4 575.5L647.8 576.0L650.3 576.5L652.7 577.1L655.1 577.6L657.4 578.1L659.8 578.7L662.2 579.2L664.6 579.8L667.0 580.3L669.3 580.9L671.6 581.5L673.8 582.2L676.0 582.9L678.1 583.7L680.3 584.5L682.4 585.3L684.5 586.2L686.5 587.0L688.3 587.9L690.8 589.0L693.1 590.0L695.1 591.0L696.8 592.0L698.1 593.0L699.0 594.0L699.8 595.3L700.8 597.0L702.0 599.1L703.8 601.2L705.9 603.0L708.1 604.6L710.3 606.0L712.6 607.3L714.7 608.5L716.8 609.6L718.9 610.6L721.1 611.5L723.3 612.3L725.6 612.9L728.0 613.4L730.3 613.5L732.5 613.5L734.6 613.3L736.9 612.5L737.1 610.9L735.3 609.3L733.2 608.5L731.3 607.8L729.5 607.1L727.7 606.4L726.0 605.6L724.2 604.6L722.4 603.6L720.6 602.6L718.7 601.5L716.6 600.3L714.6 599.1L712.6 597.9L710.9 596.6L709.5 595.5L708.6 594.4L707.8 593.0L706.8 591.2L705.5 589.1L703.5 587.0L701.3 585.3L699.0 583.9L696.6 582.7L694.2 581.6L691.7 580.5L689.7 579.6L687.6 578.7L685.5 577.8L683.2 576.9L680.9 576.1L678.6 575.2L676.2 574.5L673.8 573.8L671.4 573.1L668.9 572.5L666.5 571.9L664.1 571.3L661.6 570.8L659.3 570.2L656.8 569.7L654.4 569.1L651.9 568.6L649.6 568.1L647.2 567.6L645.0 567.0L642.8 566.4L640.6 565.8L638.4 565.1L636.3 564.4L634.2 563.7L632.1 562.9L630.2 562.1L628.3 561.3L626.3 560.3L624.3 559.3L622.5 558.3L620.6 557.2L618.9 556.1L617.3 555.0L615.5 553.8L614.0 552.5L612.5 551.2L610.9 549.9L609.2 548.5L607.9 547.8L606.3 547.6L604.8 548.1L603.5 549.1L602.8 550.5L602.6 552.0L603.1 553.6Z" fill="#b2b2b2"/>
<path d="M700.4 599.6L700.6 601.8L700.9 604.1L701.2 606.3L701.5 608.3L701.7 610.2L701.9 612.3L702.0 614.3L702.1 616.4L702.4 618.6L703.2 621.2L704.2 623.5L705.9 625.5L707.4 625.2L708.2 622.6L708.2 620.3L708.2 618.1L708.4 616.4L708.7 614.5L708.9 612.3L709.0 609.8L708.9 607.7L708.7 605.4L708.5 603.2L708.2 600.9L707.9 598.7L707.5 597.3L706.5 596.2L705.2 595.5L703.7 595.4L702.3 595.8L701.2 596.8L700.5 598.1Z" fill="#b2b2b2"/>
<path d="M865.9 524.5L864.2 526.4L863.3 528.6L862.5 530.7L861.9 532.9L861.6 535.2L861.9 538.0L862.6 539.6L863.0 540.9L863.0 542.1L863.1 543.9L863.2 546.1L863.5 548.5L864.0 551.0L864.7 553.4L865.5 555.7L866.5 558.1L867.7 560.5L869.1 562.9L870.4 565.0L871.9 567.0L873.5 569.0L875.2 570.9L877.0 572.8L879.0 574.7L880.7 576.2L882.5 577.7L884.4 579.1L886.4 580.5L888.3 581.8L890.2 583.0L892.1 584.2L894.2 585.6L896.4 586.8L898.6 587.9L900.7 589.0L902.8 590.1L904.9 591.1L906.9 592.2L909.0 593.2L911.2 594.3L913.4 595.3L915.6 596.3L917.9 597.1L920.0 597.8L922.1 598.4L924.3 598.9L926.5 599.3L928.9 599.6L931.5 599.8L933.8 599.9L936.4 599.8L939.0 599.7L941.7 599.5L944.3 599.3L946.6 599.1L948.5 599.1L950.0 599.5L952.3 600.6L955.1 600.7L957.4 600.7L960.1 600.6L962.8 600.5L965.6 600.3L968.2 600.1L970.6 599.8L973.3 599.3L975.6 598.7L977.6 598.1L979.4 597.4L981.2 596.9L982.6 596.1L983.6 594.9L984.0 593.3L983.9 591.8L983.1 590.4L981.9 589.4L980.3 589.0L978.8 589.1L976.8 589.8L975.0 590.4L973.3 591.0L971.6 591.4L969.4 591.8L967.5 592.0L965.0 592.3L962.4 592.4L959.7 592.5L957.2 592.6L955.1 592.6L954.4 592.7L953.6 592.2L951.0 591.1L948.3 591.0L946.1 591.1L943.7 591.2L941.1 591.4L938.5 591.6L936.0 591.7L933.8 591.8L931.9 591.8L929.7 591.6L927.7 591.3L925.9 591.0L924.2 590.6L922.4 590.1L920.5 589.5L918.6 588.8L916.7 588.0L914.7 587.0L912.7 586.0L910.6 584.9L908.5 583.9L906.4 582.8L904.4 581.8L902.3 580.8L900.3 579.7L898.3 578.6L896.3 577.4L894.6 576.2L892.8 575.1L891.0 573.8L889.2 572.6L887.5 571.3L885.9 570.0L884.4 568.7L882.8 567.1L881.2 565.5L879.7 563.7L878.3 562.0L877.0 560.3L875.9 558.7L874.8 556.7L873.9 554.8L873.1 552.8L872.4 550.9L871.8 549.0L871.4 547.2L871.2 545.3L871.0 543.3L870.8 541.3L870.4 539.1L869.5 536.7L868.8 535.7L868.4 534.8L868.3 533.6L868.4 531.8L868.4 529.5L868.3 527.2L867.5 524.8Z" fill="#b2b2b2"/>
<path d="M838.9 547.0L840.7 549.1L842.7 550.4L844.9 551.7L847.1 552.9L849.0 553.9L851.0 554.9L853.0 555.9L855.0 556.8L856.7 557.7L858.7 558.6L860.6 559.5L862.4 560.5L864.3 561.4L865.7 561.8L867.2 561.6L868.5 560.9L869.4 559.7L869.8 558.3L869.6 556.8L868.9 555.5L867.7 554.6L865.8 553.7L864.0 552.7L862.0 551.8L859.9 550.7L857.9 550.0L855.8 549.2L853.7 548.4L851.6 547.7L849.5 547.1L847.1 546.4L844.7 545.8L842.2 545.3L839.5 545.5Z" fill="#b2b2b2"/>
<path d="M895.2 528.0L895.4 530.4L896.4 532.7L898.3 534.9L900.4 536.3L902.7 537.4L905.2 538.2L908.0 538.8L910.4 539.0L913.0 539.1L915.7 539.0L918.4 538.6L921.1 538.1L923.6 537.2L926.0 536.1L928.1 534.9L930.0 533.8L932.0 532.7L933.9 531.7L935.9 530.6L938.0 529.4L940.1 528.1L942.4 526.6L944.3 525.2L946.2 523.6L948.0 522.0L949.9 520.4L951.7 518.8L953.5 517.2L954.5 516.0L954.9 514.5L954.7 512.9L953.9 511.5L952.7 510.5L951.1 510.1L949.6 510.3L948.2 511.1L946.4 512.7L944.5 514.3L942.7 515.9L940.9 517.4L939.2 518.8L937.6 520.0L935.8 521.3L933.9 522.4L932.0 523.5L930.1 524.5L928.0 525.6L926.0 526.8L924.1 527.9L922.3 528.9L920.6 529.7L918.9 530.3L917.0 530.7L914.9 530.9L912.7 531.1L910.6 531.2L908.7 531.2L906.6 531.1L904.7 530.8L903.0 530.4L901.7 530.1L900.2 529.3L898.8 528.1L896.5 527.0Z" fill="#b2b2b2"/>
<path d="M924.5 531.5L924.0 533.6L923.5 535.7L923.0 538.0L922.6 540.3L922.2 542.8L922.1 545.3L922.1 547.9L922.2 550.5L922.5 553.1L923.0 555.6L923.8 558.0L924.7 560.1L925.9 562.1L927.1 563.8L929.2 565.2L930.8 564.8L931.6 562.3L931.4 560.1L931.2 558.1L931.1 556.2L931.0 554.4L931.0 552.5L931.2 550.3L931.3 548.1L931.6 545.9L931.8 543.8L932.0 541.9L932.4 539.9L932.9 537.9L933.4 535.7L933.9 533.5L933.9 531.6L933.2 529.9L931.9 528.6L930.2 527.8L928.3 527.8L926.6 528.5L925.2 529.8Z" fill="#b2b2b2"/>
<path d="M973.5 437.9L975.7 438.8L977.9 439.6L980.1 440.5L982.2 441.3L984.4 442.1L986.5 443.0L988.5 443.8L990.8 444.7L993.0 445.6L995.1 446.4L997.3 447.3L999.6 448.2L1001.9 449.1L1003.9 449.9L1006.0 450.7L1008.2 451.6L1010.4 452.4L1012.6 453.2L1014.9 454.0L1017.2 454.7L1019.4 455.4L1021.6 456.0L1023.9 456.5L1026.2 457.0L1028.5 457.4L1030.7 457.7L1033.0 457.8L1035.6 457.8L1038.0 457.5L1040.3 457.1L1042.5 456.6L1044.6 455.9L1046.7 454.5L1046.6 452.9L1044.3 451.7L1042.1 451.4L1039.9 451.2L1037.8 451.0L1035.7 450.8L1033.7 450.5L1031.8 450.1L1029.9 449.7L1027.9 449.2L1025.8 448.7L1023.7 448.1L1021.6 447.6L1019.5 447.0L1017.4 446.3L1015.3 445.6L1013.2 444.8L1011.1 444.0L1009.0 443.2L1006.9 442.4L1004.8 441.6L1002.5 440.7L1000.3 439.8L998.2 438.9L996.0 438.1L993.8 437.2L991.5 436.2L989.4 435.4L987.3 434.6L985.2 433.8L983.0 432.9L980.8 432.1L978.6 431.2L976.5 430.4L974.9 430.1L973.4 430.5L972.1 431.4L971.2 432.7L971.0 434.3L971.3 435.8L972.2 437.1Z" fill="#b2b2b2"/>
<path d="M1111.0 437.1L1109.8 439.0L1108.6 440.8L1107.5 442.6L1106.4 444.4L1105.2 446.2L1103.9 448.2L1102.6 450.1L1101.4 451.9L1100.2 453.5L1099.0 454.8L1097.5 456.2L1095.9 457.4L1094.3 458.4L1092.5 459.3L1090.8 459.8L1088.8 460.1L1086.5 460.5L1084.1 460.9L1081.7 462.2L1081.7 463.8L1084.0 465.0L1086.5 465.5L1089.0 465.9L1091.6 466.0L1094.2 465.7L1097.1 464.9L1099.7 463.6L1102.1 462.1L1104.3 460.2L1106.0 458.4L1107.6 456.4L1109.0 454.3L1110.3 452.3L1111.5 450.4L1112.7 448.6L1113.9 446.7L1115.1 444.8L1116.2 443.0L1117.4 441.2L1117.9 439.8L1117.9 438.3L1117.3 437.0L1116.2 436.0L1114.8 435.4L1113.3 435.5L1112.0 436.1Z" fill="#b2b2b2"/>
<path d="M1165.8 447.5C1168.6 450.3 1171.5 452.8 1174.2 455.8C1176.8 458.9 1179.6 462.4 1181.7 465.8C1183.7 469.3 1185.8 472.6 1186.3 476.7C1186.9 480.7 1185.4 485.3 1185.0 490.0C1184.6 494.7 1183.8 500.0 1183.8 505.0C1183.9 510.0 1184.9 515.3 1185.3 520.0C1185.8 524.7 1186.9 529.4 1186.7 533.3C1186.5 537.2 1185.4 540.7 1184.2 543.3C1182.9 546.0 1180.8 547.2 1179.2 549.2" fill="none" stroke="#b2b2b2" stroke-width="8.1" stroke-linecap="round" stroke-linejoin="round"/>
<path d="M936.1 470.8L938.8 471.4L941.0 471.1L943.1 470.9L945.3 471.0L946.9 471.2L948.8 471.5L950.9 471.9L953.0 472.3L955.2 472.8L957.2 473.3L959.2 473.9L961.1 474.6L963.2 475.5L965.3 476.5L967.5 477.5L969.9 478.6L971.9 479.5L974.0 480.5L976.1 481.6L978.3 482.7L980.5 483.8L982.7 484.9L984.8 485.9L987.1 487.0L989.3 488.1L991.5 489.1L993.8 490.2L996.1 491.2L998.6 492.1L1000.7 492.8L1002.8 493.4L1005.0 494.1L1007.2 494.7L1009.6 495.2L1012.0 495.6L1014.5 495.9L1016.8 496.1L1019.2 496.3L1021.7 496.3L1024.1 496.3L1026.5 496.3L1029.0 496.2L1031.3 496.1L1033.6 496.0L1036.2 495.8L1038.7 495.5L1041.2 495.2L1043.5 494.9L1045.9 494.5L1048.2 494.2L1050.5 493.9L1052.9 493.7L1055.3 493.4L1057.6 493.1L1060.0 492.9L1062.3 492.6L1064.6 492.4L1066.9 492.3L1069.2 492.2L1071.5 492.1L1073.9 492.1L1076.2 492.0L1078.5 492.1L1080.8 492.2L1083.0 492.3L1085.3 492.5L1087.6 492.7L1089.9 493.0L1092.2 493.4L1094.5 493.7L1096.9 494.1L1099.2 494.6L1101.5 495.0L1103.8 495.5L1106.2 496.1L1108.6 496.7L1111.0 497.3L1113.4 497.9L1115.8 498.4L1118.0 498.8L1120.2 499.3L1122.4 499.8L1124.7 500.2L1127.0 500.6L1129.3 500.9L1131.7 501.0L1134.4 500.8L1137.0 500.5L1139.5 500.0L1141.9 499.5L1144.1 498.8L1146.2 498.2L1148.5 497.3L1150.8 496.3L1152.9 495.3L1154.7 494.2L1156.4 493.2L1158.7 491.4L1160.3 489.7L1161.3 487.3L1160.4 486.0L1157.8 486.1L1155.8 486.8L1153.6 487.5L1151.9 488.0L1150.1 488.5L1148.1 489.1L1146.0 489.6L1143.8 490.2L1141.9 490.6L1139.8 491.1L1137.7 491.6L1135.7 492.0L1133.6 492.3L1131.6 492.4L1129.9 492.3L1128.1 492.1L1126.2 491.8L1124.2 491.4L1122.0 490.9L1119.8 490.4L1117.6 490.0L1115.3 489.5L1113.0 488.9L1110.7 488.4L1108.3 487.8L1105.8 487.2L1103.3 486.6L1100.8 486.1L1098.4 485.7L1095.9 485.2L1093.5 484.9L1091.1 484.5L1088.6 484.2L1086.1 483.9L1083.6 483.7L1081.1 483.6L1078.7 483.5L1076.2 483.4L1073.8 483.5L1071.3 483.5L1068.9 483.6L1066.4 483.7L1064.0 483.9L1061.5 484.1L1059.1 484.3L1056.7 484.6L1054.3 484.8L1051.9 485.1L1049.5 485.4L1047.1 485.7L1044.7 486.0L1042.3 486.3L1040.0 486.7L1037.7 487.0L1035.4 487.2L1033.1 487.4L1030.9 487.5L1028.6 487.6L1026.3 487.7L1024.0 487.7L1021.7 487.7L1019.5 487.7L1017.4 487.6L1015.5 487.4L1013.3 487.1L1011.3 486.7L1009.3 486.3L1007.3 485.8L1005.3 485.2L1003.4 484.6L1001.4 483.9L999.3 483.2L997.2 482.3L995.2 481.3L993.1 480.3L990.8 479.2L988.5 478.1L986.5 477.1L984.4 476.1L982.2 475.0L980.0 473.9L977.8 472.8L975.6 471.7L973.5 470.8L971.2 469.7L968.9 468.6L966.6 467.6L964.3 466.6L961.9 465.8L959.5 465.0L957.0 464.4L954.4 464.0L951.9 463.8L949.4 463.7L947.1 463.8L944.7 464.0L941.8 464.7L939.3 465.9L937.3 467.2L935.6 469.2Z" fill="#b2b2b2"/>
<path d="M1129.0 499.0L1129.8 500.8L1130.6 502.7L1131.4 504.7L1132.3 506.6L1133.5 508.7L1135.2 510.9L1137.0 512.7L1138.4 514.2L1139.6 515.7L1140.3 517.1L1141.1 518.9L1141.9 521.0L1142.9 523.2L1144.6 525.2L1146.1 524.8L1146.8 522.3L1146.8 520.0L1146.6 517.6L1146.2 515.1L1145.4 512.7L1144.0 510.0L1142.4 507.9L1141.0 506.2L1139.9 504.6L1139.1 503.2L1138.4 501.6L1137.6 499.8L1136.8 497.9L1136.0 496.0L1135.1 494.8L1133.9 494.0L1132.4 493.7L1131.0 494.0L1129.8 494.9L1129.0 496.1L1128.7 497.6Z" fill="#b2b2b2"/>
<path d="M1179.5 545.9L1177.3 546.2L1175.1 546.5L1173.0 546.9L1170.9 547.2L1168.8 547.4L1166.5 547.5L1164.4 547.6L1162.2 547.5L1159.9 547.5L1157.5 547.4L1155.0 547.2L1152.6 547.1L1150.1 547.0L1147.8 547.0L1145.4 546.9L1143.0 546.7L1140.6 546.6L1138.2 546.6L1135.7 546.5L1133.3 546.5L1130.9 546.6L1128.4 546.6L1125.9 546.7L1123.5 546.9L1121.0 547.0L1118.6 547.3L1116.2 547.6L1113.8 547.9L1111.5 548.3L1109.2 548.8L1107.0 549.3L1104.8 549.8L1102.7 550.4L1100.5 551.0L1098.1 551.8L1095.7 552.6L1093.4 553.5L1091.1 554.5L1088.8 555.5L1086.6 556.6L1084.4 557.8L1082.3 559.0L1080.3 560.3L1078.3 561.7L1076.4 563.0L1074.4 564.4L1072.4 565.9L1070.4 567.5L1068.4 569.1L1066.4 570.7L1064.5 572.2L1062.6 573.7L1060.8 575.2L1059.0 576.7L1057.3 578.2L1055.6 579.7L1054.1 581.1L1052.8 582.5L1051.0 584.5L1049.6 586.3L1048.5 587.9L1047.6 589.2L1046.6 590.8L1046.2 592.4L1047.2 593.6L1048.8 593.5L1050.7 592.5L1052.1 591.5L1053.6 590.3L1055.3 588.9L1057.2 587.5L1058.7 586.4L1060.3 585.2L1062.0 583.9L1063.8 582.5L1065.6 581.1L1067.4 579.6L1069.2 578.1L1071.2 576.6L1073.1 575.0L1075.0 573.5L1077.0 572.0L1078.9 570.6L1080.8 569.2L1082.6 567.9L1084.5 566.7L1086.3 565.5L1088.2 564.4L1090.1 563.4L1092.1 562.4L1094.1 561.5L1096.2 560.6L1098.3 559.8L1100.5 559.0L1102.8 558.3L1104.7 557.7L1106.7 557.2L1108.8 556.7L1110.8 556.2L1112.9 555.8L1115.0 555.4L1117.2 555.1L1119.4 554.8L1121.6 554.6L1123.9 554.5L1126.3 554.3L1128.6 554.2L1131.0 554.2L1133.4 554.1L1135.7 554.1L1138.0 554.2L1140.3 554.2L1142.7 554.3L1145.1 554.4L1147.5 554.5L1149.9 554.6L1152.2 554.7L1154.7 554.8L1157.1 555.0L1159.6 555.1L1162.1 555.1L1164.5 555.2L1166.8 555.1L1169.4 555.0L1171.8 554.7L1174.1 554.4L1176.3 554.1L1178.4 553.7L1180.5 553.4L1181.9 552.9L1183.0 552.0L1183.7 550.6L1183.8 549.1L1183.3 547.7L1182.3 546.6L1181.0 546.0Z" fill="#b2b2b2"/>
<path d="M1184.2 550.0C1187.8 551.7 1191.5 552.8 1195.0 555.0C1198.5 557.2 1202.1 560.1 1205.0 563.3C1207.9 566.5 1210.4 570.3 1212.5 574.2C1214.6 578.1 1216.5 584.0 1217.5 586.7C1218.5 589.3 1218.2 587.5 1218.3 590.0C1218.4 592.5 1218.6 597.5 1218.0 601.7C1217.4 605.8 1216.8 611.0 1215.0 615.0C1213.2 619.0 1210.3 622.5 1207.5 625.8C1204.7 629.2 1200.6 631.5 1198.3 635.0C1196.1 638.5 1195.0 642.5 1194.2 646.7C1193.3 650.8 1192.8 655.6 1193.3 660.0C1193.9 664.4 1195.8 668.9 1197.5 673.3C1199.2 677.8 1201.5 682.2 1203.3 686.7C1205.1 691.1 1207.4 695.6 1208.3 700.0C1209.3 704.4 1209.7 708.9 1209.2 713.3C1208.6 717.8 1207.1 722.5 1205.0 726.7C1202.9 730.8 1199.7 735.0 1196.7 738.3C1193.6 741.7 1189.7 744.4 1186.7 746.7C1183.6 748.9 1181.1 750.2 1178.3 752.0" fill="none" stroke="#b2b2b2" stroke-width="7.6" stroke-linecap="round" stroke-linejoin="round"/>
<path d="M1089.1 524.2L1086.9 523.0L1084.8 522.6L1082.5 522.3L1080.1 522.2L1077.5 522.5L1075.3 523.0L1073.1 523.6L1071.0 524.4L1069.0 525.3L1067.0 526.2L1064.9 527.2L1062.8 528.2L1060.6 529.3L1058.3 530.4L1056.0 531.5L1053.7 532.7L1051.4 533.9L1049.5 534.9L1047.5 536.0L1045.5 537.0L1043.5 538.1L1041.5 539.3L1039.6 540.4L1037.7 541.6L1035.7 543.0L1033.9 544.5L1032.1 545.9L1030.4 547.4L1028.7 548.9L1027.1 550.5L1025.5 552.3L1024.0 554.0L1022.7 555.8L1021.5 557.4L1020.2 559.0L1018.8 560.5L1017.4 561.8L1015.9 563.3L1014.3 564.7L1012.7 566.1L1011.0 567.4L1009.3 568.8L1007.6 570.1L1005.9 571.3L1004.0 572.5L1002.1 573.8L1000.1 574.9L998.2 576.1L996.4 577.2L994.7 578.1L992.7 579.2L990.8 580.0L988.8 580.9L986.7 581.9L984.5 583.2L982.8 584.4L981.0 585.5L979.0 586.9L977.0 588.5L975.1 590.4L973.3 592.7L972.1 594.8L971.1 596.9L970.1 599.2L969.3 601.5L968.5 603.7L967.8 606.0L967.0 608.1L966.2 610.2L965.4 612.4L964.6 614.7L963.8 616.9L963.1 619.0L962.3 621.1L961.5 623.0L960.7 624.7L959.9 626.2L958.7 628.0L957.4 629.6L956.0 631.1L954.5 632.4L952.9 633.7L951.1 635.0L949.4 636.0L947.6 637.0L945.6 637.9L943.4 638.8L941.3 639.7L939.2 640.6L937.2 641.4L935.0 642.3L932.8 643.0L930.6 643.7L928.4 644.5L926.1 645.4L924.0 647.2L924.3 648.8L926.9 649.6L929.3 649.8L931.7 649.7L934.3 649.5L936.8 649.2L939.5 648.6L941.8 647.9L944.1 647.2L946.5 646.3L948.9 645.3L951.2 644.2L953.5 643.0L955.6 641.7L957.7 640.2L959.8 638.6L961.7 636.8L963.5 634.9L965.2 632.8L966.8 630.5L967.9 628.4L968.9 626.3L969.9 624.0L970.7 621.8L971.5 619.5L972.2 617.3L973.0 615.2L973.8 613.1L974.6 610.9L975.4 608.6L976.2 606.4L976.9 604.2L977.7 602.1L978.5 600.2L979.3 598.6L980.0 597.3L981.2 595.8L982.5 594.5L983.9 593.3L985.5 592.3L987.2 591.2L988.8 590.1L990.5 589.1L992.2 588.3L994.1 587.4L996.2 586.5L998.6 585.2L1000.4 584.2L1002.3 583.1L1004.3 581.9L1006.4 580.6L1008.4 579.3L1010.4 578.0L1012.4 576.6L1014.3 575.2L1016.1 573.8L1017.9 572.3L1019.7 570.8L1021.4 569.2L1023.0 567.7L1024.6 566.2L1026.3 564.3L1027.8 562.5L1029.2 560.7L1030.4 559.0L1031.6 557.6L1032.9 556.2L1034.3 554.8L1035.8 553.4L1037.3 552.1L1038.9 550.8L1040.5 549.6L1042.3 548.4L1043.9 547.3L1045.6 546.3L1047.5 545.2L1049.4 544.2L1051.3 543.1L1053.3 542.1L1055.2 541.1L1057.4 539.9L1059.7 538.8L1061.9 537.6L1064.1 536.5L1066.3 535.5L1068.4 534.5L1070.5 533.5L1072.4 532.5L1074.3 531.5L1076.0 530.6L1077.6 529.9L1079.2 529.2L1081.0 528.6L1082.9 528.1L1084.9 527.7L1087.1 527.2L1089.2 525.8Z" fill="#b2b2b2"/>
<path d="M996.8 548.8L998.7 550.4L1000.6 551.3L1002.6 552.2L1004.8 552.9L1007.0 553.6L1009.4 554.2L1011.7 554.7L1014.0 555.1L1016.5 555.5L1018.9 555.8L1021.4 556.1L1023.8 556.3L1026.2 556.6L1027.7 556.5L1029.0 555.8L1030.0 554.7L1030.4 553.3L1030.3 551.8L1029.6 550.5L1028.5 549.5L1027.1 549.1L1024.7 548.8L1022.2 548.5L1019.7 548.2L1017.3 548.0L1015.0 547.8L1012.7 547.6L1010.6 547.4L1008.2 547.2L1006.0 547.0L1003.9 546.8L1001.8 546.6L999.6 546.6L997.2 547.2Z" fill="#b2b2b2"/>
<path d="M1211.1 533.8L1213.8 534.2L1216.3 533.8L1218.7 533.4L1221.1 532.8L1223.1 532.3L1225.2 531.8L1227.2 531.2L1229.1 530.7L1231.1 530.2L1233.1 529.7L1234.9 529.2L1236.6 528.8L1238.0 528.6L1239.5 528.7L1240.7 529.0L1242.2 529.5L1243.9 530.3L1245.9 531.2L1248.1 532.2L1250.4 533.0L1252.6 533.7L1254.9 534.4L1257.2 535.0L1259.6 535.6L1262.0 536.1L1264.4 536.5L1266.7 536.8L1269.1 537.1L1271.5 537.2L1273.9 537.3L1276.3 537.2L1278.9 537.0L1281.4 536.6L1283.9 536.0L1286.2 535.3L1288.5 534.5L1290.7 533.7L1292.9 533.0L1295.2 532.3L1297.5 531.5L1299.7 530.7L1301.9 529.9L1304.0 529.2L1306.1 528.6L1308.2 528.0L1310.4 527.5L1312.5 527.0L1314.6 526.6L1316.6 526.3L1318.7 526.0L1320.7 525.9L1322.8 525.9L1324.9 525.9L1327.0 526.0L1329.1 526.2L1331.0 526.5L1333.3 526.9L1335.3 527.4L1337.4 528.0L1339.5 528.7L1341.8 529.6L1343.8 530.4L1345.9 531.4L1348.0 532.6L1350.3 533.7L1352.6 534.9L1354.8 536.1L1356.3 536.5L1357.9 536.4L1359.3 535.6L1360.3 534.3L1360.7 532.8L1360.5 531.3L1359.8 529.9L1358.5 528.9L1356.3 527.8L1354.1 526.6L1351.8 525.4L1349.5 524.2L1347.1 523.1L1344.9 522.1L1342.3 521.1L1339.8 520.3L1337.4 519.6L1334.9 519.0L1332.3 518.5L1330.0 518.2L1327.7 518.0L1325.3 517.8L1322.8 517.8L1320.4 517.8L1318.0 518.0L1315.6 518.2L1313.2 518.6L1310.8 519.1L1308.5 519.6L1306.2 520.2L1303.9 520.8L1301.6 521.5L1299.2 522.2L1297.0 523.0L1294.7 523.8L1292.6 524.6L1290.4 525.3L1288.2 526.1L1285.9 526.8L1283.8 527.5L1281.7 528.2L1279.7 528.7L1277.8 529.0L1275.9 529.2L1273.9 529.2L1271.9 529.2L1269.8 529.0L1267.7 528.8L1265.6 528.5L1263.5 528.1L1261.4 527.7L1259.2 527.2L1257.1 526.6L1255.0 525.9L1253.0 525.3L1251.1 524.7L1249.3 523.8L1247.3 522.9L1245.2 522.0L1243.0 521.2L1240.5 520.6L1237.8 520.5L1235.2 520.8L1232.9 521.3L1230.9 521.9L1228.9 522.4L1226.8 523.1L1224.7 523.9L1222.7 524.7L1220.7 525.6L1218.9 526.5L1216.6 527.6L1214.4 528.8L1212.4 530.2L1210.6 532.2Z" fill="#b2b2b2"/>
<path d="M1219.2 504.4L1218.6 506.6L1218.7 508.6L1219.0 510.9L1220.0 513.3L1221.5 515.6L1223.3 517.5L1225.1 519.2L1226.7 520.8L1228.3 522.3L1229.9 523.9L1231.6 525.4L1233.3 527.0L1234.5 527.7L1236.0 528.0L1237.4 527.6L1238.6 526.7L1239.4 525.5L1239.6 524.0L1239.3 522.6L1238.4 521.4L1236.7 519.8L1235.1 518.3L1233.4 516.8L1231.7 515.2L1229.8 513.7L1227.9 512.3L1226.2 511.1L1225.0 510.0L1224.1 508.8L1223.3 507.3L1222.4 505.6L1220.8 504.0Z" fill="#b2b2b2"/>
<path d="M1202.0 416.6L1204.1 417.5L1206.3 418.4L1208.9 419.2L1210.7 419.8L1212.7 420.4L1215.0 420.9L1217.4 421.4L1220.0 421.5L1222.6 421.4L1225.2 421.1L1227.8 420.5L1230.4 419.7L1232.8 418.7L1235.0 417.4L1237.0 416.0L1238.6 414.4L1240.1 412.8L1241.3 410.7L1240.4 409.3L1238.0 409.7L1235.9 410.6L1234.1 411.6L1232.3 412.4L1230.5 413.0L1228.6 413.5L1226.4 413.9L1224.1 414.2L1222.0 414.4L1220.0 414.5L1218.3 414.3L1216.5 414.0L1214.6 413.5L1212.8 413.0L1211.1 412.4L1208.7 411.7L1206.8 410.9L1204.7 410.0L1203.3 409.8L1201.9 410.1L1200.8 410.8L1200.0 412.0L1199.8 413.4L1200.1 414.7L1200.8 415.9Z" fill="#b2b2b2"/>
<path d="M1131.2 572.7L1130.6 575.3L1130.8 577.6L1130.8 579.4L1130.4 581.1L1129.8 582.3L1128.9 583.9L1127.8 585.7L1126.6 587.5L1125.3 589.3L1124.2 591.0L1122.9 592.9L1121.6 594.5L1120.4 596.0L1119.1 597.2L1117.6 598.4L1116.3 599.2L1114.7 600.1L1113.1 600.8L1111.3 601.5L1109.3 602.2L1107.3 602.7L1105.6 603.2L1103.8 603.5L1101.9 603.8L1099.9 604.0L1097.7 604.2L1095.4 604.4L1093.0 604.6L1091.0 604.8L1089.0 604.9L1086.8 605.1L1084.6 605.2L1082.3 605.3L1079.9 605.4L1077.6 605.6L1075.2 605.7L1072.9 606.0L1070.6 606.2L1068.3 606.5L1066.1 606.8L1063.8 607.1L1061.5 607.5L1059.2 607.8L1057.0 608.2L1054.7 608.6L1052.6 609.0L1050.1 609.5L1047.7 610.0L1045.4 610.5L1043.0 611.1L1040.7 611.7L1038.4 612.3L1036.0 612.9L1033.8 613.6L1031.5 614.4L1029.3 615.2L1027.1 616.0L1024.9 616.8L1022.8 617.7L1020.7 618.6L1018.6 619.6L1016.6 620.5L1014.3 621.6L1011.9 622.8L1009.6 624.0L1007.3 625.3L1005.1 626.5L1003.0 627.8L1001.0 629.2L998.8 630.9L996.9 632.7L995.1 634.4L993.6 636.2L992.2 637.8L991.0 639.4L989.4 641.5L988.2 643.5L987.3 645.4L986.9 647.8L988.1 648.9L990.4 648.0L992.1 646.8L993.7 645.5L995.7 643.9L997.2 642.7L998.8 641.3L1000.4 639.9L1002.1 638.5L1003.8 637.1L1005.7 635.8L1007.4 634.7L1009.3 633.5L1011.3 632.3L1013.4 631.1L1015.6 630.0L1017.8 628.9L1020.1 627.8L1022.0 626.9L1024.0 626.0L1026.0 625.2L1028.0 624.3L1030.0 623.5L1032.1 622.8L1034.1 622.1L1036.2 621.4L1038.4 620.7L1040.5 620.1L1042.7 619.5L1044.9 619.0L1047.2 618.4L1049.4 617.9L1051.8 617.4L1054.1 617.0L1056.2 616.6L1058.4 616.2L1060.5 615.8L1062.7 615.5L1064.9 615.1L1067.1 614.8L1069.4 614.5L1071.6 614.3L1073.8 614.0L1075.9 613.8L1078.2 613.6L1080.4 613.5L1082.7 613.4L1085.0 613.3L1087.3 613.1L1089.5 613.0L1091.6 612.9L1093.7 612.7L1096.1 612.5L1098.5 612.3L1100.7 612.0L1102.9 611.8L1105.1 611.5L1107.2 611.1L1109.4 610.6L1111.7 609.9L1114.0 609.2L1116.2 608.3L1118.3 607.3L1120.4 606.2L1122.4 605.0L1124.4 603.3L1126.3 601.5L1128.0 599.6L1129.4 597.6L1130.8 595.6L1132.1 593.8L1133.3 591.7L1134.5 589.4L1135.6 587.1L1136.4 584.7L1136.9 582.2L1136.8 579.0L1135.9 576.2L1134.6 574.1L1132.8 572.3Z" fill="#b2b2b2"/>
<path d="M1126.1 605.8L1128.3 605.7L1130.5 605.6L1132.7 605.5L1135.0 605.4L1137.4 605.2L1139.9 605.0L1142.4 604.6L1144.9 604.0L1147.5 603.3L1150.1 602.6L1152.7 601.8L1155.1 601.0L1157.5 600.2L1159.6 599.4L1162.0 598.4L1164.2 597.4L1166.2 596.3L1168.1 595.3L1169.7 594.3L1171.3 593.3L1173.5 591.7L1175.1 590.2L1176.2 588.2L1175.4 586.8L1173.1 586.9L1171.2 587.5L1168.7 588.3L1167.2 588.8L1165.4 589.5L1163.5 590.1L1161.4 590.8L1159.3 591.6L1157.1 592.3L1155.0 593.0L1152.7 593.8L1150.3 594.6L1147.9 595.3L1145.5 596.0L1143.2 596.6L1141.0 597.1L1138.9 597.4L1136.7 597.7L1134.6 597.8L1132.4 597.9L1130.2 598.0L1127.9 598.1L1125.6 598.2L1124.2 598.6L1123.0 599.5L1122.2 600.8L1122.0 602.2L1122.4 603.7L1123.3 604.8L1124.6 605.6Z" fill="#b2b2b2"/>
<path d="M1388.3 442.5L1387.4 444.5L1386.6 446.4L1385.8 448.2L1385.0 449.9L1384.1 451.5L1382.9 453.2L1381.6 455.0L1380.1 456.8L1378.6 458.6L1377.1 460.2L1375.6 461.7L1374.1 463.0L1372.4 464.4L1370.7 465.8L1369.0 467.3L1367.3 468.7L1365.7 470.2L1364.0 471.6L1362.4 473.0L1360.8 474.4L1359.1 475.7L1357.4 477.1L1355.7 478.5L1354.1 479.8L1352.6 481.2L1350.8 482.9L1349.3 484.5L1347.9 485.9L1346.7 487.1L1345.0 488.6L1343.2 489.9L1341.7 492.1L1342.3 493.6L1345.0 493.8L1347.4 493.2L1350.0 492.2L1352.0 491.1L1353.8 489.8L1355.6 488.5L1357.4 487.1L1359.0 486.0L1360.7 484.8L1362.4 483.4L1364.2 482.0L1365.9 480.6L1367.6 479.2L1369.3 477.7L1371.0 476.3L1372.7 474.8L1374.3 473.4L1375.9 472.0L1377.6 470.6L1379.4 469.1L1381.2 467.5L1382.9 465.8L1384.6 464.0L1386.3 462.0L1387.9 460.0L1389.5 457.9L1390.9 455.8L1392.2 453.7L1393.2 451.6L1394.1 449.6L1394.9 447.7L1395.7 445.8L1396.0 444.3L1395.8 442.7L1394.9 441.4L1393.7 440.5L1392.1 440.1L1390.6 440.4L1389.2 441.2Z" fill="#b2b2b2"/>
<path d="M1272.2 502.4L1274.8 503.3L1277.3 503.3L1280.0 503.0L1283.0 502.3L1285.1 501.4L1287.2 500.5L1289.3 499.3L1291.4 498.1L1293.5 496.8L1295.6 495.3L1297.5 494.0L1299.4 492.6L1301.4 491.1L1303.3 489.6L1305.3 488.2L1307.2 486.7L1309.1 485.2L1311.0 483.8L1313.0 482.3L1314.9 480.9L1316.8 479.4L1318.7 478.0L1320.6 476.6L1322.4 475.2L1324.5 473.7L1326.5 472.2L1328.4 470.7L1330.2 469.4L1331.9 468.2L1333.6 467.2L1335.7 466.1L1337.9 465.2L1339.9 464.4L1341.9 463.9L1343.8 463.5L1345.7 463.4L1347.8 463.5L1349.8 463.8L1351.9 464.2L1353.7 464.7L1355.3 465.3L1356.9 466.2L1358.6 467.2L1360.4 468.4L1362.4 469.5L1365.0 470.7L1367.2 471.6L1369.3 472.4L1370.9 472.7L1372.4 472.4L1373.7 471.5L1374.6 470.2L1374.9 468.6L1374.6 467.1L1373.7 465.8L1372.4 464.9L1370.2 464.0L1368.2 463.2L1366.0 462.2L1364.6 461.4L1363.0 460.4L1361.0 459.2L1358.7 458.0L1356.3 457.0L1353.8 456.3L1351.2 455.8L1348.5 455.4L1345.7 455.3L1342.9 455.5L1340.1 456.0L1337.4 456.7L1334.8 457.7L1332.3 458.8L1329.7 460.1L1327.6 461.4L1325.5 462.8L1323.5 464.2L1321.5 465.7L1319.6 467.2L1317.6 468.8L1315.8 470.1L1313.9 471.5L1312.0 472.9L1310.0 474.4L1308.1 475.9L1306.1 477.3L1304.2 478.8L1302.3 480.2L1300.3 481.7L1298.4 483.2L1296.5 484.7L1294.6 486.1L1292.8 487.4L1291.0 488.7L1289.0 490.1L1287.1 491.4L1285.2 492.8L1283.5 494.0L1281.8 495.1L1280.3 496.0L1278.2 497.2L1276.1 498.1L1273.9 499.0L1271.8 500.9Z" fill="#b2b2b2"/>
<path d="M1399.2 485.7L1396.6 486.2L1394.4 487.3L1392.2 488.7L1390.1 490.4L1388.3 492.4L1386.5 494.6L1385.0 497.1L1383.9 499.9L1383.4 502.8L1383.3 505.7L1383.8 508.7L1384.9 511.6L1386.3 513.9L1387.9 515.9L1389.7 517.7L1391.5 519.4L1393.3 521.1L1394.9 522.6L1396.6 524.0L1398.3 525.5L1400.1 526.9L1401.8 528.2L1403.4 529.6L1405.3 531.2L1407.2 532.9L1409.0 534.5L1410.7 536.1L1412.2 537.6L1413.5 539.1L1414.7 540.6L1415.8 542.2L1417.0 543.9L1418.3 545.6L1419.4 546.6L1420.8 547.1L1422.2 547.0L1423.6 546.4L1424.6 545.3L1425.1 543.9L1425.0 542.4L1424.4 541.1L1423.2 539.4L1422.0 537.8L1420.8 536.1L1419.4 534.3L1417.8 532.4L1416.0 530.6L1414.1 528.9L1412.2 527.1L1410.2 525.5L1408.3 523.8L1406.6 522.3L1404.8 520.9L1403.1 519.5L1401.4 518.2L1399.9 516.9L1398.4 515.5L1396.7 513.9L1395.0 512.3L1393.6 510.9L1392.5 509.5L1391.8 508.4L1391.2 506.8L1390.9 505.1L1390.9 503.4L1391.1 501.8L1391.6 500.2L1392.5 498.4L1393.6 496.4L1394.9 494.6L1396.1 492.9L1397.5 491.2L1399.1 489.4L1400.2 487.0Z" fill="#b2b2b2"/>
<path d="M1362.6 502.6L1360.4 503.8L1358.8 505.5L1357.3 507.5L1356.1 509.8L1355.3 511.9L1354.7 514.1L1354.3 516.3L1354.1 518.7L1354.0 521.0L1354.2 523.4L1354.5 525.8L1355.0 528.3L1355.7 530.8L1356.6 533.2L1357.7 535.6L1358.9 537.8L1360.3 540.0L1361.9 542.2L1363.6 544.3L1365.2 546.0L1366.8 547.8L1368.6 549.4L1370.4 551.0L1372.3 552.6L1374.2 554.1L1376.2 555.5L1378.2 556.8L1380.3 558.1L1382.4 559.3L1384.4 560.5L1386.4 561.6L1388.4 562.6L1390.5 563.6L1392.5 564.6L1394.5 565.5L1396.5 566.3L1398.6 567.1L1401.2 568.0L1403.7 568.8L1406.2 569.4L1408.6 570.0L1410.6 570.6L1412.9 571.2L1414.9 571.7L1416.8 572.1L1418.7 572.6L1420.3 572.7L1421.8 572.1L1422.9 571.1L1423.6 569.6L1423.7 568.1L1423.1 566.6L1422.1 565.4L1420.6 564.7L1418.7 564.3L1416.9 563.8L1414.9 563.3L1412.7 562.7L1410.6 562.2L1408.3 561.6L1405.9 561.0L1403.6 560.3L1401.4 559.5L1399.6 558.8L1397.7 558.1L1395.9 557.2L1394.0 556.3L1392.1 555.4L1390.2 554.4L1388.3 553.4L1386.4 552.3L1384.5 551.2L1382.6 550.0L1380.8 548.8L1379.1 547.6L1377.4 546.3L1375.7 544.9L1374.1 543.4L1372.5 542.0L1371.1 540.5L1369.8 539.0L1368.3 537.3L1367.0 535.5L1365.9 533.7L1364.9 531.9L1364.1 530.1L1363.4 528.3L1362.9 526.4L1362.5 524.5L1362.2 522.5L1362.0 520.6L1361.9 518.8L1361.8 517.0L1361.9 515.2L1362.1 513.4L1362.3 511.9L1362.7 510.0L1363.3 508.1L1364.0 506.0L1364.0 503.4Z" fill="#b2b2b2"/>
<path d="M1275.5 533.2L1274.6 535.1L1273.6 537.1L1272.6 539.0L1271.7 541.0L1270.7 542.9L1269.7 544.9L1268.7 546.8L1267.8 548.8L1266.8 550.8L1265.8 552.8L1264.9 554.6L1263.9 556.4L1262.8 558.6L1261.7 560.7L1260.6 562.6L1259.5 564.4L1258.4 565.9L1257.0 567.8L1255.6 569.4L1254.4 570.7L1253.2 571.6L1252.0 572.3L1250.3 572.8L1248.5 573.2L1247.0 573.4L1245.3 573.5L1243.5 573.2L1241.2 573.4L1240.5 574.9L1241.8 576.9L1243.7 578.3L1246.3 579.2L1248.7 579.6L1251.2 579.6L1254.0 579.3L1256.8 578.4L1259.2 576.8L1261.4 575.0L1263.2 572.9L1264.9 570.7L1266.3 568.8L1267.6 566.7L1268.8 564.6L1269.9 562.4L1271.1 560.2L1272.1 558.3L1273.1 556.4L1274.1 554.4L1275.0 552.4L1276.0 550.4L1277.0 548.5L1277.9 546.5L1278.9 544.6L1279.9 542.6L1280.8 540.7L1281.8 538.8L1282.8 536.8L1283.2 535.3L1283.0 533.7L1282.2 532.3L1281.0 531.4L1279.5 531.0L1277.9 531.2L1276.5 531.9Z" fill="#b2b2b2"/>
<path d="M1356.8 538.7L1358.0 540.6L1359.2 542.5L1360.5 544.4L1361.7 546.3L1362.8 548.2L1364.0 550.0L1365.0 551.9L1366.2 554.0L1367.4 556.2L1368.5 558.4L1369.5 560.5L1370.6 562.7L1371.5 564.9L1372.5 567.0L1373.4 569.2L1374.2 571.4L1375.0 573.5L1375.7 575.6L1376.4 577.7L1377.0 579.8L1377.7 582.1L1378.3 584.4L1378.9 586.6L1379.4 588.6L1379.8 590.2L1380.3 592.4L1380.5 593.9L1381.2 595.7L1382.8 596.0L1384.1 594.5L1384.8 592.6L1385.2 589.8L1385.2 587.8L1385.1 585.6L1384.9 583.2L1384.6 580.7L1384.2 578.1L1383.6 575.7L1383.0 573.3L1382.2 571.0L1381.3 568.6L1380.4 566.4L1379.5 564.1L1378.5 561.8L1377.5 559.5L1376.4 557.2L1375.3 555.0L1374.1 552.7L1372.9 550.4L1371.6 548.1L1370.5 546.2L1369.3 544.2L1368.1 542.3L1366.9 540.3L1365.6 538.4L1364.4 536.5L1363.2 534.6L1362.2 533.6L1360.8 533.0L1359.4 532.9L1358.0 533.5L1356.9 534.5L1356.3 535.8L1356.3 537.3Z" fill="#b2b2b2"/>
<path d="M1335.7 564.5L1333.3 563.7L1331.0 563.5L1328.7 563.5L1326.3 563.7L1323.9 564.2L1321.5 564.9L1319.2 565.7L1316.9 566.7L1314.6 567.9L1312.6 569.3L1310.7 570.8L1309.1 572.4L1307.6 574.2L1306.2 575.9L1304.9 577.8L1303.7 579.9L1302.6 582.0L1301.6 584.2L1300.6 586.2L1299.7 588.3L1298.7 590.4L1297.8 592.6L1297.0 594.4L1296.2 596.0L1295.2 597.5L1294.2 598.6L1292.9 599.7L1291.5 600.8L1290.0 601.9L1288.3 602.9L1286.5 603.9L1284.9 604.7L1283.0 605.4L1281.0 606.1L1278.9 606.8L1276.8 607.4L1274.6 608.0L1272.4 608.6L1270.3 609.0L1268.0 609.4L1265.7 609.8L1263.4 610.1L1261.0 610.4L1258.6 610.7L1256.2 611.0L1253.7 611.3L1251.2 611.6L1248.8 611.9L1246.4 612.2L1244.1 612.4L1241.9 612.6L1240.2 612.6L1237.9 612.4L1235.8 612.0L1233.6 611.5L1231.2 610.9L1228.5 610.6L1225.9 610.7L1223.5 610.9L1221.2 611.2L1219.1 611.5L1217.0 611.8L1215.5 612.3L1214.3 613.4L1213.6 614.8L1213.5 616.4L1214.0 617.9L1215.0 619.0L1216.5 619.7L1218.0 619.8L1220.2 619.6L1222.4 619.2L1224.4 618.9L1226.3 618.7L1228.1 618.7L1229.8 618.9L1231.8 619.4L1234.0 619.9L1236.8 620.5L1239.8 620.7L1242.3 620.7L1244.7 620.5L1247.2 620.3L1249.8 620.0L1252.3 619.7L1254.8 619.3L1257.2 619.0L1259.5 618.7L1262.0 618.4L1264.4 618.1L1266.9 617.8L1269.4 617.4L1271.8 617.0L1274.2 616.4L1276.6 615.9L1279.0 615.2L1281.3 614.5L1283.7 613.8L1285.9 613.0L1288.1 612.1L1290.1 611.1L1292.4 609.9L1294.4 608.7L1296.4 607.3L1298.2 605.8L1299.9 604.3L1301.5 602.5L1303.1 600.3L1304.4 597.9L1305.3 595.7L1306.1 593.6L1307.0 591.7L1308.0 589.7L1308.9 587.6L1309.9 585.6L1310.8 583.8L1311.7 582.2L1312.8 580.7L1313.9 579.2L1315.0 578.0L1316.1 576.8L1317.4 575.7L1318.9 574.7L1320.6 573.7L1322.4 572.7L1324.3 571.7L1326.1 570.8L1327.9 570.0L1329.8 569.3L1331.9 568.6L1334.0 567.8L1336.0 566.1Z" fill="#b2b2b2"/>
<path d="M1350.1 578.9L1348.3 580.5L1347.1 582.5L1346.4 584.9L1346.6 587.3L1347.1 589.2L1347.8 591.2L1348.2 592.9L1348.9 594.9L1349.6 597.2L1350.5 599.5L1351.6 601.7L1352.7 603.9L1354.0 606.1L1355.4 608.4L1357.1 610.7L1359.1 612.8L1361.1 614.4L1363.1 615.8L1365.3 617.0L1367.5 618.1L1369.6 619.1L1371.8 620.1L1374.0 621.1L1376.3 622.0L1378.6 622.9L1380.9 623.6L1383.2 624.4L1385.3 625.2L1387.5 626.1L1389.7 626.9L1392.0 627.8L1394.2 628.6L1396.5 629.5L1398.8 630.3L1401.1 631.1L1403.6 631.9L1406.1 632.6L1408.5 633.4L1410.6 634.0L1412.4 634.5L1415.3 635.2L1417.2 635.4L1418.7 635.3L1420.0 634.7L1421.0 633.6L1421.4 632.2L1421.3 630.7L1420.7 629.3L1419.6 628.4L1418.2 627.9L1416.8 627.7L1414.3 627.1L1412.7 626.7L1410.7 626.1L1408.4 625.4L1405.9 624.6L1403.5 623.8L1401.2 623.1L1399.1 622.3L1396.9 621.5L1394.7 620.7L1392.5 619.8L1390.2 619.0L1388.0 618.1L1385.7 617.3L1383.4 616.5L1381.2 615.7L1379.0 614.9L1376.9 614.1L1374.9 613.2L1372.9 612.3L1370.8 611.3L1368.9 610.3L1367.1 609.3L1365.5 608.3L1364.3 607.2L1362.9 605.8L1361.7 604.1L1360.5 602.3L1359.4 600.2L1358.4 598.3L1357.4 596.3L1356.4 594.4L1355.5 592.4L1354.7 590.5L1353.9 588.8L1352.8 586.8L1352.2 585.8L1351.9 585.1L1351.8 583.7L1352.0 581.8L1351.6 579.4Z" fill="#b2b2b2"/>
<path d="M1361.4 609.7L1359.2 610.4L1357.0 611.1L1354.8 611.8L1352.7 612.4L1350.7 613.0L1348.8 613.5L1346.9 614.0L1344.9 614.5L1343.0 615.0L1341.0 615.6L1338.7 616.4L1336.4 617.3L1334.3 618.3L1332.3 620.1L1332.7 621.6L1335.2 622.3L1337.6 622.2L1340.0 622.0L1342.3 621.7L1344.2 621.5L1346.2 621.3L1348.2 621.1L1350.4 620.8L1352.6 620.3L1354.8 619.7L1357.1 619.1L1359.3 618.3L1361.5 617.6L1363.6 617.0L1364.9 616.2L1365.9 615.1L1366.3 613.7L1366.1 612.2L1365.4 610.9L1364.3 610.0L1362.8 609.5Z" fill="#b2b2b2"/>
<path d="M783.4 575.1L781.5 576.7L780.3 578.6L779.3 580.6L778.5 582.9L778.1 585.5L778.0 587.7L777.9 590.0L777.7 591.6L777.5 593.5L777.3 595.5L777.1 597.4L776.8 599.3L776.5 601.2L776.0 603.1L775.5 604.9L775.0 606.7L774.3 608.4L773.5 610.1L772.6 611.7L771.7 613.3L770.6 615.0L769.3 616.7L768.2 618.1L766.9 619.5L765.5 621.0L764.0 622.5L762.4 624.0L760.6 625.7L758.9 627.2L757.1 628.8L755.2 630.4L753.2 632.1L751.2 633.7L749.3 635.3L747.4 636.9L745.6 638.4L743.9 639.9L742.2 641.3L740.5 642.7L738.9 644.0L737.3 645.3L735.8 646.5L733.8 648.1L731.8 649.6L730.0 651.0L728.2 652.3L726.7 653.5L724.6 655.1L723.1 656.5L721.5 657.7L720.6 659.0L720.1 660.5L720.3 662.1L721.1 663.5L722.3 664.4L723.8 664.9L725.4 664.7L726.8 663.9L728.3 662.6L729.8 661.4L731.7 659.8L733.1 658.7L734.8 657.4L736.7 656.0L738.8 654.5L740.9 652.8L742.4 651.6L744.0 650.3L745.7 648.9L747.3 647.5L749.1 646.1L750.8 644.6L752.6 643.1L754.4 641.6L756.4 639.9L758.4 638.3L760.4 636.6L762.4 634.9L764.3 633.2L766.1 631.6L767.9 629.9L769.7 628.2L771.3 626.6L772.9 625.0L774.3 623.3L775.7 621.7L777.2 619.7L778.5 617.7L779.7 615.7L780.8 613.7L781.7 611.6L782.6 609.4L783.3 607.2L783.9 605.0L784.4 602.9L784.8 600.7L785.2 598.4L785.4 596.2L785.5 594.0L785.5 592.0L785.5 590.0L785.3 587.5L785.0 585.6L784.8 583.8L784.9 582.2L785.2 580.2L785.4 578.0L784.9 575.6Z" fill="#b2b2b2"/>
<path d="M725.1 655.2L722.8 654.7L720.5 654.2L718.3 653.7L716.1 653.2L713.9 652.7L711.7 652.1L709.5 651.5L707.5 650.8L705.5 650.2L703.5 649.5L701.5 648.7L699.4 648.0L697.4 647.2L695.3 646.3L693.3 645.5L691.2 644.5L689.2 643.6L687.1 642.6L685.0 641.6L683.0 640.5L681.0 639.5L678.9 638.4L677.0 637.3L675.0 636.2L673.1 635.1L671.1 633.9L669.2 632.7L667.4 631.6L665.6 630.4L664.0 629.2L662.5 628.1L660.6 626.6L658.9 625.2L657.4 623.7L655.9 622.3L654.5 620.7L653.2 619.1L651.9 617.4L650.6 615.6L649.4 613.6L648.2 611.7L646.9 609.8L645.7 608.0L644.1 605.7L642.5 603.7L641.1 601.9L640.0 600.4L638.8 598.8L637.9 597.6L636.3 596.4L634.7 596.9L634.3 598.9L634.4 600.7L635.0 602.9L635.8 605.0L636.8 607.2L637.9 609.5L639.3 612.0L640.2 613.8L641.3 615.8L642.5 617.9L643.8 620.0L645.3 622.2L646.8 624.2L648.4 626.1L650.0 627.8L651.7 629.5L653.5 631.2L655.4 632.9L657.5 634.5L659.3 635.8L661.1 637.1L663.0 638.4L664.9 639.6L666.9 640.8L669.0 642.0L671.0 643.2L673.0 644.4L675.1 645.5L677.1 646.6L679.3 647.7L681.4 648.8L683.6 649.9L685.7 650.9L687.9 651.9L690.1 652.9L692.2 653.8L694.3 654.7L696.5 655.5L698.7 656.3L700.8 657.1L702.9 657.8L705.0 658.5L707.2 659.2L709.6 659.9L711.9 660.5L714.3 661.1L716.5 661.6L718.8 662.1L721.0 662.6L723.2 663.1L724.8 663.2L726.3 662.6L727.5 661.5L728.1 660.1L728.2 658.5L727.6 657.0L726.5 655.9Z" fill="#b2b2b2"/>
<path d="M646.3 624.1L644.0 624.9L641.7 625.6L639.3 626.3L637.0 627.0L634.6 627.8L632.6 628.5L630.4 629.1L628.3 629.8L626.1 630.5L624.0 631.3L621.9 632.1L619.5 633.0L617.2 633.9L614.8 634.9L612.5 636.1L610.2 637.5L608.2 639.1L606.4 640.8L604.8 642.6L603.4 644.4L602.1 646.3L600.8 648.6L599.9 651.0L599.2 653.1L598.8 654.7L598.4 656.4L598.5 657.9L599.8 658.8L601.3 658.4L602.8 657.0L604.0 655.5L605.2 653.8L606.5 652.0L607.9 650.4L609.1 649.2L610.4 647.8L611.8 646.5L613.3 645.3L614.8 644.2L616.4 643.2L618.2 642.3L620.3 641.4L622.5 640.5L624.8 639.6L626.7 638.9L628.7 638.2L630.8 637.5L632.9 636.8L635.0 636.2L637.1 635.5L639.4 634.8L641.8 634.0L644.1 633.3L646.4 632.6L648.7 631.9L650.1 631.1L651.1 629.9L651.5 628.4L651.4 626.8L650.6 625.4L649.4 624.4L647.9 624.0Z" fill="#b2b2b2"/>
<path d="M720.3 660.5L719.6 662.6L718.9 664.9L718.2 667.1L717.5 669.3L717.0 671.3L716.2 673.7L715.5 676.0L714.8 678.7L714.6 681.8L714.9 684.4L715.5 686.8L716.3 689.1L717.2 691.2L718.2 693.2L719.5 695.6L721.0 697.9L722.5 699.9L724.0 701.5L725.6 703.2L727.0 704.4L729.0 705.1L730.3 704.2L730.2 702.1L729.5 700.4L728.7 698.5L727.9 696.6L726.9 694.5L726.0 692.3L725.1 690.1L724.5 688.3L723.9 686.4L723.3 684.6L722.9 682.9L722.7 681.6L722.8 680.0L723.2 678.2L723.9 676.1L724.7 673.7L725.3 671.6L726.0 669.5L726.6 667.3L727.3 665.1L728.0 662.9L728.2 661.3L727.8 659.8L726.8 658.6L725.4 657.8L723.8 657.6L722.3 658.1L721.1 659.1Z" fill="#b2b2b2"/>
<path d="M716.5 680.2L714.1 680.9L711.7 681.6L709.5 682.2L707.3 682.8L705.2 683.2L703.0 683.5L701.0 683.5L698.9 683.5L696.6 683.4L694.2 683.2L691.9 682.9L689.6 682.5L687.4 682.2L685.3 681.8L683.2 681.3L681.1 680.8L679.1 680.2L677.0 679.5L675.0 678.9L673.0 678.2L670.8 677.3L668.5 676.5L666.3 675.6L664.1 674.7L662.0 673.8L660.0 673.0L657.8 672.1L655.7 671.2L653.6 670.3L651.4 669.5L648.8 669.3L647.9 670.7L649.1 673.0L650.7 674.7L652.5 676.3L654.5 677.8L656.7 679.3L658.7 680.5L660.8 681.7L663.1 682.9L665.4 683.9L667.9 684.9L670.3 685.8L672.4 686.5L674.5 687.3L676.7 687.9L679.0 688.6L681.3 689.2L683.6 689.7L686.0 690.2L688.4 690.5L690.9 690.9L693.4 691.2L696.0 691.4L698.6 691.6L701.1 691.6L703.6 691.5L706.5 691.2L709.1 690.7L711.7 690.0L714.0 689.3L716.3 688.7L718.5 688.1L719.9 687.4L721.0 686.2L721.5 684.7L721.4 683.1L720.7 681.7L719.5 680.7L718.1 680.2Z" fill="#b2b2b2"/>
<path d="M655.2 713.0L657.5 712.8L659.8 712.7L662.1 712.6L664.3 712.5L666.6 712.5L668.6 712.5L670.7 712.7L672.9 712.9L675.2 713.1L677.5 713.3L679.7 713.5L682.0 713.6L684.4 713.7L686.7 713.7L689.0 713.7L691.2 713.6L693.3 713.5L696.1 713.2L698.5 712.7L700.8 712.1L703.0 710.8L703.0 709.2L700.6 708.1L698.3 707.7L695.9 707.5L693.4 707.2L691.4 706.9L689.3 706.7L687.1 706.5L684.8 706.2L682.5 706.0L680.3 705.9L678.1 705.7L675.8 705.5L673.6 705.3L671.3 705.1L669.0 705.0L666.7 704.9L664.2 704.9L661.7 705.0L659.4 705.1L657.1 705.2L654.8 705.4L653.4 705.7L652.2 706.6L651.4 707.9L651.2 709.4L651.6 710.8L652.5 712.0L653.7 712.8Z" fill="#b2b2b2"/>
<path d="M762.6 667.8L762.0 670.1L762.2 672.3L762.5 674.4L762.9 676.5L763.4 678.6L763.9 680.7L764.5 682.9L765.2 685.0L765.9 687.1L766.6 689.1L767.6 691.3L768.7 693.3L769.6 695.1L770.6 696.9L771.6 698.1L773.0 698.9L774.5 699.0L776.1 698.6L777.3 697.6L778.0 696.2L778.2 694.6L777.7 693.1L776.8 691.3L775.8 689.5L774.9 687.8L774.0 685.9L773.3 684.2L772.5 682.3L771.7 680.4L770.8 678.3L769.9 676.4L769.0 674.5L768.1 672.6L767.1 670.7L765.9 668.9L764.1 667.2Z" fill="#b2b2b2"/>
<path d="M774.2 694.2C777.8 692.1 781.0 690.1 785.0 688.0C789.0 685.9 793.6 683.5 798.3 681.7C803.1 679.8 807.8 678.2 813.3 677.0C818.9 675.8 825.6 675.2 831.7 674.7C837.8 674.1 843.6 673.6 850.0 673.7C856.4 673.7 863.2 674.4 870.0 675.0C876.8 675.6 883.9 676.4 890.8 677.5C897.8 678.6 904.0 680.4 911.7 681.7C919.3 682.9 929.7 684.2 936.7 685.0C943.6 685.8 947.8 686.2 953.3 686.3C958.9 686.5 964.4 686.3 970.0 685.8C975.6 685.3 981.1 684.6 986.7 683.3C992.2 682.1 997.8 680.3 1003.3 678.3C1008.9 676.4 1014.4 674.2 1020.0 671.7C1025.6 669.2 1031.1 666.1 1036.7 663.3C1042.2 660.6 1047.8 657.5 1053.3 655.0C1058.9 652.5 1064.4 650.0 1070.0 648.3C1075.6 646.7 1080.8 645.8 1086.7 645.0C1092.5 644.2 1098.6 643.9 1105.0 643.7C1111.4 643.4 1118.3 643.7 1125.0 643.7C1131.7 643.7 1138.6 644.0 1145.0 643.7C1151.4 643.3 1157.5 642.6 1163.3 641.7C1169.2 640.8 1175.0 639.6 1180.0 638.3C1185.0 637.1 1188.9 635.6 1193.3 634.2" fill="none" stroke="#b2b2b2" stroke-width="8.1" stroke-linecap="round" stroke-linejoin="round"/>
<path d="M769.6 695.1L768.8 697.2L767.9 699.2L767.1 701.2L766.3 703.1L765.5 704.9L764.6 706.8L763.7 708.6L762.8 710.3L761.8 712.0L760.8 713.6L759.7 715.3L758.5 716.9L757.2 718.5L756.0 719.9L754.7 721.3L753.3 722.6L751.9 723.8L750.4 724.9L748.9 725.8L747.4 726.7L745.6 727.5L743.7 728.2L741.8 728.9L739.8 729.3L737.9 729.6L735.9 729.8L733.7 729.9L731.6 729.9L729.4 729.8L727.5 729.7L725.7 729.4L724.0 728.9L722.1 728.3L720.0 727.8L717.5 728.0L716.8 729.4L718.1 731.4L719.7 732.8L721.5 734.2L723.5 735.4L725.8 736.3L728.3 737.0L730.9 737.5L733.5 737.8L736.2 737.9L738.8 737.7L741.4 737.3L743.9 736.7L746.4 735.9L748.7 735.0L751.0 734.0L753.1 732.8L755.1 731.5L756.9 730.1L758.7 728.6L760.3 727.1L762.0 725.4L763.5 723.6L764.9 721.8L766.3 719.9L767.5 718.1L768.8 716.2L769.9 714.2L770.9 712.3L771.9 710.4L772.8 708.4L773.8 706.3L774.6 704.3L775.5 702.2L776.3 700.2L777.1 698.2L777.4 696.6L777.1 695.1L776.2 693.8L774.9 692.9L773.3 692.6L771.8 692.9L770.5 693.8Z" fill="#b2b2b2"/>
<path d="M842.9 684.7L844.8 686.0L846.6 687.3L848.5 688.6L850.3 689.9L852.2 691.1L854.0 692.4L855.9 693.7L857.7 695.0L859.5 696.3L861.4 697.7L863.3 699.0L865.2 700.4L867.1 701.8L869.0 703.2L870.8 704.5L872.6 705.9L874.3 707.3L875.9 708.6L877.5 710.1L879.1 711.6L880.6 713.1L882.1 714.7L883.6 716.3L885.1 717.9L886.7 719.4L888.2 721.0L890.0 722.6L891.7 724.2L893.5 725.8L895.2 727.4L897.1 729.0L899.0 730.6L901.1 732.2L903.1 733.6L905.3 735.1L907.6 736.6L909.8 738.0L912.1 739.4L914.2 740.7L916.2 742.0L918.0 743.1L920.3 744.7L922.2 746.1L924.1 747.4L926.1 748.7L928.3 750.0L930.7 751.1L933.1 752.1L935.6 753.0L938.2 753.8L940.8 754.4L943.1 754.9L945.4 755.3L947.8 755.6L950.2 755.9L952.5 756.1L954.9 756.2L957.3 756.2L959.7 756.2L962.2 756.1L964.5 755.9L966.6 755.7L968.6 755.5L971.1 755.1L973.2 754.7L975.0 754.4L976.6 754.1L978.8 753.8L980.9 753.7L983.2 752.8L983.4 751.2L981.4 749.8L979.2 749.1L976.7 748.6L974.6 748.5L972.6 748.5L970.5 748.5L968.1 748.5L966.2 748.6L964.0 748.6L961.8 748.7L959.5 748.8L957.3 748.8L955.1 748.8L953.0 748.7L950.8 748.5L948.7 748.3L946.5 748.0L944.5 747.6L942.5 747.2L940.2 746.6L938.0 746.0L935.8 745.2L933.7 744.3L931.7 743.4L929.9 742.4L928.3 741.3L926.6 740.1L924.5 738.6L922.0 736.9L920.2 735.7L918.2 734.5L916.0 733.1L913.8 731.7L911.5 730.3L909.4 728.9L907.3 727.5L905.5 726.2L903.6 724.8L901.8 723.3L900.1 721.8L898.4 720.3L896.8 718.8L895.1 717.2L893.4 715.6L891.9 714.2L890.4 712.7L889.0 711.2L887.5 709.6L885.9 708.0L884.3 706.3L882.6 704.7L880.7 703.0L879.0 701.5L877.2 700.1L875.3 698.7L873.4 697.2L871.5 695.8L869.6 694.4L867.6 693.0L865.7 691.6L863.9 690.3L862.0 689.0L860.1 687.6L858.3 686.3L856.4 685.0L854.5 683.8L852.7 682.5L850.8 681.2L849.0 679.9L847.1 678.7L845.8 678.1L844.3 678.1L843.0 678.6L842.0 679.6L841.4 680.9L841.4 682.4L841.9 683.7Z" fill="#b2b2b2"/>
<path d="M870.2 702.1L871.4 704.2L872.7 706.4L873.9 708.5L875.1 710.5L876.2 712.5L877.1 714.5L878.0 716.5L878.7 718.7L879.5 720.9L880.1 723.2L880.6 725.5L881.1 727.8L881.5 730.1L881.8 732.3L882.1 734.3L882.2 736.2L882.3 738.3L882.4 740.5L882.5 742.7L882.6 744.9L883.0 747.2L884.2 749.5L885.8 749.7L887.3 747.6L888.1 745.5L888.7 743.3L889.2 741.1L889.7 738.8L890.0 736.5L890.2 734.1L890.2 731.7L890.0 729.0L889.6 726.3L889.0 723.6L888.4 721.0L887.7 718.5L886.9 715.9L886.0 713.5L885.0 711.0L883.8 708.6L882.6 706.3L881.4 704.2L880.1 702.1L878.9 700.0L877.8 697.9L876.7 696.6L875.2 695.9L873.5 695.7L871.9 696.2L870.6 697.3L869.9 698.8L869.7 700.5Z" fill="#b2b2b2"/>
<path d="M880.9 637.7L879.0 639.0L877.6 640.6L876.2 642.5L875.2 644.8L874.6 647.4L874.7 650.1L875.2 652.6L876.0 655.0L877.0 657.3L878.1 659.5L879.3 661.4L880.6 663.5L882.0 665.5L883.5 667.4L884.8 669.2L885.9 670.7L887.3 672.7L888.6 674.4L889.8 675.9L890.9 677.4L892.1 678.5L893.6 679.0L895.2 678.9L896.6 678.2L897.7 677.0L898.2 675.5L898.1 674.0L897.4 672.6L896.2 671.0L895.0 669.5L893.8 667.9L892.4 665.9L891.3 664.4L890.0 662.6L888.6 660.8L887.3 658.9L886.2 657.2L885.2 655.5L884.1 653.6L883.1 651.8L882.3 650.2L881.7 648.8L881.4 647.6L881.4 646.3L881.6 644.8L882.1 642.9L882.7 640.8L882.4 638.3Z" fill="#b2b2b2"/>
<path d="M830.0 722.4L828.6 724.4L827.7 726.7L827.0 729.2L826.8 731.9L826.9 734.5L827.4 737.2L828.2 739.9L829.5 742.6L830.8 744.7L832.3 746.7L834.0 748.6L835.7 750.4L837.5 752.2L839.1 753.7L840.8 755.2L842.6 756.7L844.4 758.1L846.1 759.5L847.9 760.9L850.1 762.4L852.4 763.9L854.5 765.2L856.3 766.5L857.2 767.1L857.7 768.3L858.3 771.0L860.9 774.2L863.0 775.6L864.9 776.7L867.0 777.7L869.3 778.8L871.7 779.8L874.1 780.8L876.5 781.7L878.8 782.5L881.1 783.3L883.5 784.0L885.8 784.7L888.2 785.3L890.5 785.9L892.9 786.5L895.2 787.0L897.5 787.6L899.8 788.2L902.1 788.7L904.4 789.3L906.7 789.8L909.0 790.3L911.3 790.8L913.6 791.3L915.9 791.8L917.3 791.8L918.6 791.3L919.6 790.4L920.1 789.1L920.2 787.7L919.7 786.4L918.7 785.4L917.4 784.9L915.1 784.4L912.8 783.8L910.6 783.3L908.3 782.8L906.0 782.3L903.7 781.8L901.5 781.3L899.2 780.7L896.9 780.2L894.6 779.6L892.2 779.0L890.0 778.4L887.7 777.8L885.5 777.2L883.3 776.5L881.2 775.8L879.0 775.0L876.7 774.1L874.4 773.2L872.2 772.3L870.0 771.3L868.2 770.4L866.6 769.5L865.8 769.1L864.7 767.8L864.5 766.1L862.8 762.9L860.6 760.8L858.4 759.3L856.2 757.9L854.1 756.5L852.1 755.1L850.5 753.9L848.8 752.6L847.1 751.2L845.5 749.8L843.9 748.5L842.5 747.1L840.8 745.5L839.2 743.8L837.8 742.2L836.6 740.6L835.5 739.1L834.5 737.2L833.7 735.3L833.0 733.4L832.6 731.5L832.3 729.6L832.3 727.5L832.3 725.1L831.6 722.6Z" fill="#b2b2b2"/>
<path d="M831.3 737.1L829.1 736.8L827.0 736.6L824.8 736.3L822.6 736.1L820.4 735.9L818.1 735.7L815.6 735.4L813.1 735.2L810.6 735.1L808.2 735.2L805.4 735.6L802.8 736.1L800.4 736.9L798.1 737.9L795.7 739.4L794.0 741.2L792.9 743.5L793.8 744.8L796.3 744.5L798.2 743.7L800.2 743.1L802.0 742.9L804.0 742.6L806.2 742.5L808.5 742.5L810.4 742.6L812.6 742.8L814.9 743.0L817.3 743.2L819.6 743.4L821.8 743.7L824.0 743.9L826.1 744.1L828.3 744.4L830.4 744.6L831.9 744.5L833.2 743.8L834.2 742.7L834.6 741.3L834.5 739.8L833.8 738.5L832.7 737.5Z" fill="#b2b2b2"/>
<path d="M793.8 656.3L796.2 657.1L798.5 657.2L800.7 657.1L803.1 656.9L805.4 656.5L807.9 656.0L810.3 655.3L812.8 654.4L815.3 653.4L817.7 652.3L820.0 651.0L822.2 649.8L824.5 648.2L826.8 646.5L828.8 644.7L830.7 642.8L832.4 640.8L833.8 638.6L834.9 636.4L835.7 634.3L836.4 632.5L837.1 630.7L837.4 629.1L837.1 627.6L836.2 626.3L834.9 625.4L833.3 625.1L831.8 625.4L830.5 626.3L829.6 627.6L828.8 629.6L828.1 631.5L827.5 633.1L826.8 634.6L825.9 635.9L824.7 637.3L823.3 638.7L821.6 640.2L819.8 641.6L817.8 642.9L816.0 644.0L814.0 645.0L811.9 646.0L809.7 647.1L807.5 648.1L805.5 649.0L803.5 649.8L801.6 650.6L799.6 651.3L797.5 652.1L795.4 653.0L793.5 654.7Z" fill="#b2b2b2"/>
<path d="M912.0 597.0C904.7 599.7 897.8 602.3 890.0 605.0C882.2 607.7 873.3 610.7 865.0 613.3C856.7 616.0 848.3 619.0 840.0 620.8C831.7 622.6 823.3 624.0 815.0 624.2C806.7 624.4 795.6 623.0 790.0 622.0C784.4 621.0 784.4 619.6 781.7 618.3" fill="none" stroke="#b2b2b2" stroke-width="7.6" stroke-linecap="round" stroke-linejoin="round"/>
<path d="M1220.7 657.1L1222.8 658.7L1225.0 659.6L1227.3 660.3L1229.7 660.8L1231.7 661.1L1233.6 661.4L1235.7 661.6L1238.0 661.6L1240.5 661.5L1242.8 661.1L1245.1 660.6L1247.4 660.1L1249.7 659.4L1252.1 658.7L1254.5 658.0L1256.6 657.4L1258.7 656.7L1260.9 656.0L1263.1 655.3L1265.3 654.5L1267.5 653.8L1269.7 653.0L1271.9 652.1L1274.1 651.2L1276.3 650.4L1278.4 649.5L1280.5 648.6L1282.6 647.9L1284.6 647.2L1286.7 646.5L1288.7 645.9L1290.8 645.4L1292.8 644.8L1294.9 644.4L1296.9 644.0L1298.9 643.7L1300.9 643.4L1302.9 643.2L1305.0 643.1L1307.0 643.1L1309.0 643.0L1311.0 643.1L1313.1 643.2L1315.1 643.4L1317.1 643.6L1319.2 643.9L1321.2 644.2L1323.2 644.6L1325.2 645.0L1327.2 645.6L1329.2 646.2L1331.2 646.9L1333.3 647.7L1335.3 648.5L1337.5 649.4L1339.6 650.3L1341.8 651.2L1343.9 652.1L1346.0 653.1L1348.2 654.0L1350.4 655.0L1352.5 656.0L1354.6 656.9L1356.7 657.9L1359.1 658.9L1361.4 659.9L1363.7 660.9L1365.9 661.9L1368.0 662.9L1370.1 663.7L1372.3 664.6L1374.4 665.4L1376.5 666.2L1378.5 666.8L1380.7 667.3L1383.4 667.7L1385.9 667.8L1388.2 667.6L1390.7 666.6L1391.0 665.0L1388.9 663.4L1386.7 662.6L1384.6 661.8L1382.6 661.0L1381.0 660.2L1379.3 659.4L1377.5 658.4L1375.5 657.4L1373.3 656.3L1371.3 655.4L1369.1 654.5L1366.9 653.5L1364.7 652.5L1362.3 651.5L1360.0 650.5L1357.9 649.6L1355.8 648.6L1353.7 647.6L1351.5 646.6L1349.3 645.7L1347.1 644.7L1344.9 643.8L1342.8 642.9L1340.6 641.9L1338.5 641.0L1336.3 640.1L1334.0 639.3L1331.7 638.5L1329.4 637.8L1327.1 637.2L1324.9 636.7L1322.6 636.2L1320.4 635.8L1318.1 635.5L1315.9 635.3L1313.6 635.1L1311.3 635.0L1309.1 634.9L1306.8 635.0L1304.6 635.0L1302.3 635.2L1300.0 635.4L1297.8 635.7L1295.5 636.0L1293.2 636.5L1291.0 637.0L1288.7 637.5L1286.5 638.1L1284.3 638.8L1282.1 639.5L1279.8 640.2L1277.6 641.1L1275.4 642.0L1273.2 642.9L1271.1 643.7L1269.0 644.6L1266.9 645.4L1264.8 646.1L1262.7 646.9L1260.5 647.6L1258.4 648.3L1256.3 649.0L1254.2 649.7L1252.2 650.3L1249.8 651.0L1247.6 651.6L1245.3 652.2L1243.2 652.8L1241.2 653.2L1239.5 653.5L1237.5 653.8L1235.7 654.0L1233.9 654.1L1232.1 654.1L1230.3 654.2L1228.0 654.3L1225.7 654.4L1223.4 654.6L1220.9 655.5Z" fill="#b2b2b2"/>
<path d="M1243.9 658.7L1243.1 661.0L1242.2 663.3L1241.4 665.7L1240.6 668.2L1240.0 670.6L1239.5 673.1L1239.1 675.6L1238.9 678.0L1238.9 680.5L1239.6 683.1L1241.1 683.5L1243.0 681.5L1244.0 679.3L1245.0 677.1L1245.8 674.9L1246.7 672.7L1247.5 670.5L1248.5 668.3L1249.3 666.0L1250.2 663.6L1251.1 661.3L1251.3 659.8L1250.9 658.4L1250.1 657.2L1248.8 656.4L1247.3 656.2L1245.9 656.6L1244.7 657.4Z" fill="#b2b2b2"/>
<path d="M1362.1 659.0L1362.9 661.2L1363.8 663.3L1364.7 665.4L1365.5 667.5L1366.1 669.5L1366.7 671.6L1367.3 673.8L1367.8 675.9L1368.3 678.1L1368.8 680.4L1369.2 682.4L1369.5 684.5L1369.8 686.7L1370.2 689.0L1370.7 691.4L1372.0 693.7L1373.6 693.7L1374.9 691.4L1375.4 689.0L1375.8 686.7L1376.1 684.3L1376.2 681.9L1376.2 679.6L1376.0 676.9L1375.6 674.4L1375.2 671.9L1374.5 669.5L1373.9 667.1L1373.1 664.8L1372.2 662.5L1371.3 660.3L1370.4 658.1L1369.6 656.0L1368.7 654.7L1367.4 653.8L1365.9 653.5L1364.3 653.7L1363.0 654.6L1362.1 655.9L1361.8 657.4Z" fill="#b2b2b2"/>
<path d="M964.2 686.0L963.0 687.7L961.8 689.3L960.7 691.0L959.5 692.7L958.4 694.3L957.2 696.0L956.0 697.6L954.8 699.3L953.6 701.2L952.5 703.0L951.4 705.4L950.4 707.7L949.5 710.1L948.9 712.4L948.5 715.0L948.7 717.3L949.5 719.5L951.1 719.8L952.7 718.0L953.5 716.2L954.5 714.3L955.4 712.7L956.6 710.9L957.8 708.9L959.1 707.0L960.2 705.5L961.3 704.0L962.5 702.4L963.8 700.7L965.0 699.0L966.2 697.3L967.3 695.7L968.5 694.0L969.7 692.3L970.8 690.7L971.5 689.2L971.5 687.6L970.9 686.2L969.8 685.0L968.4 684.4L966.8 684.3L965.3 684.9Z" fill="#b2b2b2"/>
<path d="M1081.9 650.9L1083.3 652.6L1084.7 654.2L1086.1 655.9L1087.4 657.5L1088.8 659.1L1090.1 660.8L1091.5 662.6L1092.9 664.5L1094.3 666.3L1095.7 668.2L1097.0 670.2L1098.2 672.1L1099.3 674.1L1100.5 676.2L1101.6 678.4L1102.6 680.7L1103.7 682.9L1104.6 685.0L1105.5 687.0L1106.3 688.9L1107.1 690.9L1107.9 692.9L1108.8 694.9L1109.7 696.9L1111.0 699.1L1112.3 701.3L1113.7 703.5L1115.2 705.6L1117.0 707.7L1118.5 709.4L1120.2 711.0L1122.0 712.6L1123.8 714.1L1125.9 715.6L1128.0 716.9L1130.2 718.0L1132.6 719.1L1135.0 720.0L1137.5 720.8L1140.1 721.5L1142.7 722.0L1145.0 722.3L1147.3 722.5L1149.7 722.5L1152.1 722.5L1154.4 722.4L1156.6 722.2L1158.8 722.0L1161.3 721.7L1163.9 721.1L1166.3 720.4L1168.6 719.7L1170.7 718.9L1172.6 718.2L1175.2 717.0L1177.3 715.8L1179.1 714.4L1180.6 712.4L1180.0 710.9L1177.5 710.6L1175.3 711.0L1173.2 711.4L1170.7 711.8L1168.8 712.2L1166.7 712.6L1164.5 713.0L1162.3 713.4L1160.1 713.7L1157.9 714.0L1155.9 714.2L1153.9 714.3L1151.8 714.4L1149.8 714.4L1147.7 714.4L1145.8 714.2L1144.0 714.0L1141.9 713.6L1139.8 713.0L1137.7 712.4L1135.7 711.6L1133.8 710.7L1132.0 709.8L1130.3 708.8L1128.7 707.7L1127.2 706.4L1125.7 705.1L1124.3 703.7L1123.0 702.3L1121.6 700.6L1120.3 698.9L1119.2 697.1L1118.0 695.1L1116.9 693.1L1116.1 691.5L1115.3 689.7L1114.6 687.9L1113.8 685.9L1113.0 683.8L1112.0 681.7L1111.0 679.5L1110.0 677.2L1108.9 674.9L1107.7 672.5L1106.4 670.2L1105.1 667.9L1103.8 665.7L1102.3 663.6L1100.9 661.6L1099.4 659.6L1098.0 657.7L1096.5 655.8L1095.1 654.0L1093.7 652.3L1092.3 650.6L1090.9 649.0L1089.5 647.4L1088.1 645.7L1086.9 644.7L1085.3 644.3L1083.8 644.5L1082.4 645.2L1081.4 646.5L1081.0 648.0L1081.1 649.6Z" fill="#b2b2b2"/>
<path d="M1106.7 695.4L1105.0 696.9L1103.3 698.4L1101.7 699.8L1100.1 701.1L1098.6 702.4L1097.0 703.5L1095.0 704.8L1093.0 706.1L1091.1 707.3L1089.1 708.4L1087.2 709.4L1085.4 710.2L1083.5 710.9L1081.5 711.6L1079.4 712.3L1077.4 713.9L1077.6 715.5L1080.0 716.3L1082.2 716.4L1084.5 716.4L1086.9 716.1L1089.4 715.6L1091.9 714.8L1094.4 713.8L1096.7 712.6L1099.1 711.3L1101.3 709.8L1103.2 708.4L1105.0 707.0L1106.7 705.5L1108.4 704.1L1110.0 702.6L1111.6 701.2L1112.6 700.1L1113.0 698.6L1112.8 697.2L1112.1 695.9L1110.9 694.9L1109.5 694.5L1108.0 694.7Z" fill="#b2b2b2"/>
<path d="M1047.1 693.0L1044.4 693.3L1042.1 694.1L1039.7 695.4L1037.6 697.2L1035.9 699.4L1034.6 701.8L1033.6 704.4L1033.0 707.0L1032.7 709.6L1032.7 712.4L1033.1 715.2L1033.9 718.0L1034.9 720.1L1036.1 722.1L1037.5 724.0L1038.9 725.8L1040.6 727.6L1042.1 729.1L1043.7 730.7L1045.5 732.3L1047.3 733.8L1049.2 735.3L1051.1 736.7L1052.9 738.1L1054.8 739.4L1056.8 740.7L1058.9 742.0L1061.1 743.2L1063.4 744.3L1065.6 745.2L1067.8 746.0L1070.0 746.7L1072.3 747.4L1074.5 748.1L1076.7 748.8L1078.8 749.5L1080.3 749.6L1081.7 749.2L1082.9 748.3L1083.6 747.0L1083.8 745.5L1083.4 744.1L1082.5 742.9L1081.2 742.2L1079.0 741.5L1076.7 740.8L1074.5 740.2L1072.3 739.5L1070.3 738.8L1068.4 738.1L1066.6 737.4L1064.6 736.4L1062.7 735.4L1060.9 734.3L1059.1 733.1L1057.3 731.9L1055.6 730.6L1053.8 729.3L1052.1 727.9L1050.5 726.5L1048.9 725.1L1047.4 723.7L1046.1 722.4L1044.7 720.8L1043.5 719.4L1042.4 718.0L1041.6 716.6L1041.1 715.4L1040.6 713.6L1040.3 711.8L1040.3 709.9L1040.4 708.0L1040.6 706.2L1041.1 704.4L1041.7 702.6L1042.4 701.1L1043.4 699.8L1044.9 698.3L1046.6 696.7L1047.9 694.3Z" fill="#b2b2b2"/>
<path d="M1036.3 711.2L1034.2 711.0L1032.2 710.7L1030.1 710.4L1027.9 710.2L1025.7 710.0L1023.4 709.9L1021.2 709.9L1019.0 709.9L1016.8 710.0L1014.6 710.2L1012.3 710.5L1010.0 711.0L1007.8 711.5L1005.5 712.2L1003.2 712.9L1001.0 713.9L998.8 714.9L996.7 716.1L994.7 717.5L992.8 719.0L991.1 720.6L989.5 722.3L988.1 724.1L987.0 726.4L988.0 727.6L990.5 727.2L992.6 726.2L994.5 725.1L996.4 724.0L998.2 723.1L1000.0 722.2L1001.8 721.4L1003.8 720.7L1005.7 720.0L1007.7 719.4L1009.7 718.8L1011.6 718.4L1013.5 718.0L1015.4 717.8L1017.3 717.6L1019.3 717.5L1021.3 717.5L1023.2 717.5L1025.2 717.5L1027.1 717.7L1029.1 718.0L1031.2 718.2L1033.3 718.5L1035.4 718.8L1036.9 718.7L1038.2 718.0L1039.1 716.9L1039.6 715.5L1039.5 714.0L1038.8 712.7L1037.7 711.7Z" fill="#b2b2b2"/>
<path d="M1311.2 693.5L1309.7 695.3L1308.2 697.2L1306.8 699.0L1305.3 700.8L1303.8 702.5L1302.2 704.3L1300.7 706.1L1299.2 707.7L1297.8 709.0L1296.3 710.1L1294.6 711.1L1292.6 711.9L1290.5 712.7L1288.3 713.3L1286.0 713.8L1284.2 714.0L1282.2 714.1L1280.2 714.2L1278.0 714.2L1275.7 714.2L1273.3 714.2L1271.2 714.2L1269.1 714.2L1266.8 714.2L1264.5 714.2L1262.2 714.2L1259.9 714.4L1257.8 714.7L1255.1 715.3L1252.7 716.1L1250.6 717.0L1248.7 718.1L1246.9 719.2L1244.6 721.2L1243.2 723.3L1242.4 725.8L1243.6 726.9L1246.0 726.1L1247.8 725.0L1249.8 724.1L1251.2 723.7L1252.9 723.1L1254.8 722.7L1256.7 722.3L1258.9 722.0L1260.5 721.9L1262.4 721.8L1264.5 721.8L1266.7 721.8L1269.0 721.8L1271.3 721.8L1273.4 721.8L1275.7 721.8L1277.9 721.8L1280.2 721.8L1282.6 721.7L1285.0 721.6L1287.3 721.2L1290.1 720.7L1292.7 719.9L1295.4 719.0L1297.9 717.9L1300.4 716.5L1302.7 714.9L1304.6 713.0L1306.4 711.1L1308.0 709.3L1309.5 707.5L1311.1 705.7L1312.7 703.8L1314.2 701.9L1315.6 700.1L1317.1 698.2L1317.8 696.9L1317.9 695.4L1317.5 694.0L1316.5 692.9L1315.2 692.2L1313.8 692.1L1312.3 692.5Z" fill="#b2b2b2"/>
</g>
<g id="cereb">
<path d="M915.5 787.2C923.7 786.1 932.6 784.9 940.0 784.0C947.4 783.1 951.1 782.9 960.0 781.7C968.9 780.5 983.7 779.1 993.3 776.7C1002.9 774.3 1009.3 770.9 1017.5 767.5C1025.7 764.1 1034.2 759.8 1042.5 756.2C1050.8 752.7 1061.2 748.3 1067.5 746.2C1073.8 744.2 1075.8 744.6 1080.0 743.8C1088.3 745.0 1092.5 746.4 1105.0 747.5C1117.5 748.6 1140.4 749.6 1155.0 750.6C1169.6 751.6 1177.1 753.4 1192.5 753.8C1207.9 754.1 1230.0 753.0 1247.5 753.0C1265.0 753.0 1282.9 754.1 1297.5 753.8C1312.1 753.4 1324.4 751.6 1335.0 750.6C1345.6 749.6 1352.3 748.5 1361.0 747.5C1361.8 750.7 1363.2 753.9 1363.5 757.0C1363.8 760.1 1363.6 760.8 1363.0 766.0C1362.4 771.2 1362.2 780.5 1360.0 788.0C1357.8 795.5 1354.4 803.3 1349.5 811.0C1344.6 818.7 1337.9 827.0 1330.5 834.0C1323.1 841.0 1314.6 847.4 1305.0 853.0C1295.4 858.6 1282.2 864.2 1273.0 867.5C1263.8 870.8 1258.0 871.2 1250.0 873.0C1242.0 874.8 1233.3 876.7 1225.0 878.0C1216.7 879.3 1208.3 880.2 1200.0 881.0C1191.7 881.8 1181.4 882.2 1175.0 882.5C1168.6 882.8 1166.0 882.8 1161.5 883.0C1156.8 892.0 1151.5 900.9 1147.5 910.0C1143.5 919.1 1140.4 928.8 1137.5 937.5C1134.6 946.2 1132.9 953.3 1130.0 962.5C1127.1 971.7 1122.1 986.7 1120.0 992.5C1117.9 998.3 1118.3 995.8 1117.5 997.5C1100.6 998.9 1080.7 999.6 1066.7 1001.7C1052.7 1003.8 1045.0 1007.4 1033.3 1010.0C1021.6 1012.6 1008.6 1014.8 996.3 1017.2C996.3 1011.5 995.8 1008.3 996.2 1000.0C996.7 991.7 997.9 979.2 998.8 967.5C999.6 955.8 1001.2 940.8 1001.2 930.0C1001.2 919.2 1001.0 910.8 998.8 902.5C996.5 894.2 993.5 888.3 987.5 880.0C981.5 871.7 971.7 862.9 962.5 852.5C953.3 842.1 940.3 828.4 932.5 817.5C924.7 806.6 921.2 797.3 915.5 787.2Z" fill="#231f20" stroke="#231f20" stroke-width="1" stroke-linejoin="round"/>
<path d="M925.5 793.0C931.4 792.1 936.2 791.0 943.3 790.3C950.4 789.6 960.5 789.3 968.3 788.6C976.1 787.9 985.4 785.9 990.0 786.0C994.6 786.1 994.0 788.0 996.0 789.0C1000.8 795.3 1003.9 801.1 1010.5 808.0C1017.1 814.9 1025.1 822.9 1035.5 830.5C1045.9 838.1 1058.4 846.3 1073.0 853.5C1087.6 860.7 1109.6 868.6 1123.0 873.5C1136.4 878.4 1143.3 879.8 1153.5 883.0C1149.4 891.2 1145.0 898.8 1141.2 907.5C1137.5 916.2 1134.4 925.8 1131.2 935.0C1128.1 944.2 1125.5 953.6 1122.5 962.5C1119.5 971.4 1116.5 979.8 1113.5 988.5C1097.9 990.2 1080.1 991.3 1066.7 993.5C1053.3 995.7 1043.9 999.4 1033.3 1001.7C1022.7 1004.0 1013.1 1005.6 1003.0 1007.5C1002.8 1005.0 1002.2 1006.7 1002.5 1000.0C1002.8 993.3 1004.2 979.2 1005.0 967.5C1005.8 955.8 1007.5 940.8 1007.5 930.0C1007.5 919.2 1007.3 911.2 1005.0 902.5C1002.7 893.8 999.8 886.5 993.8 877.5C987.7 868.5 977.9 859.2 968.8 848.8C959.6 838.3 946.0 824.3 938.8 815.0C931.5 805.7 929.9 800.3 925.5 793.0Z" fill="#87c3ff"/>
<path d="M1078.1 753.8C1087.1 754.2 1094.3 754.3 1105.0 755.0C1115.7 755.7 1130.0 757.4 1142.5 758.1C1155.0 758.8 1169.5 758.9 1180.0 759.4C1190.5 759.9 1197.1 760.6 1205.6 761.2C1201.2 762.5 1198.8 763.9 1192.5 765.0C1186.2 766.1 1175.8 767.5 1167.5 768.1C1159.2 768.7 1150.8 769.1 1142.5 768.8C1134.2 768.4 1125.8 767.7 1117.5 766.2C1109.2 764.8 1099.1 762.1 1092.5 760.0C1085.9 757.9 1082.9 755.8 1078.1 753.8Z" fill="#fa90b3" stroke="#fa90b3" stroke-width="0.6" stroke-linejoin="miter"/>
<path d="M1061.2 760.6C1067.5 761.0 1072.7 760.1 1080.0 761.9C1087.3 763.7 1096.7 769.0 1105.0 771.2C1113.3 773.5 1121.7 774.7 1130.0 775.6C1138.3 776.5 1146.7 776.9 1155.0 776.9C1163.3 776.9 1170.8 777.0 1180.0 775.6C1189.2 774.2 1200.8 770.6 1210.0 768.5C1219.2 766.4 1226.7 764.4 1235.0 763.1C1243.3 761.8 1253.7 761.2 1260.0 760.9C1266.3 760.6 1268.7 761.1 1273.0 761.2C1268.7 764.6 1266.3 767.8 1260.0 771.2C1253.7 774.7 1243.3 779.0 1235.0 781.9C1226.7 784.8 1218.3 787.0 1210.0 788.8C1201.7 790.5 1193.3 791.9 1185.0 792.5C1176.7 793.1 1167.1 792.9 1160.0 792.5C1152.9 792.1 1149.6 791.2 1142.5 790.0C1135.4 788.8 1125.8 787.3 1117.5 785.0C1109.2 782.7 1100.8 779.6 1092.5 776.2C1084.2 772.9 1072.7 767.6 1067.5 765.0C1062.3 762.4 1063.3 762.1 1061.2 760.6Z" fill="#fa90b3" stroke="#fa90b3" stroke-width="0.6" stroke-linejoin="miter"/>
<path d="M1045.0 766.2C1048.3 766.5 1051.2 766.1 1055.0 766.9C1058.8 767.7 1061.2 768.5 1067.5 771.2C1073.8 774.0 1084.2 779.6 1092.5 783.1C1100.8 786.6 1109.2 789.9 1117.5 792.5C1125.8 795.1 1134.2 797.2 1142.5 798.8C1150.8 800.3 1160.4 801.5 1167.5 801.9C1174.6 802.3 1177.9 801.9 1185.0 801.0C1192.1 800.1 1201.7 798.3 1210.0 796.2C1218.3 794.2 1226.7 791.7 1235.0 788.8C1243.3 785.8 1251.7 782.2 1260.0 778.8C1268.3 775.3 1278.8 770.7 1285.0 768.1C1291.2 765.5 1292.3 764.2 1297.5 763.1C1302.7 762.0 1310.0 761.9 1316.2 761.2C1312.1 764.2 1309.0 766.6 1303.8 770.0C1298.5 773.4 1292.3 777.7 1285.0 781.9C1277.7 786.1 1268.3 791.1 1260.0 795.0C1251.7 798.9 1243.3 802.3 1235.0 805.0C1226.7 807.7 1218.3 809.5 1210.0 811.0C1201.7 812.5 1193.3 813.7 1185.0 814.0C1176.7 814.3 1167.1 813.3 1160.0 812.8C1152.9 812.3 1149.6 812.5 1142.5 811.2C1135.4 810.0 1125.8 807.7 1117.5 805.0C1109.2 802.3 1100.8 798.8 1092.5 795.0C1084.2 791.2 1074.6 786.5 1067.5 782.5C1060.4 778.5 1053.8 774.0 1050.0 771.2C1046.2 768.5 1046.7 767.9 1045.0 766.2Z" fill="#fa90b3" stroke="#fa90b3" stroke-width="0.6" stroke-linejoin="miter"/>
<path d="M1021.9 775.6C1026.7 775.0 1031.6 773.0 1036.2 773.8C1040.9 774.5 1044.8 777.1 1050.0 780.0C1055.2 782.9 1060.4 787.2 1067.5 791.2C1074.6 795.3 1084.2 800.4 1092.5 804.4C1100.8 808.4 1109.2 812.4 1117.5 815.0C1125.8 817.6 1134.2 818.4 1142.5 819.8C1150.8 821.2 1160.4 822.8 1167.5 823.2C1174.6 823.6 1177.9 822.8 1185.0 822.3C1192.1 821.8 1201.7 821.4 1210.0 820.3C1218.3 819.2 1226.7 817.9 1235.0 815.6C1243.3 813.3 1251.7 809.9 1260.0 806.2C1268.3 802.6 1276.7 798.5 1285.0 793.8C1293.3 789.0 1302.7 782.5 1310.0 777.5C1317.3 772.5 1323.8 767.0 1328.8 763.8C1333.7 760.5 1335.9 759.9 1339.4 758.0C1338.8 759.9 1339.3 760.7 1337.5 763.8C1335.7 766.8 1333.3 771.2 1328.8 776.2C1324.2 781.2 1317.3 787.9 1310.0 793.8C1302.7 799.6 1293.3 806.2 1285.0 811.2C1276.7 816.3 1268.3 820.3 1260.0 824.0C1251.7 827.7 1243.3 831.1 1235.0 833.5C1226.7 835.9 1218.3 837.0 1210.0 838.2C1201.7 839.4 1193.3 840.2 1185.0 840.5C1176.7 840.8 1167.1 840.4 1160.0 840.0C1152.9 839.6 1149.6 839.4 1142.5 838.3C1135.4 837.2 1125.8 835.7 1117.5 833.5C1109.2 831.3 1100.8 828.5 1092.5 825.0C1084.2 821.5 1075.8 817.3 1067.5 812.5C1059.2 807.7 1049.4 801.2 1042.5 796.2C1035.6 791.2 1029.7 785.9 1026.2 782.5C1022.8 779.1 1023.4 777.9 1021.9 775.6Z" fill="#fa90b3" stroke="#fa90b3" stroke-width="0.6" stroke-linejoin="miter"/>
<path d="M1001.2 783.1C1004.6 782.9 1007.5 781.8 1011.2 782.5C1015.0 783.2 1018.5 784.2 1023.8 787.5C1029.0 790.8 1035.2 797.3 1042.5 802.5C1049.8 807.7 1059.2 813.8 1067.5 818.8C1075.8 823.8 1084.2 828.8 1092.5 832.5C1100.8 836.2 1109.2 838.8 1117.5 841.0C1125.8 843.2 1134.2 844.6 1142.5 846.0C1150.8 847.4 1159.6 848.9 1167.5 849.5C1175.4 850.1 1182.9 850.0 1190.0 849.8C1197.1 849.5 1202.5 849.3 1210.0 848.0C1217.5 846.7 1226.7 844.6 1235.0 842.0C1243.3 839.4 1251.7 836.2 1260.0 832.5C1268.3 828.8 1276.7 825.0 1285.0 820.0C1293.3 815.0 1302.7 808.5 1310.0 802.5C1317.3 796.5 1323.1 789.8 1328.8 783.8C1334.4 777.7 1339.0 771.0 1343.8 766.2C1348.5 761.5 1352.9 758.8 1357.5 755.0C1357.9 760.8 1359.6 766.5 1358.8 772.5C1357.9 778.5 1355.5 784.8 1352.5 791.0C1349.5 797.2 1346.0 803.3 1341.0 810.0C1336.0 816.7 1329.8 824.3 1322.5 831.0C1315.2 837.7 1307.1 844.5 1297.5 850.0C1287.9 855.5 1275.4 860.5 1265.0 864.0C1254.6 867.5 1245.8 869.0 1235.0 870.8C1224.2 872.6 1210.8 874.1 1200.0 874.8C1189.2 875.5 1178.3 875.3 1170.0 874.8C1161.7 874.3 1158.8 873.6 1150.0 871.8C1141.2 870.0 1127.1 866.8 1117.5 863.8C1107.9 860.7 1100.8 857.5 1092.5 853.8C1084.2 850.0 1075.8 846.0 1067.5 841.2C1059.2 836.5 1050.8 831.0 1042.5 825.0C1034.2 819.0 1023.8 810.8 1017.5 805.0C1011.2 799.2 1007.7 793.6 1005.0 790.0C1002.3 786.4 1002.5 785.4 1001.2 783.1Z" fill="#fa90b3" stroke="#fa90b3" stroke-width="0.6" stroke-linejoin="miter"/>
</g>
<g id="leaders" fill="none" stroke="#000" stroke-width="2" stroke-linecap="round" stroke-linejoin="miter">
<path d="M1531 732H1456.5L1313.5 823.3"/>
<path d="M751 916H845L971.5 823.5"/>
</g>
<g id="logo">
<path d="M76.7 54.3L101.2 94.8Q101.9 96 100.5 96H52.9Q51.5 96 52.2 94.8Z" fill="#000" stroke="#000" stroke-width="1.2" stroke-linejoin="round"/>
<rect x="74.7" y="43" width="4" height="14" fill="#000"/>
<rect x="62.2" y="95.5" width="3.7" height="12.5" fill="#555"/>
<rect x="88" y="95.5" width="3.7" height="12.5" fill="#555"/>
<text x="76.3" y="83.2" font-family="Liberation Sans, sans-serif" font-style="italic" font-weight="bold" font-size="19" fill="#fff" text-anchor="middle">μ</text>
<path d="M61.2 91.3h5M63.7 88.8v5M87.6 91.3h4.8" stroke="#fff" stroke-width="1" fill="none"/>
<rect x="119.8" y="43" width="2" height="65" fill="#000"/>
<path d="M110 66.4H132.2L121 83.5Z" fill="#000" stroke="#000" stroke-width="0.8" stroke-linejoin="round"/>
<path d="M110.2 84.7H132" stroke="#000" stroke-width="2.7" stroke-linecap="round" fill="none"/>
<text x="121.2" y="76.6" font-family="Liberation Sans, sans-serif" font-weight="bold" font-size="8.5" fill="#fff" text-anchor="middle">D</text>
<path d="M125.4 60.4h4.6M127.7 58.1v4.6M125.6 89.8h4.4" stroke="#000" stroke-width="0.8" fill="none"/>
</g>
</svg>
<div class="t" id="title" style="left:1489px;top:44px;font-size:47px;font-weight:bold;color:#1c1c1c;transform:scaleX(0.977);">Parts of the brain</div>
<div class="t" id="lab1" style="left:1542px;top:712px;font-size:41px;letter-spacing:1.15px;transform:scaleX(1.06);">Cerebellum</div>
<div class="t" id="lab2" style="left:530.5px;top:896.5px;font-size:41px;letter-spacing:1.15px;transform:scaleX(1.06);">Brainstem</div>
</body></html>
